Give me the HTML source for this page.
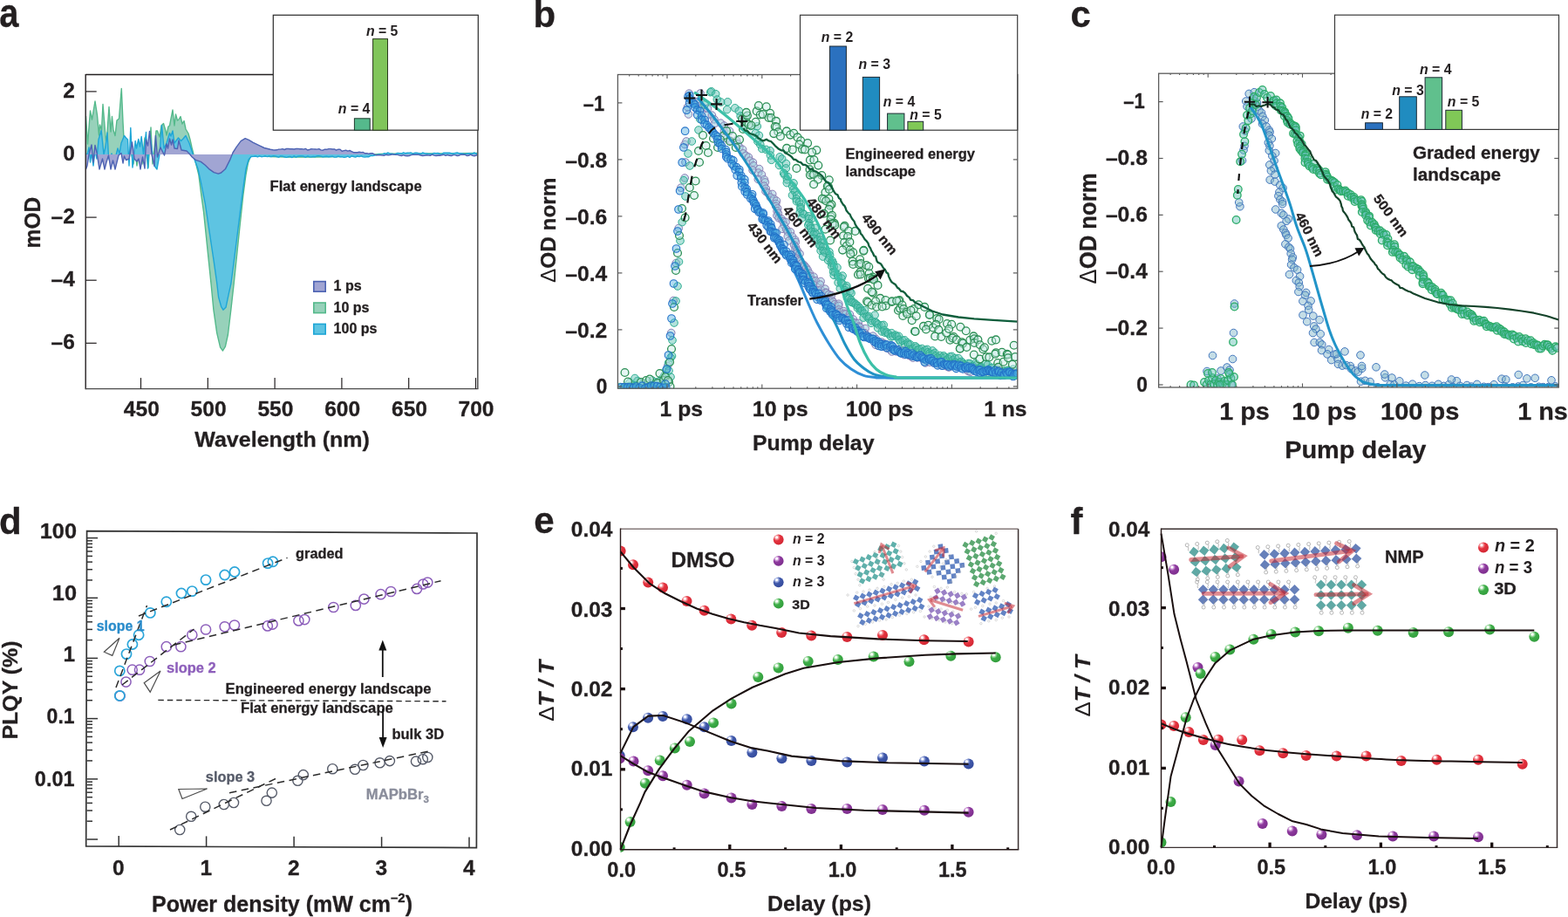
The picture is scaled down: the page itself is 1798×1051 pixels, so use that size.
<!DOCTYPE html>
<html lang="en"><head><meta charset="utf-8"><title>Figure</title>
<style>
html,body{margin:0;padding:0;background:#fff;}
body{width:1798px;height:1051px;overflow:hidden;}
svg{display:block;}
svg text{font-family:"Liberation Sans",sans-serif;font-weight:bold;stroke-width:0.3px;stroke-linejoin:round;}
</style></head><body>
<svg width="1798" height="1051" viewBox="0 0 1798 1051">
<defs><clipPath id="clipA"><rect x="98.2" y="85.5" width="449.6" height="360"/></clipPath><clipPath id="clipB"><rect x="708.4" y="85.5" width="458.4" height="359.7"/></clipPath><clipPath id="clipC"><rect x="1328.6" y="84.2" width="458.7" height="359.8"/></clipPath><radialGradient id="g_red" cx="0.34" cy="0.3" r="0.8" fx="0.32" fy="0.27"><stop offset="0" stop-color="#fff"/><stop offset="0.1" stop-color="#fff"/><stop offset="0.2" stop-color="#f6a3a8"/><stop offset="0.42" stop-color="#e5333f"/><stop offset="1" stop-color="#cf2632"/></radialGradient><radialGradient id="g_purple" cx="0.34" cy="0.3" r="0.8" fx="0.32" fy="0.27"><stop offset="0" stop-color="#fff"/><stop offset="0.1" stop-color="#fff"/><stop offset="0.2" stop-color="#d6a8de"/><stop offset="0.42" stop-color="#8e3a9e"/><stop offset="1" stop-color="#7a2c8a"/></radialGradient><radialGradient id="g_blue" cx="0.34" cy="0.3" r="0.8" fx="0.32" fy="0.27"><stop offset="0" stop-color="#fff"/><stop offset="0.1" stop-color="#fff"/><stop offset="0.2" stop-color="#aab8e6"/><stop offset="0.42" stop-color="#4059ab"/><stop offset="1" stop-color="#33499a"/></radialGradient><radialGradient id="g_green" cx="0.34" cy="0.3" r="0.8" fx="0.32" fy="0.27"><stop offset="0" stop-color="#fff"/><stop offset="0.1" stop-color="#fff"/><stop offset="0.2" stop-color="#b4e4b6"/><stop offset="0.42" stop-color="#3fae49"/><stop offset="1" stop-color="#2f9a3a"/></radialGradient><pattern id="ck_teal" width="8.6" height="8.6" patternUnits="userSpaceOnUse" patternTransform="rotate(-33)"><rect width="4.3" height="4.3" fill="#5fb0ab"/><rect x="4.3" y="4.3" width="4.3" height="4.3" fill="#5fb0ab"/></pattern><pattern id="ck_blueA" width="8.6" height="8.6" patternUnits="userSpaceOnUse" patternTransform="rotate(-38)"><rect width="4.3" height="4.3" fill="#6283c4"/><rect x="4.3" y="4.3" width="4.3" height="4.3" fill="#6283c4"/></pattern><pattern id="ck_green" width="8.6" height="8.6" patternUnits="userSpaceOnUse" patternTransform="rotate(33)"><rect width="4.3" height="4.3" fill="#5ca871"/><rect x="4.3" y="4.3" width="4.3" height="4.3" fill="#5ca871"/></pattern><pattern id="ck_blueB" width="8.6" height="8.6" patternUnits="userSpaceOnUse" patternTransform="rotate(-27)"><rect width="4.3" height="4.3" fill="#6283c4"/><rect x="4.3" y="4.3" width="4.3" height="4.3" fill="#6283c4"/></pattern><pattern id="ck_purp" width="8.6" height="8.6" patternUnits="userSpaceOnUse" patternTransform="rotate(30)"><rect width="4.3" height="4.3" fill="#9a80c6"/><rect x="4.3" y="4.3" width="4.3" height="4.3" fill="#9a80c6"/></pattern><pattern id="ck_blueC" width="8.6" height="8.6" patternUnits="userSpaceOnUse" patternTransform="rotate(-25)"><rect width="4.3" height="4.3" fill="#6283c4"/><rect x="4.3" y="4.3" width="4.3" height="4.3" fill="#6283c4"/></pattern><clipPath id="clipE"><rect x="711.5" y="600" width="460" height="378"/></clipPath><clipPath id="clipF"><rect x="1331.5" y="600" width="460" height="378"/></clipPath></defs>
<rect width="1798" height="1051" fill="#fff"/>
<g clip-path="url(#clipA)">
<path d="M98.5 177 L98.5 133 L100.5 165 L103.5 127 L105.5 137 L109 116 L111.5 132 L113.5 155 L114.5 143 L116.5 149 L118 119.5 L120.5 150 L122 165 L125 122.5 L127 151 L128.5 133.5 L130 149 L132 155.5 L134 138 L136.5 136 L139.3 101.5 L141 140 L142.5 168 L146 180 L150 172 L153 188 L155 175 L157 190 L160 170 L163 188 L166 158 L168 178 L170 192 L173 146 L175 188 L179 150 L180.5 150 L183 157 L185 144 L187.5 141.5 L190 150 L191 155 L193 145 L194.5 144 L198 126 L200 144 L201.5 131 L203.5 138 L205 137 L207 133.5 L209 142 L211 138.5 L213 148 L216 153 L218 160 L220 169 L222 177 L224.4 186.7 L227.8 200 L231 225 L233.6 243.4 L237 276.8 L240.3 308.5 L242.3 328 L244.8 354.3 L248.7 381.6 L252.6 398.1 L255.5 402 L258.4 397.2 L261.4 383.5 L264.9 354.3 L268.2 325 L272 288.5 L275.3 256.8 L278.7 225 L282 200 L284.5 186.7 L287 180 L289.5 177 L295 178.5 L310 179.5 L330 180 L360 180 L390 179.5 L415 178.5 L435 176.5 L470 176 L510 176 L547.5 175.5 L547.5 177 Z" fill="#97d1ba" stroke="none"/><path d="M98.5 133 L100.5 165 L103.5 127 L105.5 137 L109 116 L111.5 132 L113.5 155 L114.5 143 L116.5 149 L118 119.5 L120.5 150 L122 165 L125 122.5 L127 151 L128.5 133.5 L130 149 L132 155.5 L134 138 L136.5 136 L139.3 101.5 L141 140 L142.5 168 L146 180 L150 172 L153 188 L155 175 L157 190 L160 170 L163 188 L166 158 L168 178 L170 192 L173 146 L175 188 L179 150 L180.5 150 L183 157 L185 144 L187.5 141.5 L190 150 L191 155 L193 145 L194.5 144 L198 126 L200 144 L201.5 131 L203.5 138 L205 137 L207 133.5 L209 142 L211 138.5 L213 148 L216 153 L218 160 L220 169 L222 177 L224.4 186.7 L227.8 200 L231 225 L233.6 243.4 L237 276.8 L240.3 308.5 L242.3 328 L244.8 354.3 L248.7 381.6 L252.6 398.1 L255.5 402 L258.4 397.2 L261.4 383.5 L264.9 354.3 L268.2 325 L272 288.5 L275.3 256.8 L278.7 225 L282 200 L284.5 186.7 L287 180 L289.5 177 L295 178.5 L310 179.5 L330 180 L360 180 L390 179.5 L415 178.5 L435 176.5 L470 176 L510 176 L547.5 175.5" fill="none" stroke="#54b98b" stroke-width="1.4" stroke-linejoin="round"/>
<path d="M98.5 177 L98.5 177 L100 177 L102 169 L103.5 186 L105 175 L107 190 L109 172 L111 182 L113 160 L116.2 149.5 L119 177 L121 168 L123 152 L124.5 180 L126 185 L128 176 L131 188 L133 178 L135 170 L137 176 L139 164 L142.5 155.5 L144.5 158 L146.5 160 L148 190 L149.8 146.5 L152 192 L155.2 161.5 L156.5 170 L158.8 159.5 L160.5 168 L162.2 156.5 L164.5 177 L167.5 151.5 L169.5 193 L172 155 L175 177 L177 190 L180 194 L183 177 L185.5 143.5 L188 170 L191 164 L194.5 152.5 L196 156 L198 150 L200 164 L204.5 158 L207.5 161.5 L210 159 L213 155.5 L217 164 L221 176 L222 180 L227 193.4 L230.3 208.4 L235.3 233.4 L240.3 266.8 L245.3 300.2 L248.6 323.5 L250.6 340.6 L253.6 351.3 L255.9 355.2 L259 352.3 L262.3 336.7 L264.9 325 L268.6 296.8 L272 270 L275.3 243.4 L278.7 216.7 L282 193.4 L285 183 L288 179.5 L291 179.3 L293.2 179 L295.4 179.9 L297.6 178.8 L299.8 179.7 L302 179.4 L304.2 178.8 L306.4 179.6 L308.6 178.8 L310.8 179.5 L313 178.8 L315.2 178.9 L317.4 179.5 L319.6 180.2 L321.8 178.9 L324 179.1 L326.2 179.8 L328.4 180.4 L330.6 179.7 L332.8 179.4 L335 180.5 L337.2 178.8 L339.4 180.2 L341.6 179.2 L343.8 179 L346 178.9 L348.2 179.3 L350.4 180.2 L352.6 179 L354.8 179.7 L357 179.9 L359.2 179.4 L361.4 179.7 L363.6 178.8 L365.8 178.8 L368 179.1 L370.2 179.9 L372.4 179.5 L374.6 179.3 L376.8 179.8 L379 179.5 L381.2 179.2 L383.4 180.1 L385.6 180 L387.8 179.1 L390 179.7 L392.2 179.6 L394.4 180.3 L396.6 180 L398.8 179.2 L401 180.5 L403.2 178.9 L405.4 179.5 L407.6 180.1 L409.8 179 L412 179.6 L414.2 178.8 L416.4 179.9 L418.6 180.1 L420.8 179.6 L423 179.7 L425.2 178.3 L427.4 178.6 L429.6 178 L431.8 177.6 L434 177 L436.2 177.3 L438.4 177.1 L440.6 175.8 L442.8 176.1 L445 175 L447.2 176.2 L449.4 176.1 L451.6 176.7 L453.8 176.4 L456 175.4 L458.2 175.6 L460.4 176.1 L462.6 174.9 L464.8 175.7 L467 175.2 L469.2 175.1 L471.4 175 L473.6 176.3 L475.8 175.1 L478 175.3 L480.2 175.6 L482.4 176.5 L484.6 175 L486.8 175.7 L489 175.9 L491.2 176.5 L493.4 176.4 L495.6 176.5 L497.8 175.4 L500 175.6 L502.2 175.5 L504.4 176.5 L506.6 176.6 L508.8 175.2 L511 175.2 L513.2 175.3 L515.4 175.3 L517.6 175.8 L519.8 176 L522 175.4 L524.2 174.9 L526.4 175.7 L528.6 175.6 L530.8 175.9 L533 176.6 L535.2 176.1 L537.4 175.8 L539.6 176 L541.8 176.1 L544 175 L546.2 176.5 L547.5 175.5 L547.5 177 Z" fill="#5ec4e2" stroke="none"/><path d="M98.5 177 L100 177 L102 169 L103.5 186 L105 175 L107 190 L109 172 L111 182 L113 160 L116.2 149.5 L119 177 L121 168 L123 152 L124.5 180 L126 185 L128 176 L131 188 L133 178 L135 170 L137 176 L139 164 L142.5 155.5 L144.5 158 L146.5 160 L148 190 L149.8 146.5 L152 192 L155.2 161.5 L156.5 170 L158.8 159.5 L160.5 168 L162.2 156.5 L164.5 177 L167.5 151.5 L169.5 193 L172 155 L175 177 L177 190 L180 194 L183 177 L185.5 143.5 L188 170 L191 164 L194.5 152.5 L196 156 L198 150 L200 164 L204.5 158 L207.5 161.5 L210 159 L213 155.5 L217 164 L221 176 L222 180 L227 193.4 L230.3 208.4 L235.3 233.4 L240.3 266.8 L245.3 300.2 L248.6 323.5 L250.6 340.6 L253.6 351.3 L255.9 355.2 L259 352.3 L262.3 336.7 L264.9 325 L268.6 296.8 L272 270 L275.3 243.4 L278.7 216.7 L282 193.4 L285 183 L288 179.5 L291 179.3 L293.2 179 L295.4 179.9 L297.6 178.8 L299.8 179.7 L302 179.4 L304.2 178.8 L306.4 179.6 L308.6 178.8 L310.8 179.5 L313 178.8 L315.2 178.9 L317.4 179.5 L319.6 180.2 L321.8 178.9 L324 179.1 L326.2 179.8 L328.4 180.4 L330.6 179.7 L332.8 179.4 L335 180.5 L337.2 178.8 L339.4 180.2 L341.6 179.2 L343.8 179 L346 178.9 L348.2 179.3 L350.4 180.2 L352.6 179 L354.8 179.7 L357 179.9 L359.2 179.4 L361.4 179.7 L363.6 178.8 L365.8 178.8 L368 179.1 L370.2 179.9 L372.4 179.5 L374.6 179.3 L376.8 179.8 L379 179.5 L381.2 179.2 L383.4 180.1 L385.6 180 L387.8 179.1 L390 179.7 L392.2 179.6 L394.4 180.3 L396.6 180 L398.8 179.2 L401 180.5 L403.2 178.9 L405.4 179.5 L407.6 180.1 L409.8 179 L412 179.6 L414.2 178.8 L416.4 179.9 L418.6 180.1 L420.8 179.6 L423 179.7 L425.2 178.3 L427.4 178.6 L429.6 178 L431.8 177.6 L434 177 L436.2 177.3 L438.4 177.1 L440.6 175.8 L442.8 176.1 L445 175 L447.2 176.2 L449.4 176.1 L451.6 176.7 L453.8 176.4 L456 175.4 L458.2 175.6 L460.4 176.1 L462.6 174.9 L464.8 175.7 L467 175.2 L469.2 175.1 L471.4 175 L473.6 176.3 L475.8 175.1 L478 175.3 L480.2 175.6 L482.4 176.5 L484.6 175 L486.8 175.7 L489 175.9 L491.2 176.5 L493.4 176.4 L495.6 176.5 L497.8 175.4 L500 175.6 L502.2 175.5 L504.4 176.5 L506.6 176.6 L508.8 175.2 L511 175.2 L513.2 175.3 L515.4 175.3 L517.6 175.8 L519.8 176 L522 175.4 L524.2 174.9 L526.4 175.7 L528.6 175.6 L530.8 175.9 L533 176.6 L535.2 176.1 L537.4 175.8 L539.6 176 L541.8 176.1 L544 175 L546.2 176.5 L547.5 175.5" fill="none" stroke="#1ea6d6" stroke-width="1.4" stroke-linejoin="round"/>
<path d="M98.5 177 L98.5 194 L100 190 L102 177 L105 166 L107 186 L109 166.5 L111 175 L114 194 L117.5 182 L120 194 L122 186 L124.5 178 L127 194 L129.5 184 L132 194 L134 186 L136 178 L139 175.5 L141 187 L142.5 179 L144.5 183.5 L148 182 L151.5 163 L154 182 L157 185 L159 182 L161 194 L163.5 180 L166 193 L167.5 160 L169.5 167 L171.5 150.5 L174 177 L177 190 L178.5 155.5 L180.5 180 L184 169 L188.5 178 L191 165 L192.5 170 L194.5 159 L196.5 166 L198 160 L200 170 L203.5 170.5 L205 161 L208 172 L211 172.5 L214 173 L217 176 L220.3 180 L224.4 183.4 L230.3 185.4 L235.3 189.2 L240.3 194.2 L245.3 197.6 L250.3 199.2 L253.6 198 L258.6 193.4 L263.6 183.4 L267 175 L271.2 168.4 L276.2 161.7 L281.2 158.6 L285.3 160.3 L290.3 163.3 L297 166.6 L303 169.5 L310 171.3 L313 171.8 L315.2 172 L317.4 171.8 L319.6 171.1 L321.8 171.1 L324 170.6 L326.2 171.5 L328.4 170.5 L330.6 170.5 L332.8 170.8 L335 170.7 L337.2 171 L339.4 170.5 L341.6 170.4 L343.8 170.7 L346 170.6 L348.2 171.1 L350.4 170.4 L352.6 172 L354.8 171.5 L357 170.7 L359.2 170.9 L361.4 171 L363.6 171.1 L365.8 170.6 L368 171.9 L370.2 172.2 L372.4 171.2 L374.6 171.3 L376.8 170.6 L379 170.6 L381.2 171 L383.4 170.9 L385.6 172.2 L387.8 171.2 L390 171.2 L392.2 173.2 L394.4 172.6 L396.6 172.2 L398.8 173.2 L401 172.5 L403.2 173.6 L405.4 174.7 L407.6 174.7 L409.8 174.7 L412 174.2 L414.2 174.6 L416.4 174.5 L418.6 175.8 L420.8 175.6 L423 176.3 L425.2 175.8 L427.4 175.8 L429.6 177.1 L431.8 177.7 L434 177.7 L436.2 177.8 L438.4 178.1 L440.6 178.2 L442.8 177.3 L445 177.8 L447.2 177.5 L449.4 177 L451.6 177 L453.8 177.4 L456 177.4 L458.2 178.1 L460.4 178.6 L462.6 177.7 L464.8 178.6 L467 178.7 L469.2 178.6 L471.4 177.6 L473.6 177.3 L475.8 177.3 L478 177.3 L480.2 177.3 L482.4 178 L484.6 178.5 L486.8 178.4 L489 177.8 L491.2 178.1 L493.4 178.3 L495.6 177.1 L497.8 178.1 L500 178.5 L502.2 178.3 L504.4 178.3 L506.6 177.8 L508.8 177.2 L511 178.3 L513.2 177.5 L515.4 178.3 L517.6 178.6 L519.8 177.6 L522 177.6 L524.2 178.6 L526.4 178.2 L528.6 177.2 L530.8 177.1 L533 177.2 L535.2 178.5 L537.4 178.4 L539.6 177.2 L541.8 178.4 L544 178.7 L546.2 178.1 L547.5 177.2 L547.5 177 Z" fill="#a1a5d3" stroke="none"/><path d="M98.5 194 L100 190 L102 177 L105 166 L107 186 L109 166.5 L111 175 L114 194 L117.5 182 L120 194 L122 186 L124.5 178 L127 194 L129.5 184 L132 194 L134 186 L136 178 L139 175.5 L141 187 L142.5 179 L144.5 183.5 L148 182 L151.5 163 L154 182 L157 185 L159 182 L161 194 L163.5 180 L166 193 L167.5 160 L169.5 167 L171.5 150.5 L174 177 L177 190 L178.5 155.5 L180.5 180 L184 169 L188.5 178 L191 165 L192.5 170 L194.5 159 L196.5 166 L198 160 L200 170 L203.5 170.5 L205 161 L208 172 L211 172.5 L214 173 L217 176 L220.3 180 L224.4 183.4 L230.3 185.4 L235.3 189.2 L240.3 194.2 L245.3 197.6 L250.3 199.2 L253.6 198 L258.6 193.4 L263.6 183.4 L267 175 L271.2 168.4 L276.2 161.7 L281.2 158.6 L285.3 160.3 L290.3 163.3 L297 166.6 L303 169.5 L310 171.3 L313 171.8 L315.2 172 L317.4 171.8 L319.6 171.1 L321.8 171.1 L324 170.6 L326.2 171.5 L328.4 170.5 L330.6 170.5 L332.8 170.8 L335 170.7 L337.2 171 L339.4 170.5 L341.6 170.4 L343.8 170.7 L346 170.6 L348.2 171.1 L350.4 170.4 L352.6 172 L354.8 171.5 L357 170.7 L359.2 170.9 L361.4 171 L363.6 171.1 L365.8 170.6 L368 171.9 L370.2 172.2 L372.4 171.2 L374.6 171.3 L376.8 170.6 L379 170.6 L381.2 171 L383.4 170.9 L385.6 172.2 L387.8 171.2 L390 171.2 L392.2 173.2 L394.4 172.6 L396.6 172.2 L398.8 173.2 L401 172.5 L403.2 173.6 L405.4 174.7 L407.6 174.7 L409.8 174.7 L412 174.2 L414.2 174.6 L416.4 174.5 L418.6 175.8 L420.8 175.6 L423 176.3 L425.2 175.8 L427.4 175.8 L429.6 177.1 L431.8 177.7 L434 177.7 L436.2 177.8 L438.4 178.1 L440.6 178.2 L442.8 177.3 L445 177.8 L447.2 177.5 L449.4 177 L451.6 177 L453.8 177.4 L456 177.4 L458.2 178.1 L460.4 178.6 L462.6 177.7 L464.8 178.6 L467 178.7 L469.2 178.6 L471.4 177.6 L473.6 177.3 L475.8 177.3 L478 177.3 L480.2 177.3 L482.4 178 L484.6 178.5 L486.8 178.4 L489 177.8 L491.2 178.1 L493.4 178.3 L495.6 177.1 L497.8 178.1 L500 178.5 L502.2 178.3 L504.4 178.3 L506.6 177.8 L508.8 177.2 L511 178.3 L513.2 177.5 L515.4 178.3 L517.6 178.6 L519.8 177.6 L522 177.6 L524.2 178.6 L526.4 178.2 L528.6 177.2 L530.8 177.1 L533 177.2 L535.2 178.5 L537.4 178.4 L539.6 177.2 L541.8 178.4 L544 178.7 L546.2 178.1 L547.5 177.2" fill="none" stroke="#4d63b3" stroke-width="1.4" stroke-linejoin="round"/>
</g>
<line x1="98.2" y1="85.5" x2="313.3" y2="85.5" stroke="#231f20" stroke-width="1.3"/>
<line x1="98.2" y1="84.9" x2="98.2" y2="446.2" stroke="#231f20" stroke-width="1.4"/>
<line x1="98.2" y1="445.6" x2="548.5" y2="445.6" stroke="#4a4a4a" stroke-width="1.4"/>
<line x1="547.8" y1="149.2" x2="547.8" y2="445.6" stroke="#5a5a5a" stroke-width="1.6"/>
<line x1="98.2" y1="104.9" x2="110.7" y2="104.9" stroke="#231f20" stroke-width="1.2"/>
<text x="85.8" y="111.8" font-size="24.5" text-anchor="end" fill="#231f20" stroke="#231f20">2</text>
<text x="85.8" y="183.9" font-size="24.5" text-anchor="end" fill="#231f20" stroke="#231f20">0</text>
<line x1="98.2" y1="249.1" x2="110.7" y2="249.1" stroke="#231f20" stroke-width="1.2"/>
<text x="85.8" y="256" font-size="24.5" text-anchor="end" fill="#231f20" stroke="#231f20">–2</text>
<line x1="98.2" y1="321.2" x2="110.7" y2="321.2" stroke="#231f20" stroke-width="1.2"/>
<text x="85.8" y="328.1" font-size="24.5" text-anchor="end" fill="#231f20" stroke="#231f20">–4</text>
<line x1="98.2" y1="393.3" x2="110.7" y2="393.3" stroke="#231f20" stroke-width="1.2"/>
<text x="85.8" y="400.2" font-size="24.5" text-anchor="end" fill="#231f20" stroke="#231f20">–6</text>
<line x1="161.5" y1="433.1" x2="161.5" y2="445.6" stroke="#231f20" stroke-width="1.2"/>
<text x="162.3" y="477.3" font-size="24" text-anchor="middle" textLength="41" lengthAdjust="spacingAndGlyphs" fill="#231f20" stroke="#231f20">450</text>
<line x1="238.3" y1="433.1" x2="238.3" y2="445.6" stroke="#231f20" stroke-width="1.2"/>
<text x="239.1" y="477.3" font-size="24" text-anchor="middle" textLength="41" lengthAdjust="spacingAndGlyphs" fill="#231f20" stroke="#231f20">500</text>
<line x1="315.1" y1="433.1" x2="315.1" y2="445.6" stroke="#231f20" stroke-width="1.2"/>
<text x="315.9" y="477.3" font-size="24" text-anchor="middle" textLength="41" lengthAdjust="spacingAndGlyphs" fill="#231f20" stroke="#231f20">550</text>
<line x1="391.9" y1="433.1" x2="391.9" y2="445.6" stroke="#231f20" stroke-width="1.2"/>
<text x="392.7" y="477.3" font-size="24" text-anchor="middle" textLength="41" lengthAdjust="spacingAndGlyphs" fill="#231f20" stroke="#231f20">600</text>
<line x1="468.7" y1="433.1" x2="468.7" y2="445.6" stroke="#231f20" stroke-width="1.2"/>
<text x="469.5" y="477.3" font-size="24" text-anchor="middle" textLength="41" lengthAdjust="spacingAndGlyphs" fill="#231f20" stroke="#231f20">650</text>
<line x1="545.5" y1="433.1" x2="545.5" y2="445.6" stroke="#231f20" stroke-width="1.2"/>
<text x="546" y="477.3" font-size="24" text-anchor="middle" textLength="41" lengthAdjust="spacingAndGlyphs" fill="#231f20" stroke="#231f20">700</text>
<text x="223.3" y="512.4" font-size="24" textLength="200.5" lengthAdjust="spacingAndGlyphs" fill="#231f20" stroke="#231f20">Wavelength (nm)</text>
<text font-size="25.5" textLength="58.6" lengthAdjust="spacingAndGlyphs" transform="translate(46.3 284.4) rotate(-90)" fill="#231f20" stroke="#231f20">mOD</text>
<rect x="313.3" y="17.3" width="235" height="131.9" fill="#fff" stroke="#2a2a2a" stroke-width="1.2"/>
<rect x="406.4" y="135.8" width="17.8" height="13.4" fill="#55b98c" stroke="#1f3a2e" stroke-width="1"/>
<rect x="427.6" y="44.6" width="16.9" height="104.6" fill="#80c55a" stroke="#2a3a1e" stroke-width="1"/>
<text x="420" y="40.6" font-size="16.4" textLength="36.4" lengthAdjust="spacingAndGlyphs" fill="#231f20"><tspan font-style="italic">n</tspan> = 5</text>
<text x="387.8" y="129.6" font-size="16.4" textLength="36.6" lengthAdjust="spacingAndGlyphs" fill="#231f20"><tspan font-style="italic">n</tspan> = 4</text>
<text x="309.6" y="218.7" font-size="16" textLength="174" lengthAdjust="spacingAndGlyphs" fill="#231f20" stroke="#231f20">Flat energy landscape</text>
<rect x="359.8" y="322.6" width="13.4" height="11.6" fill="#a1a5d3" stroke="#4d63b3" stroke-width="1.6"/>
<text x="382.6" y="333.2" font-size="16" fill="#231f20" stroke="#231f20">1 ps</text>
<rect x="359.8" y="347" width="13.4" height="11.6" fill="#97d1ba" stroke="#54b98b" stroke-width="1.6"/>
<text x="382.6" y="357.6" font-size="16" fill="#231f20" stroke="#231f20">10 ps</text>
<rect x="359.8" y="371.4" width="13.4" height="11.6" fill="#5ec4e2" stroke="#1ea6d6" stroke-width="1.6"/>
<text x="382.6" y="382" font-size="16" fill="#231f20" stroke="#231f20">100 ps</text>
<text x="-0.8" y="31.3" font-size="46" textLength="22.2" lengthAdjust="spacingAndGlyphs" fill="#231f20" stroke="#231f20">a</text>
<g clip-path="url(#clipB)">
<g fill="rgba(150,200,220,0.5)" stroke="#8b7db5" stroke-width="1.0"><circle cx="765.7" cy="419.5" r="4.3"/><circle cx="769.7" cy="381.5" r="4.3"/><circle cx="772.2" cy="344.5" r="4.3"/><circle cx="775.2" cy="301.5" r="4.3"/><circle cx="778.2" cy="261.5" r="4.3"/><circle cx="780.8" cy="215.2" r="4.3"/><circle cx="785.1" cy="165.5" r="4.3"/><circle cx="788.5" cy="122.7" r="4.3"/><circle cx="785.2" cy="204" r="4.3"/><circle cx="786" cy="186" r="4.3"/><circle cx="787" cy="162" r="4.3"/><circle cx="789.5" cy="131" r="4.3"/><circle cx="803" cy="107" r="4.3"/><circle cx="790.2" cy="107.1" r="4.3"/><circle cx="791.2" cy="113.3" r="4.3"/><circle cx="795.2" cy="115.7" r="4.3"/><circle cx="800.6" cy="116.1" r="4.3"/><circle cx="801.1" cy="122" r="4.3"/><circle cx="805.3" cy="123.8" r="4.3"/><circle cx="811.4" cy="124.5" r="4.3"/><circle cx="810.8" cy="132" r="4.3"/><circle cx="816.4" cy="132.1" r="4.3"/><circle cx="819" cy="136.8" r="4.3"/><circle cx="820.1" cy="141.2" r="4.3"/><circle cx="826.5" cy="141.1" r="4.3"/><circle cx="830.4" cy="144" r="4.3"/><circle cx="830.4" cy="150.2" r="4.3"/><circle cx="836.6" cy="150.2" r="4.3"/><circle cx="833.6" cy="158.9" r="4.3"/><circle cx="837.5" cy="161.2" r="4.3"/><circle cx="844.5" cy="161.1" r="4.3"/><circle cx="846.1" cy="164.8" r="4.3"/><circle cx="847.9" cy="168.5" r="4.3"/><circle cx="851.6" cy="171.3" r="4.3"/><circle cx="852.3" cy="175.9" r="4.3"/><circle cx="855.3" cy="178.3" r="4.3"/><circle cx="858.4" cy="180.1" r="4.3"/><circle cx="859.8" cy="184.2" r="4.3"/><circle cx="863.4" cy="186.1" r="4.3"/><circle cx="863.9" cy="189.8" r="4.3"/><circle cx="863.1" cy="195.1" r="4.3"/><circle cx="870.6" cy="193.6" r="4.3"/><circle cx="869.7" cy="198" r="4.3"/><circle cx="873.4" cy="200" r="4.3"/><circle cx="869.3" cy="205.5" r="4.3"/><circle cx="876.4" cy="205.8" r="4.3"/><circle cx="877.4" cy="208.9" r="4.3"/><circle cx="876.2" cy="213.1" r="4.3"/><circle cx="878.3" cy="216.1" r="4.3"/><circle cx="878" cy="219.4" r="4.3"/><circle cx="880.4" cy="221.2" r="4.3"/><circle cx="885.7" cy="222.4" r="4.3"/><circle cx="883.4" cy="226.1" r="4.3"/><circle cx="887.4" cy="227.9" r="4.3"/><circle cx="890.5" cy="230.2" r="4.3"/><circle cx="889.7" cy="233.5" r="4.3"/><circle cx="889.7" cy="236.4" r="4.3"/><circle cx="891.7" cy="238.9" r="4.3"/><circle cx="891.1" cy="242" r="4.3"/><circle cx="892.4" cy="244.7" r="4.3"/><circle cx="890.9" cy="247.1" r="4.3"/><circle cx="893.1" cy="249.9" r="4.3"/><circle cx="896.2" cy="250.9" r="4.3"/><circle cx="897.9" cy="253.7" r="4.3"/><circle cx="901" cy="254.5" r="4.3"/><circle cx="899.2" cy="258.2" r="4.3"/><circle cx="897.1" cy="262.3" r="4.3"/><circle cx="901.7" cy="262.8" r="4.3"/><circle cx="903.1" cy="265.5" r="4.3"/><circle cx="906.4" cy="265.9" r="4.3"/><circle cx="903.3" cy="270.9" r="4.3"/><circle cx="908.4" cy="271" r="4.3"/><circle cx="904.9" cy="275.8" r="4.3"/><circle cx="911.6" cy="274.9" r="4.3"/><circle cx="912.3" cy="277.5" r="4.3"/><circle cx="910.5" cy="280.7" r="4.3"/><circle cx="912.3" cy="283" r="4.3"/><circle cx="912" cy="286.3" r="4.3"/><circle cx="914.1" cy="286.9" r="4.3"/><circle cx="913.8" cy="290.3" r="4.3"/><circle cx="917" cy="290.8" r="4.3"/><circle cx="913.2" cy="296.3" r="4.3"/><circle cx="916.6" cy="297.9" r="4.3"/><circle cx="917.8" cy="299.2" r="4.3"/><circle cx="919.2" cy="301.9" r="4.3"/><circle cx="921.8" cy="303.6" r="4.3"/><circle cx="922.6" cy="305.1" r="4.3"/><circle cx="924.6" cy="306.9" r="4.3"/><circle cx="926.1" cy="309.4" r="4.3"/><circle cx="924.6" cy="312.9" r="4.3"/><circle cx="928.3" cy="313.3" r="4.3"/><circle cx="929.3" cy="316.5" r="4.3"/><circle cx="933" cy="317.2" r="4.3"/><circle cx="931.1" cy="320.9" r="4.3"/><circle cx="935.2" cy="321.8" r="4.3"/><circle cx="932.5" cy="326.3" r="4.3"/><circle cx="941.1" cy="322.5" r="4.3"/><circle cx="940.4" cy="326.1" r="4.3"/><circle cx="937.9" cy="332.5" r="4.3"/><circle cx="941.3" cy="332.2" r="4.3"/><circle cx="946.1" cy="331.1" r="4.3"/><circle cx="946.7" cy="335.1" r="4.3"/><circle cx="947.9" cy="335.7" r="4.3"/><circle cx="950.4" cy="337.5" r="4.3"/><circle cx="953.3" cy="338.5" r="4.3"/><circle cx="951" cy="344.2" r="4.3"/><circle cx="954" cy="344.2" r="4.3"/><circle cx="955.5" cy="346.2" r="4.3"/><circle cx="957" cy="348.8" r="4.3"/><circle cx="961.8" cy="348.2" r="4.3"/><circle cx="961.7" cy="350.4" r="4.3"/><circle cx="961.8" cy="354.9" r="4.3"/><circle cx="962.6" cy="357.7" r="4.3"/><circle cx="967.3" cy="356.6" r="4.3"/><circle cx="967.9" cy="359.3" r="4.3"/><circle cx="969.6" cy="360.1" r="4.3"/><circle cx="974.4" cy="360.3" r="4.3"/><circle cx="973.8" cy="363.8" r="4.3"/><circle cx="975.1" cy="366.3" r="4.3"/><circle cx="978.4" cy="366" r="4.3"/><circle cx="978.8" cy="369.8" r="4.3"/><circle cx="981" cy="370.1" r="4.3"/><circle cx="984.2" cy="370.4" r="4.3"/><circle cx="985.1" cy="374.1" r="4.3"/><circle cx="986.3" cy="375.1" r="4.3"/><circle cx="986.7" cy="378.9" r="4.3"/><circle cx="992.1" cy="376.5" r="4.3"/><circle cx="991.5" cy="381.6" r="4.3"/><circle cx="992.5" cy="383.9" r="4.3"/><circle cx="995.1" cy="385.6" r="4.3"/><circle cx="996" cy="386.6" r="4.3"/><circle cx="1001" cy="385.1" r="4.3"/><circle cx="1001.8" cy="388.5" r="4.3"/><circle cx="1004.4" cy="388.5" r="4.3"/><circle cx="1004.1" cy="395.3" r="4.3"/><circle cx="1007.6" cy="392.5" r="4.3"/><circle cx="1010.9" cy="392.1" r="4.3"/><circle cx="1013.2" cy="393.5" r="4.3"/><circle cx="1014.9" cy="395.2" r="4.3"/><circle cx="1016.3" cy="398.8" r="4.3"/><circle cx="1019.5" cy="398.2" r="4.3"/><circle cx="1020.5" cy="400.5" r="4.3"/><circle cx="1022.6" cy="403" r="4.3"/><circle cx="1026" cy="400.6" r="4.3"/><circle cx="1027.6" cy="402.8" r="4.3"/><circle cx="1030.3" cy="402.2" r="4.3"/><circle cx="1033" cy="402.3" r="4.3"/><circle cx="1036.1" cy="401.5" r="4.3"/><circle cx="1036.9" cy="406.6" r="4.3"/><circle cx="1040.6" cy="403.4" r="4.3"/><circle cx="1042.3" cy="407.3" r="4.3"/><circle cx="1044.2" cy="408.2" r="4.3"/><circle cx="1046.8" cy="410.1" r="4.3"/><circle cx="1050.2" cy="407.7" r="4.3"/><circle cx="1051.9" cy="409.9" r="4.3"/><circle cx="1055.5" cy="406.2" r="4.3"/><circle cx="1056.9" cy="410.5" r="4.3"/><circle cx="1059.6" cy="411.7" r="4.3"/><circle cx="1061.1" cy="415.9" r="4.3"/><circle cx="1064.5" cy="412.2" r="4.3"/><circle cx="1066" cy="415.1" r="4.3"/><circle cx="1069.2" cy="414" r="4.3"/><circle cx="1071.2" cy="416" r="4.3"/><circle cx="1074" cy="416.3" r="4.3"/><circle cx="1075.7" cy="416.8" r="4.3"/><circle cx="1079.8" cy="413.4" r="4.3"/><circle cx="1080.6" cy="418.8" r="4.3"/><circle cx="1084.1" cy="415.6" r="4.3"/><circle cx="1086.2" cy="420.1" r="4.3"/><circle cx="1088" cy="421" r="4.3"/><circle cx="1090.9" cy="417.9" r="4.3"/><circle cx="1094.9" cy="415.5" r="4.3"/><circle cx="1095.6" cy="418.9" r="4.3"/><circle cx="1098.3" cy="419.5" r="4.3"/><circle cx="1101.1" cy="418" r="4.3"/><circle cx="1104" cy="419.9" r="4.3"/><circle cx="1105.5" cy="420" r="4.3"/><circle cx="1108.6" cy="424" r="4.3"/><circle cx="1110.4" cy="425.5" r="4.3"/><circle cx="1112.8" cy="426.2" r="4.3"/><circle cx="1116.4" cy="421.3" r="4.3"/><circle cx="1118.8" cy="422.6" r="4.3"/><circle cx="1120" cy="424.7" r="4.3"/><circle cx="1123.8" cy="421" r="4.3"/><circle cx="1125.4" cy="422.9" r="4.3"/><circle cx="1127.6" cy="428.8" r="4.3"/><circle cx="1130.5" cy="425.4" r="4.3"/><circle cx="1132.7" cy="423.6" r="4.3"/><circle cx="1135.9" cy="426.7" r="4.3"/><circle cx="1138.5" cy="425.9" r="4.3"/><circle cx="1140.8" cy="424.8" r="4.3"/><circle cx="1143.5" cy="424.6" r="4.3"/><circle cx="1146.1" cy="424.3" r="4.3"/><circle cx="1147.1" cy="428.7" r="4.3"/><circle cx="1149.9" cy="427.8" r="4.3"/><circle cx="1152.5" cy="429.7" r="4.3"/><circle cx="1155.6" cy="426.4" r="4.3"/><circle cx="1157.7" cy="427.3" r="4.3"/><circle cx="1160.7" cy="426.4" r="4.3"/><circle cx="1162.4" cy="427.6" r="4.3"/><circle cx="1165.9" cy="428.3" r="4.3"/></g>
<g fill="rgba(85,190,175,0.45)" stroke="#2eae92" stroke-width="1.0"><circle cx="711" cy="443.5" r="4.3"/><circle cx="714.4" cy="444.9" r="4.3"/><circle cx="717.8" cy="443.6" r="4.3"/><circle cx="721.2" cy="442.7" r="4.3"/><circle cx="724.6" cy="444" r="4.3"/><circle cx="728" cy="442.4" r="4.3"/><circle cx="731.4" cy="442.4" r="4.3"/><circle cx="734.8" cy="444.2" r="4.3"/><circle cx="738.2" cy="445" r="4.3"/><circle cx="741.6" cy="444.1" r="4.3"/><circle cx="745" cy="442.6" r="4.3"/><circle cx="748.4" cy="443.7" r="4.3"/><circle cx="751.8" cy="442.7" r="4.3"/><circle cx="755.2" cy="442.2" r="4.3"/><circle cx="758.6" cy="443.4" r="4.3"/><circle cx="762" cy="443.7" r="4.3"/><circle cx="731" cy="436.5" r="4.3"/><circle cx="728" cy="433.5" r="4.3"/><circle cx="722" cy="438.5" r="4.3"/><circle cx="743" cy="437" r="4.3"/><circle cx="748" cy="436" r="4.3"/><circle cx="737" cy="439.5" r="4.3"/><circle cx="752" cy="438" r="4.3"/><circle cx="757" cy="436" r="4.3"/><circle cx="760" cy="433" r="4.3"/><circle cx="762" cy="430" r="4.3"/><circle cx="764" cy="424" r="4.3"/><circle cx="766.5" cy="416" r="4.3"/><circle cx="769" cy="432" r="4.3"/><circle cx="770.5" cy="408" r="4.3"/><circle cx="767" cy="425" r="4.3"/><circle cx="769" cy="410" r="4.3"/><circle cx="771" cy="390" r="4.3"/><circle cx="773" cy="370" r="4.3"/><circle cx="775" cy="345" r="4.3"/><circle cx="777" cy="328" r="4.3"/><circle cx="778.5" cy="300" r="4.3"/><circle cx="780" cy="276" r="4.3"/><circle cx="782.2" cy="254.6" r="4.3"/><circle cx="784" cy="206.7" r="4.3"/><circle cx="789" cy="176" r="4.3"/><circle cx="793.3" cy="162" r="4.3"/><circle cx="801" cy="149" r="4.3"/><circle cx="802.7" cy="136.5" r="4.3"/><circle cx="808" cy="120" r="4.3"/><circle cx="814.7" cy="105.7" r="4.3"/><circle cx="786" cy="225" r="4.3"/><circle cx="791" cy="190" r="4.3"/><circle cx="815.7" cy="104.8" r="4.3"/><circle cx="820.7" cy="107.7" r="4.3"/><circle cx="822.3" cy="114" r="4.3"/><circle cx="826.7" cy="117" r="4.3"/><circle cx="834.4" cy="116.8" r="4.3"/><circle cx="833.7" cy="125.6" r="4.3"/><circle cx="842.8" cy="123.8" r="4.3"/><circle cx="847.3" cy="127.1" r="4.3"/><circle cx="849.2" cy="132.9" r="4.3"/><circle cx="855.2" cy="133.9" r="4.3"/><circle cx="854.1" cy="143.2" r="4.3"/><circle cx="860.9" cy="144.5" r="4.3"/><circle cx="868.3" cy="144.8" r="4.3"/><circle cx="866.4" cy="152.6" r="4.3"/><circle cx="870.4" cy="155.2" r="4.3"/><circle cx="868.8" cy="162.1" r="4.3"/><circle cx="871.8" cy="165.8" r="4.3"/><circle cx="873.8" cy="170.5" r="4.3"/><circle cx="878.5" cy="171.4" r="4.3"/><circle cx="883.1" cy="172.7" r="4.3"/><circle cx="883.4" cy="178" r="4.3"/><circle cx="884.6" cy="183.3" r="4.3"/><circle cx="894.2" cy="179.8" r="4.3"/><circle cx="896.7" cy="182.1" r="4.3"/><circle cx="893.5" cy="189.5" r="4.3"/><circle cx="901.5" cy="187.5" r="4.3"/><circle cx="901.3" cy="192.9" r="4.3"/><circle cx="898.6" cy="198.4" r="4.3"/><circle cx="899.6" cy="200.3" r="4.3"/><circle cx="903.3" cy="202.5" r="4.3"/><circle cx="902.5" cy="205.9" r="4.3"/><circle cx="902.3" cy="209.6" r="4.3"/><circle cx="910" cy="209.9" r="4.3"/><circle cx="908.6" cy="213.2" r="4.3"/><circle cx="909.7" cy="217.1" r="4.3"/><circle cx="911.4" cy="219.6" r="4.3"/><circle cx="908.5" cy="223.8" r="4.3"/><circle cx="913.7" cy="223.9" r="4.3"/><circle cx="913.2" cy="228" r="4.3"/><circle cx="913.4" cy="230.8" r="4.3"/><circle cx="916.6" cy="231.6" r="4.3"/><circle cx="918.5" cy="234.2" r="4.3"/><circle cx="918" cy="237.5" r="4.3"/><circle cx="918" cy="239.3" r="4.3"/><circle cx="917.2" cy="243.4" r="4.3"/><circle cx="920.4" cy="244.3" r="4.3"/><circle cx="922" cy="245.6" r="4.3"/><circle cx="919.6" cy="249.9" r="4.3"/><circle cx="927.2" cy="247.8" r="4.3"/><circle cx="927.5" cy="250.5" r="4.3"/><circle cx="931.3" cy="250.2" r="4.3"/><circle cx="927.7" cy="255.8" r="4.3"/><circle cx="926.8" cy="258" r="4.3"/><circle cx="929.4" cy="259.5" r="4.3"/><circle cx="929.7" cy="261.8" r="4.3"/><circle cx="934.7" cy="261.3" r="4.3"/><circle cx="930.7" cy="265.6" r="4.3"/><circle cx="934.1" cy="266.4" r="4.3"/><circle cx="933" cy="268.8" r="4.3"/><circle cx="936.2" cy="268.6" r="4.3"/><circle cx="933.6" cy="273.4" r="4.3"/><circle cx="940.5" cy="271.6" r="4.3"/><circle cx="937.2" cy="274.8" r="4.3"/><circle cx="941" cy="275.4" r="4.3"/><circle cx="941.7" cy="278" r="4.3"/><circle cx="939.7" cy="281.2" r="4.3"/><circle cx="941" cy="282.1" r="4.3"/><circle cx="943.4" cy="283.1" r="4.3"/><circle cx="941.1" cy="287.4" r="4.3"/><circle cx="944.2" cy="287.5" r="4.3"/><circle cx="945.9" cy="289.3" r="4.3"/><circle cx="950.9" cy="288.7" r="4.3"/><circle cx="943.6" cy="294.1" r="4.3"/><circle cx="951.6" cy="292.6" r="4.3"/><circle cx="950.6" cy="295.8" r="4.3"/><circle cx="949.6" cy="298.3" r="4.3"/><circle cx="954.2" cy="298.7" r="4.3"/><circle cx="953.4" cy="301.4" r="4.3"/><circle cx="955.4" cy="301.4" r="4.3"/><circle cx="953.8" cy="305.3" r="4.3"/><circle cx="956.2" cy="305.7" r="4.3"/><circle cx="960" cy="306.6" r="4.3"/><circle cx="955.6" cy="311.4" r="4.3"/><circle cx="957.5" cy="311.8" r="4.3"/><circle cx="956.2" cy="315.4" r="4.3"/><circle cx="960.6" cy="315.2" r="4.3"/><circle cx="961.1" cy="317.4" r="4.3"/><circle cx="966.1" cy="316.1" r="4.3"/><circle cx="964.9" cy="319.1" r="4.3"/><circle cx="961.1" cy="323.9" r="4.3"/><circle cx="964.6" cy="324.2" r="4.3"/><circle cx="966" cy="325.2" r="4.3"/><circle cx="963.3" cy="330.7" r="4.3"/><circle cx="970.9" cy="327.6" r="4.3"/><circle cx="970.4" cy="329.7" r="4.3"/><circle cx="969" cy="332.8" r="4.3"/><circle cx="970" cy="334.9" r="4.3"/><circle cx="974.7" cy="334" r="4.3"/><circle cx="976" cy="336" r="4.3"/><circle cx="971.4" cy="341.1" r="4.3"/><circle cx="974" cy="341.8" r="4.3"/><circle cx="975.9" cy="343.8" r="4.3"/><circle cx="975.9" cy="346.1" r="4.3"/><circle cx="977.6" cy="346.8" r="4.3"/><circle cx="979.9" cy="347.4" r="4.3"/><circle cx="981.5" cy="349.1" r="4.3"/><circle cx="983.6" cy="350.5" r="4.3"/><circle cx="983.3" cy="352.9" r="4.3"/><circle cx="986.3" cy="353.3" r="4.3"/><circle cx="986.5" cy="356.3" r="4.3"/><circle cx="988.3" cy="355.9" r="4.3"/><circle cx="991.6" cy="355.7" r="4.3"/><circle cx="990.7" cy="359.2" r="4.3"/><circle cx="990.2" cy="364.1" r="4.3"/><circle cx="994" cy="362.7" r="4.3"/><circle cx="996.4" cy="362.7" r="4.3"/><circle cx="996.2" cy="365.1" r="4.3"/><circle cx="1003.1" cy="361.2" r="4.3"/><circle cx="999.5" cy="367.6" r="4.3"/><circle cx="999.1" cy="370.3" r="4.3"/><circle cx="1003.8" cy="369.1" r="4.3"/><circle cx="1005.3" cy="370.4" r="4.3"/><circle cx="1007.1" cy="371.9" r="4.3"/><circle cx="1006.6" cy="375.9" r="4.3"/><circle cx="1010.9" cy="372.7" r="4.3"/><circle cx="1013.2" cy="372.4" r="4.3"/><circle cx="1011.3" cy="380" r="4.3"/><circle cx="1013.9" cy="378.4" r="4.3"/><circle cx="1014.9" cy="381.3" r="4.3"/><circle cx="1017.1" cy="380.9" r="4.3"/><circle cx="1018.7" cy="382.6" r="4.3"/><circle cx="1022.4" cy="381.7" r="4.3"/><circle cx="1021.7" cy="385.9" r="4.3"/><circle cx="1023.9" cy="385.4" r="4.3"/><circle cx="1026.7" cy="384" r="4.3"/><circle cx="1028.3" cy="385.6" r="4.3"/><circle cx="1030.6" cy="385.3" r="4.3"/><circle cx="1030.9" cy="389.4" r="4.3"/><circle cx="1032.6" cy="391.7" r="4.3"/><circle cx="1035" cy="390.3" r="4.3"/><circle cx="1037.3" cy="389.8" r="4.3"/><circle cx="1037.6" cy="395.1" r="4.3"/><circle cx="1040.8" cy="392.8" r="4.3"/><circle cx="1041.6" cy="394.8" r="4.3"/><circle cx="1043.8" cy="394.9" r="4.3"/><circle cx="1043.4" cy="400.5" r="4.3"/><circle cx="1046.6" cy="399.6" r="4.3"/><circle cx="1049.5" cy="396.8" r="4.3"/><circle cx="1050.9" cy="398.3" r="4.3"/><circle cx="1052.5" cy="400.8" r="4.3"/><circle cx="1054.1" cy="400.2" r="4.3"/><circle cx="1057.1" cy="399.5" r="4.3"/><circle cx="1057.5" cy="403.6" r="4.3"/><circle cx="1061" cy="401.2" r="4.3"/><circle cx="1063.2" cy="400.4" r="4.3"/><circle cx="1063.8" cy="403.8" r="4.3"/><circle cx="1066.1" cy="404.9" r="4.3"/><circle cx="1069.3" cy="401.9" r="4.3"/><circle cx="1069.4" cy="405.9" r="4.3"/><circle cx="1071.9" cy="404.4" r="4.3"/><circle cx="1072.8" cy="407.8" r="4.3"/><circle cx="1074.9" cy="409.9" r="4.3"/><circle cx="1078" cy="407.5" r="4.3"/><circle cx="1079.3" cy="409.7" r="4.3"/><circle cx="1082.2" cy="407.8" r="4.3"/><circle cx="1083.5" cy="409.5" r="4.3"/><circle cx="1084.8" cy="413.2" r="4.3"/><circle cx="1087.1" cy="411.1" r="4.3"/><circle cx="1089.3" cy="408.8" r="4.3"/><circle cx="1091.4" cy="408.4" r="4.3"/><circle cx="1092.6" cy="412.6" r="4.3"/><circle cx="1095.2" cy="410.5" r="4.3"/><circle cx="1095.7" cy="415.2" r="4.3"/><circle cx="1099.2" cy="410.7" r="4.3"/><circle cx="1100.4" cy="415.6" r="4.3"/><circle cx="1102.5" cy="414.4" r="4.3"/><circle cx="1104.2" cy="416.1" r="4.3"/><circle cx="1106.1" cy="417.7" r="4.3"/><circle cx="1107.6" cy="419" r="4.3"/><circle cx="1110.3" cy="416.5" r="4.3"/><circle cx="1112.3" cy="416.7" r="4.3"/><circle cx="1112.9" cy="420.2" r="4.3"/><circle cx="1115.8" cy="419.5" r="4.3"/><circle cx="1118.6" cy="416.4" r="4.3"/><circle cx="1120.1" cy="418" r="4.3"/><circle cx="1121.6" cy="422.7" r="4.3"/><circle cx="1123.7" cy="421.1" r="4.3"/><circle cx="1125.4" cy="420.9" r="4.3"/><circle cx="1126.8" cy="425.7" r="4.3"/><circle cx="1130.4" cy="417.1" r="4.3"/><circle cx="1132.5" cy="418.1" r="4.3"/><circle cx="1132.8" cy="427.3" r="4.3"/><circle cx="1135.9" cy="421.7" r="4.3"/><circle cx="1137.6" cy="421.3" r="4.3"/><circle cx="1139.5" cy="425.6" r="4.3"/><circle cx="1141.5" cy="426.5" r="4.3"/><circle cx="1143.1" cy="422.9" r="4.3"/><circle cx="1144.8" cy="427.2" r="4.3"/><circle cx="1146.9" cy="427.8" r="4.3"/><circle cx="1148.8" cy="427" r="4.3"/><circle cx="1151" cy="425.5" r="4.3"/><circle cx="1152.7" cy="425" r="4.3"/><circle cx="1155.5" cy="424.3" r="4.3"/><circle cx="1157.4" cy="424.7" r="4.3"/><circle cx="1159.3" cy="427.8" r="4.3"/><circle cx="1161.7" cy="423.1" r="4.3"/></g>
<g fill="rgba(200,235,230,0.45)" stroke="#2c8f55" stroke-width="1.3"><circle cx="716.5" cy="427" r="4.4"/><circle cx="720" cy="437.5" r="4.4"/><circle cx="735" cy="438" r="4.4"/><circle cx="741" cy="436" r="4.4"/><circle cx="745" cy="434.5" r="4.4"/><circle cx="754" cy="439" r="4.4"/><circle cx="756.5" cy="428" r="4.4"/><circle cx="761" cy="436" r="4.4"/><circle cx="763" cy="432" r="4.4"/><circle cx="767" cy="438" r="4.4"/><circle cx="768.5" cy="443" r="4.4"/><circle cx="766" cy="436" r="4.4"/><circle cx="768" cy="415" r="4.4"/><circle cx="770" cy="400" r="4.4"/><circle cx="773" cy="352" r="4.4"/><circle cx="775" cy="310" r="4.4"/><circle cx="777" cy="290" r="4.4"/><circle cx="779" cy="270" r="4.4"/><circle cx="785.6" cy="249.5" r="4.4"/><circle cx="782" cy="239" r="4.4"/><circle cx="796" cy="224" r="4.4"/><circle cx="790.8" cy="215" r="4.4"/><circle cx="797.6" cy="207.5" r="4.4"/><circle cx="802" cy="186" r="4.4"/><circle cx="801" cy="173" r="4.4"/><circle cx="809.6" cy="167" r="4.4"/><circle cx="806" cy="155" r="4.4"/><circle cx="818" cy="158.8" r="4.4"/><circle cx="823" cy="169" r="4.4"/><circle cx="830" cy="155.3" r="4.4"/><circle cx="837" cy="162" r="4.4"/><circle cx="843.8" cy="169" r="4.4"/><circle cx="812" cy="175" r="4.4"/><circle cx="826" cy="160" r="4.4"/><circle cx="833" cy="150" r="4.4"/><circle cx="840" cy="156" r="4.4"/><circle cx="848" cy="160" r="4.4"/><circle cx="852" cy="148" r="4.4"/><circle cx="856" cy="140" r="4.4"/><circle cx="851" cy="136.4" r="4.4"/><circle cx="858.5" cy="142.7" r="4.4"/><circle cx="856.9" cy="132.6" r="4.4"/><circle cx="855.8" cy="128.9" r="4.4"/><circle cx="866.6" cy="139.7" r="4.4"/><circle cx="861.5" cy="143.8" r="4.4"/><circle cx="867.7" cy="127.4" r="4.4"/><circle cx="869.9" cy="121.1" r="4.4"/><circle cx="871.8" cy="131.5" r="4.4"/><circle cx="874.7" cy="131.1" r="4.4"/><circle cx="878.8" cy="122.2" r="4.4"/><circle cx="883.1" cy="129.7" r="4.4"/><circle cx="881.5" cy="135" r="4.4"/><circle cx="884.2" cy="135" r="4.4"/><circle cx="890" cy="138.9" r="4.4"/><circle cx="888.7" cy="145.1" r="4.4"/><circle cx="890.4" cy="145.5" r="4.4"/><circle cx="892.3" cy="151.3" r="4.4"/><circle cx="887.3" cy="153.1" r="4.4"/><circle cx="902" cy="150.4" r="4.4"/><circle cx="894.9" cy="156.3" r="4.4"/><circle cx="906.2" cy="154.6" r="4.4"/><circle cx="910.2" cy="152.8" r="4.4"/><circle cx="914.5" cy="157.4" r="4.4"/><circle cx="902.1" cy="169.9" r="4.4"/><circle cx="918.2" cy="161.3" r="4.4"/><circle cx="916.5" cy="165.6" r="4.4"/><circle cx="908.8" cy="171.6" r="4.4"/><circle cx="926.1" cy="164.1" r="4.4"/><circle cx="920" cy="171.1" r="4.4"/><circle cx="922.9" cy="171.4" r="4.4"/><circle cx="936.3" cy="172.1" r="4.4"/><circle cx="931.1" cy="174.6" r="4.4"/><circle cx="928.9" cy="183.4" r="4.4"/><circle cx="933.4" cy="183.2" r="4.4"/><circle cx="913.4" cy="192.9" r="4.4"/><circle cx="938.3" cy="189.6" r="4.4"/><circle cx="928.5" cy="194.2" r="4.4"/><circle cx="930.9" cy="199.2" r="4.4"/><circle cx="928.9" cy="200.6" r="4.4"/><circle cx="933" cy="200" r="4.4"/><circle cx="942.3" cy="201" r="4.4"/><circle cx="937.9" cy="205.8" r="4.4"/><circle cx="933.1" cy="211.2" r="4.4"/><circle cx="950.8" cy="206.2" r="4.4"/><circle cx="949.9" cy="213.7" r="4.4"/><circle cx="948.8" cy="213.4" r="4.4"/><circle cx="946.4" cy="220.5" r="4.4"/><circle cx="950.9" cy="217" r="4.4"/><circle cx="944.8" cy="228.4" r="4.4"/><circle cx="942.8" cy="227.8" r="4.4"/><circle cx="950.4" cy="227.8" r="4.4"/><circle cx="947.1" cy="230.3" r="4.4"/><circle cx="953.5" cy="234.4" r="4.4"/><circle cx="951.8" cy="235.8" r="4.4"/><circle cx="950.5" cy="239.9" r="4.4"/><circle cx="944.7" cy="244.8" r="4.4"/><circle cx="952.7" cy="248.3" r="4.4"/><circle cx="954" cy="246.8" r="4.4"/><circle cx="952.5" cy="251.6" r="4.4"/><circle cx="956.7" cy="255.9" r="4.4"/><circle cx="954.6" cy="256.4" r="4.4"/><circle cx="946.5" cy="262.7" r="4.4"/><circle cx="957.3" cy="258.1" r="4.4"/><circle cx="968.5" cy="258.9" r="4.4"/><circle cx="967.7" cy="260.3" r="4.4"/><circle cx="973.2" cy="264.8" r="4.4"/><circle cx="952" cy="275.5" r="4.4"/><circle cx="980.6" cy="264.9" r="4.4"/><circle cx="967.1" cy="270.2" r="4.4"/><circle cx="972.2" cy="271.1" r="4.4"/><circle cx="968.2" cy="277.7" r="4.4"/><circle cx="970.8" cy="281.8" r="4.4"/><circle cx="974.4" cy="277.4" r="4.4"/><circle cx="966.2" cy="286.6" r="4.4"/><circle cx="974.7" cy="286.5" r="4.4"/><circle cx="978.2" cy="289.2" r="4.4"/><circle cx="975.2" cy="291.1" r="4.4"/><circle cx="990.4" cy="286.8" r="4.4"/><circle cx="977.5" cy="299.6" r="4.4"/><circle cx="990.3" cy="287.6" r="4.4"/><circle cx="978.2" cy="302.9" r="4.4"/><circle cx="986.1" cy="297.3" r="4.4"/><circle cx="985.1" cy="302.9" r="4.4"/><circle cx="987.1" cy="302" r="4.4"/><circle cx="993.6" cy="304.1" r="4.4"/><circle cx="986.3" cy="311.9" r="4.4"/><circle cx="996.3" cy="305.8" r="4.4"/><circle cx="984" cy="314.7" r="4.4"/><circle cx="986.8" cy="314.5" r="4.4"/><circle cx="996.6" cy="313.3" r="4.4"/><circle cx="995.9" cy="319.1" r="4.4"/><circle cx="1000.7" cy="317.5" r="4.4"/><circle cx="997.8" cy="318.8" r="4.4"/><circle cx="1000.9" cy="319.7" r="4.4"/><circle cx="1002.1" cy="320.7" r="4.4"/><circle cx="995.1" cy="330.8" r="4.4"/><circle cx="1006.5" cy="326.9" r="4.4"/><circle cx="1001" cy="335.6" r="4.4"/><circle cx="999.7" cy="334.5" r="4.4"/><circle cx="994.1" cy="345.2" r="4.4"/><circle cx="995.2" cy="346.5" r="4.4"/><circle cx="999.6" cy="349.8" r="4.4"/><circle cx="1009.3" cy="341.9" r="4.4"/><circle cx="1004.1" cy="345.3" r="4.4"/><circle cx="1015.5" cy="344.1" r="4.4"/><circle cx="1005.2" cy="351.8" r="4.4"/><circle cx="1015.8" cy="350.5" r="4.4"/><circle cx="1011.6" cy="351.5" r="4.4"/><circle cx="1022.7" cy="345.9" r="4.4"/><circle cx="1022.8" cy="345.2" r="4.4"/><circle cx="1031.4" cy="344.1" r="4.4"/><circle cx="1030.7" cy="345.1" r="4.4"/><circle cx="1028.2" cy="344.7" r="4.4"/><circle cx="1030" cy="355.7" r="4.4"/><circle cx="1032.1" cy="353.6" r="4.4"/><circle cx="1034.5" cy="349.6" r="4.4"/><circle cx="1036.2" cy="354.1" r="4.4"/><circle cx="1035.3" cy="362" r="4.4"/><circle cx="1039.7" cy="357.8" r="4.4"/><circle cx="1040.1" cy="359.8" r="4.4"/><circle cx="1047.9" cy="354.1" r="4.4"/><circle cx="1044.5" cy="355.8" r="4.4"/><circle cx="1053.3" cy="349.2" r="4.4"/><circle cx="1045.7" cy="367.3" r="4.4"/><circle cx="1050.7" cy="362.2" r="4.4"/><circle cx="1060.2" cy="351.9" r="4.4"/><circle cx="1049" cy="379.7" r="4.4"/><circle cx="1049.6" cy="380" r="4.4"/><circle cx="1059" cy="373.9" r="4.4"/><circle cx="1066" cy="360.5" r="4.4"/><circle cx="1064.5" cy="372.7" r="4.4"/><circle cx="1065.9" cy="361" r="4.4"/><circle cx="1061.9" cy="377.5" r="4.4"/><circle cx="1074.3" cy="365" r="4.4"/><circle cx="1076.7" cy="365.9" r="4.4"/><circle cx="1069.9" cy="375.4" r="4.4"/><circle cx="1073.3" cy="371.9" r="4.4"/><circle cx="1072.2" cy="385.4" r="4.4"/><circle cx="1076.3" cy="377.9" r="4.4"/><circle cx="1086" cy="371" r="4.4"/><circle cx="1079.3" cy="386" r="4.4"/><circle cx="1091.2" cy="371.7" r="4.4"/><circle cx="1085.2" cy="381.5" r="4.4"/><circle cx="1088.1" cy="377" r="4.4"/><circle cx="1089.4" cy="389.7" r="4.4"/><circle cx="1093.5" cy="386" r="4.4"/><circle cx="1092.2" cy="387.5" r="4.4"/><circle cx="1096.8" cy="389.4" r="4.4"/><circle cx="1101.3" cy="374.8" r="4.4"/><circle cx="1107.7" cy="379.2" r="4.4"/><circle cx="1103" cy="392.2" r="4.4"/><circle cx="1100.8" cy="399.3" r="4.4"/><circle cx="1104.1" cy="393.6" r="4.4"/><circle cx="1100.8" cy="399.7" r="4.4"/><circle cx="1112.3" cy="389.8" r="4.4"/><circle cx="1108.4" cy="397.9" r="4.4"/><circle cx="1116.4" cy="385.4" r="4.4"/><circle cx="1117.1" cy="388.3" r="4.4"/><circle cx="1117.3" cy="392.9" r="4.4"/><circle cx="1121.4" cy="389.4" r="4.4"/><circle cx="1116.8" cy="406.6" r="4.4"/><circle cx="1123.7" cy="395.3" r="4.4"/><circle cx="1123.4" cy="411.6" r="4.4"/><circle cx="1127.3" cy="400.3" r="4.4"/><circle cx="1128.9" cy="398.2" r="4.4"/><circle cx="1130.9" cy="409.2" r="4.4"/><circle cx="1137.3" cy="390.8" r="4.4"/><circle cx="1134.3" cy="409.4" r="4.4"/><circle cx="1142" cy="389.4" r="4.4"/><circle cx="1142" cy="404.3" r="4.4"/><circle cx="1141.2" cy="405.8" r="4.4"/><circle cx="1144.2" cy="416" r="4.4"/><circle cx="1148.9" cy="403.7" r="4.4"/><circle cx="1144.7" cy="420.9" r="4.4"/><circle cx="1150.6" cy="414.8" r="4.4"/><circle cx="1154.7" cy="405.8" r="4.4"/><circle cx="1155.7" cy="406.5" r="4.4"/><circle cx="1156" cy="410.2" r="4.4"/><circle cx="1162.7" cy="395.7" r="4.4"/><circle cx="1160.9" cy="417.8" r="4.4"/><circle cx="1164.1" cy="409" r="4.4"/></g>
<path d="M800 112 C802.5 115 810 123.7 815 130 C820 136.3 825.3 143.7 830 150 C834.7 156.3 838.3 160.8 843.3 168 C848.3 175.2 854.7 184.8 860 193 C865.3 201.2 870 208.8 875 217 C880 225.2 885 233.5 890 242 C895 250.5 900 258.8 905 268 C910 277.2 915 286.7 920 297 C925 307.3 930.8 320.8 935 330 C939.2 339.2 941.5 345.8 945 352 C948.5 358.2 952 360 956 367 C960 374 964.8 386.5 968.7 394 C972.6 401.5 976 407.3 979.6 412 C983.2 416.7 986.8 419.2 990.4 422 C994 424.8 997.1 426.9 1001.3 428.6 C1005.5 430.3 1010.9 431.3 1015.7 432 C1020.5 432.7 1004.8 432.8 1030 433 C1055.2 433.2 1144.2 433 1167 433" fill="none" stroke="#2093c4" stroke-width="3.0"/>
<path d="M789 111 C790.8 113.5 795.7 119.8 800 126 C804.3 132.2 810 140.5 815 148 C820 155.5 825 163.2 830 171 C835 178.8 840 186.8 845 195 C850 203.2 855 211.5 860 220 C865 228.5 870 237.3 875 246 C880 254.7 885 263 890 272 C895 281 900.8 292 905 300 C909.2 308 911.9 313.3 915 320 C918.1 326.7 921 334.2 923.5 340 C926 345.8 927.8 350 930 355 C932.2 360 933.6 363.5 937 370 C940.4 376.5 946.2 387 950.6 394 C955 401 959.1 407.2 963.3 412 C967.5 416.8 971.5 419.9 976 423 C980.5 426.1 985.6 428.8 990.4 430.4 C995.2 432 1000 432.2 1004.9 432.6 C1009.8 433 993 432.9 1020 433 C1047 433.1 1142.5 433 1167 433" fill="none" stroke="#2e8fd6" stroke-width="3.0"/>
<g fill="rgba(70,170,225,0.42)" stroke="#2372c8" stroke-width="1.1"><circle cx="712.7" cy="443.8" r="4.3"/><circle cx="716.1" cy="443.5" r="4.3"/><circle cx="719.5" cy="443.9" r="4.3"/><circle cx="722.9" cy="443.6" r="4.3"/><circle cx="726.3" cy="444.5" r="4.3"/><circle cx="729.7" cy="443" r="4.3"/><circle cx="733.1" cy="444.5" r="4.3"/><circle cx="736.5" cy="442.2" r="4.3"/><circle cx="739.9" cy="445" r="4.3"/><circle cx="743.3" cy="443.9" r="4.3"/><circle cx="746.7" cy="442.1" r="4.3"/><circle cx="750.1" cy="442.3" r="4.3"/><circle cx="753.5" cy="442.8" r="4.3"/><circle cx="756.9" cy="443.5" r="4.3"/><circle cx="760.3" cy="444.6" r="4.3"/><circle cx="763.7" cy="444" r="4.3"/><circle cx="763" cy="440" r="4.3"/><circle cx="764.5" cy="423" r="4.3"/><circle cx="766.5" cy="407" r="4.3"/><circle cx="768.5" cy="385" r="4.3"/><circle cx="770" cy="365" r="4.3"/><circle cx="771" cy="348" r="4.3"/><circle cx="772.5" cy="325" r="4.3"/><circle cx="774" cy="305" r="4.3"/><circle cx="775.5" cy="285" r="4.3"/><circle cx="777" cy="265" r="4.3"/><circle cx="778" cy="240" r="4.3"/><circle cx="779.6" cy="218.7" r="4.3"/><circle cx="782.2" cy="186.2" r="4.3"/><circle cx="783.9" cy="169" r="4.3"/><circle cx="785.6" cy="150.2" r="4.3"/><circle cx="787.3" cy="126.2" r="4.3"/><circle cx="789" cy="110.8" r="4.3"/><circle cx="790.8" cy="109.5" r="4.3"/><circle cx="790.7" cy="113.1" r="4.3"/><circle cx="790.6" cy="118" r="4.3"/><circle cx="795" cy="118.1" r="4.3"/><circle cx="796.8" cy="119.9" r="4.3"/><circle cx="796.9" cy="123" r="4.3"/><circle cx="799.6" cy="125.9" r="4.3"/><circle cx="802.4" cy="127.2" r="4.3"/><circle cx="799.7" cy="131.7" r="4.3"/><circle cx="804.6" cy="132.6" r="4.3"/><circle cx="804.7" cy="137.2" r="4.3"/><circle cx="808.1" cy="137.5" r="4.3"/><circle cx="808.1" cy="142" r="4.3"/><circle cx="810.5" cy="143.2" r="4.3"/><circle cx="812.8" cy="146.2" r="4.3"/><circle cx="815" cy="148" r="4.3"/><circle cx="816.2" cy="149.8" r="4.3"/><circle cx="817.9" cy="152.2" r="4.3"/><circle cx="820.3" cy="154.9" r="4.3"/><circle cx="822.9" cy="156.6" r="4.3"/><circle cx="822.7" cy="159.7" r="4.3"/><circle cx="823.5" cy="163.5" r="4.3"/><circle cx="825.7" cy="164.8" r="4.3"/><circle cx="827.4" cy="167.2" r="4.3"/><circle cx="827.6" cy="170.4" r="4.3"/><circle cx="832.2" cy="171.6" r="4.3"/><circle cx="832.8" cy="174.4" r="4.3"/><circle cx="833.1" cy="177.1" r="4.3"/><circle cx="832.8" cy="179.8" r="4.3"/><circle cx="834.5" cy="181.9" r="4.3"/><circle cx="838.2" cy="182.7" r="4.3"/><circle cx="840.8" cy="183.9" r="4.3"/><circle cx="839.3" cy="187.8" r="4.3"/><circle cx="841.2" cy="190.1" r="4.3"/><circle cx="844.6" cy="191.7" r="4.3"/><circle cx="843.2" cy="194.5" r="4.3"/><circle cx="847.8" cy="194.5" r="4.3"/><circle cx="847.6" cy="197.2" r="4.3"/><circle cx="845.2" cy="201.2" r="4.3"/><circle cx="849.9" cy="201.5" r="4.3"/><circle cx="849.7" cy="204.2" r="4.3"/><circle cx="853.8" cy="205.7" r="4.3"/><circle cx="850.3" cy="209.4" r="4.3"/><circle cx="853.9" cy="209.6" r="4.3"/><circle cx="850.9" cy="213.9" r="4.3"/><circle cx="854.2" cy="215.3" r="4.3"/><circle cx="856.1" cy="216.6" r="4.3"/><circle cx="854.2" cy="219.6" r="4.3"/><circle cx="856.7" cy="220.4" r="4.3"/><circle cx="856.8" cy="223" r="4.3"/><circle cx="862.6" cy="222.8" r="4.3"/><circle cx="861.8" cy="225.1" r="4.3"/><circle cx="860.8" cy="227.6" r="4.3"/><circle cx="863.2" cy="228.9" r="4.3"/><circle cx="864.1" cy="230.6" r="4.3"/><circle cx="864.6" cy="232.8" r="4.3"/><circle cx="866.4" cy="234.1" r="4.3"/><circle cx="867.3" cy="236.5" r="4.3"/><circle cx="865.7" cy="239.3" r="4.3"/><circle cx="868.8" cy="239.6" r="4.3"/><circle cx="868.9" cy="240.9" r="4.3"/><circle cx="870.3" cy="243.4" r="4.3"/><circle cx="872" cy="243.3" r="4.3"/><circle cx="875" cy="244.1" r="4.3"/><circle cx="875.3" cy="245.6" r="4.3"/><circle cx="874.6" cy="249.4" r="4.3"/><circle cx="874.2" cy="251.4" r="4.3"/><circle cx="876.1" cy="252.4" r="4.3"/><circle cx="877.9" cy="253" r="4.3"/><circle cx="880.8" cy="253" r="4.3"/><circle cx="881" cy="254.9" r="4.3"/><circle cx="879.2" cy="258.2" r="4.3"/><circle cx="883.7" cy="257" r="4.3"/><circle cx="881.1" cy="260.2" r="4.3"/><circle cx="884.1" cy="260.3" r="4.3"/><circle cx="884.9" cy="261.7" r="4.3"/><circle cx="883.3" cy="265" r="4.3"/><circle cx="884.8" cy="265.8" r="4.3"/><circle cx="886.7" cy="266.4" r="4.3"/><circle cx="888.5" cy="266.9" r="4.3"/><circle cx="890.1" cy="267.1" r="4.3"/><circle cx="888" cy="271.2" r="4.3"/><circle cx="887.8" cy="272.8" r="4.3"/><circle cx="889.9" cy="273.1" r="4.3"/><circle cx="891.8" cy="274.3" r="4.3"/><circle cx="893.8" cy="275.3" r="4.3"/><circle cx="892.8" cy="277" r="4.3"/><circle cx="893.8" cy="278.8" r="4.3"/><circle cx="894.8" cy="280.4" r="4.3"/><circle cx="895" cy="281.9" r="4.3"/><circle cx="899" cy="280.6" r="4.3"/><circle cx="896.6" cy="284.7" r="4.3"/><circle cx="898.1" cy="285.8" r="4.3"/><circle cx="898.2" cy="287.8" r="4.3"/><circle cx="899.2" cy="288.5" r="4.3"/><circle cx="901.8" cy="288.3" r="4.3"/><circle cx="901.1" cy="291.5" r="4.3"/><circle cx="901.9" cy="292.9" r="4.3"/><circle cx="904.4" cy="292.3" r="4.3"/><circle cx="907.1" cy="292.1" r="4.3"/><circle cx="906.5" cy="294.6" r="4.3"/><circle cx="906.3" cy="297.1" r="4.3"/><circle cx="908.5" cy="297.2" r="4.3"/><circle cx="909.8" cy="299" r="4.3"/><circle cx="907.8" cy="301.4" r="4.3"/><circle cx="910.3" cy="301.5" r="4.3"/><circle cx="911.3" cy="303.7" r="4.3"/><circle cx="912.7" cy="304.5" r="4.3"/><circle cx="913.8" cy="304.9" r="4.3"/><circle cx="911.7" cy="308.3" r="4.3"/><circle cx="915.5" cy="308.8" r="4.3"/><circle cx="915.6" cy="309.8" r="4.3"/><circle cx="916.5" cy="311.7" r="4.3"/><circle cx="917.1" cy="312.9" r="4.3"/><circle cx="919.9" cy="313.6" r="4.3"/><circle cx="920.9" cy="315.1" r="4.3"/><circle cx="920.3" cy="316.6" r="4.3"/><circle cx="921.4" cy="317.4" r="4.3"/><circle cx="920.2" cy="320.7" r="4.3"/><circle cx="922.1" cy="320.7" r="4.3"/><circle cx="923.6" cy="322.4" r="4.3"/><circle cx="922.9" cy="324.5" r="4.3"/><circle cx="926.5" cy="323.7" r="4.3"/><circle cx="927.6" cy="325.3" r="4.3"/><circle cx="927" cy="328.2" r="4.3"/><circle cx="928.6" cy="328.6" r="4.3"/><circle cx="928.3" cy="330.8" r="4.3"/><circle cx="929.5" cy="332.3" r="4.3"/><circle cx="932.6" cy="331.7" r="4.3"/><circle cx="931.4" cy="334.7" r="4.3"/><circle cx="932.1" cy="336" r="4.3"/><circle cx="934.6" cy="335.3" r="4.3"/><circle cx="935.9" cy="336.9" r="4.3"/><circle cx="938.8" cy="336.4" r="4.3"/><circle cx="937.5" cy="340.4" r="4.3"/><circle cx="937" cy="343.2" r="4.3"/><circle cx="941.7" cy="339.5" r="4.3"/><circle cx="941.9" cy="342.7" r="4.3"/><circle cx="941.2" cy="344.2" r="4.3"/><circle cx="944.1" cy="344.1" r="4.3"/><circle cx="946.3" cy="344.3" r="4.3"/><circle cx="945.9" cy="346.3" r="4.3"/><circle cx="946.8" cy="348.8" r="4.3"/><circle cx="947.9" cy="349" r="4.3"/><circle cx="949.6" cy="349.6" r="4.3"/><circle cx="947.7" cy="353.3" r="4.3"/><circle cx="953.1" cy="352" r="4.3"/><circle cx="952.3" cy="354.5" r="4.3"/><circle cx="952" cy="357.3" r="4.3"/><circle cx="954.1" cy="356.2" r="4.3"/><circle cx="954.6" cy="358.2" r="4.3"/><circle cx="954.7" cy="360.9" r="4.3"/><circle cx="958.2" cy="360" r="4.3"/><circle cx="959.2" cy="360.2" r="4.3"/><circle cx="960.5" cy="361.9" r="4.3"/><circle cx="961" cy="364.5" r="4.3"/><circle cx="962.8" cy="364.7" r="4.3"/><circle cx="962.7" cy="367.2" r="4.3"/><circle cx="966" cy="364.4" r="4.3"/><circle cx="967.1" cy="365.6" r="4.3"/><circle cx="968.9" cy="366.8" r="4.3"/><circle cx="969.7" cy="367.6" r="4.3"/><circle cx="972.4" cy="367.1" r="4.3"/><circle cx="970.9" cy="371.1" r="4.3"/><circle cx="973.4" cy="370.8" r="4.3"/><circle cx="974.7" cy="371.5" r="4.3"/><circle cx="973.3" cy="375.2" r="4.3"/><circle cx="977.4" cy="373.3" r="4.3"/><circle cx="977.5" cy="376.2" r="4.3"/><circle cx="978.8" cy="377.4" r="4.3"/><circle cx="981.1" cy="375.9" r="4.3"/><circle cx="981.7" cy="378.4" r="4.3"/><circle cx="982.8" cy="379.9" r="4.3"/><circle cx="984" cy="379.4" r="4.3"/><circle cx="985.5" cy="381.4" r="4.3"/><circle cx="986.1" cy="382.7" r="4.3"/><circle cx="988.6" cy="381.5" r="4.3"/><circle cx="988.7" cy="385.4" r="4.3"/><circle cx="989.7" cy="385.6" r="4.3"/><circle cx="991" cy="386.5" r="4.3"/><circle cx="994.2" cy="385.1" r="4.3"/><circle cx="994.8" cy="387" r="4.3"/><circle cx="996.3" cy="387" r="4.3"/><circle cx="997.9" cy="388.5" r="4.3"/><circle cx="1000.1" cy="388.3" r="4.3"/><circle cx="1001.4" cy="388.6" r="4.3"/><circle cx="1002.1" cy="391.3" r="4.3"/><circle cx="1004.3" cy="390.5" r="4.3"/><circle cx="1004.4" cy="392.8" r="4.3"/><circle cx="1007.3" cy="391.9" r="4.3"/><circle cx="1008" cy="394.3" r="4.3"/><circle cx="1007.7" cy="396.5" r="4.3"/><circle cx="1010.6" cy="394.4" r="4.3"/><circle cx="1010.9" cy="397.2" r="4.3"/><circle cx="1013.8" cy="396.6" r="4.3"/><circle cx="1015.5" cy="394.9" r="4.3"/><circle cx="1017" cy="395" r="4.3"/><circle cx="1017.3" cy="398.8" r="4.3"/><circle cx="1020.8" cy="397.3" r="4.3"/><circle cx="1022" cy="395.9" r="4.3"/><circle cx="1023.7" cy="397.2" r="4.3"/><circle cx="1024.3" cy="400.3" r="4.3"/><circle cx="1025" cy="401" r="4.3"/><circle cx="1026.2" cy="402" r="4.3"/><circle cx="1029.1" cy="400.5" r="4.3"/><circle cx="1029.8" cy="402" r="4.3"/><circle cx="1031.7" cy="403.7" r="4.3"/><circle cx="1033.2" cy="404.9" r="4.3"/><circle cx="1033.8" cy="404.7" r="4.3"/><circle cx="1036.6" cy="404.7" r="4.3"/><circle cx="1038.2" cy="402.7" r="4.3"/><circle cx="1038.8" cy="406.4" r="4.3"/><circle cx="1041.2" cy="404.8" r="4.3"/><circle cx="1041.6" cy="406.5" r="4.3"/><circle cx="1043.5" cy="406.4" r="4.3"/><circle cx="1045.9" cy="405.1" r="4.3"/><circle cx="1046.3" cy="408.1" r="4.3"/><circle cx="1048.2" cy="407" r="4.3"/><circle cx="1050.3" cy="408.9" r="4.3"/><circle cx="1051.7" cy="409.5" r="4.3"/><circle cx="1053.2" cy="409" r="4.3"/><circle cx="1055" cy="407.2" r="4.3"/><circle cx="1056.9" cy="409.3" r="4.3"/><circle cx="1058.1" cy="410" r="4.3"/><circle cx="1059.4" cy="411.3" r="4.3"/><circle cx="1060.2" cy="415" r="4.3"/><circle cx="1062.5" cy="412.9" r="4.3"/><circle cx="1064.5" cy="411.2" r="4.3"/><circle cx="1065.8" cy="412.1" r="4.3"/><circle cx="1067.3" cy="410.8" r="4.3"/><circle cx="1068.2" cy="413.6" r="4.3"/><circle cx="1070" cy="413.5" r="4.3"/><circle cx="1071.3" cy="416" r="4.3"/><circle cx="1073.1" cy="415.1" r="4.3"/><circle cx="1074.7" cy="415.8" r="4.3"/><circle cx="1075.2" cy="418.8" r="4.3"/><circle cx="1078" cy="415" r="4.3"/><circle cx="1079.5" cy="414.8" r="4.3"/><circle cx="1080.5" cy="419.2" r="4.3"/><circle cx="1082.7" cy="417.3" r="4.3"/><circle cx="1084" cy="417.9" r="4.3"/><circle cx="1085.8" cy="417.8" r="4.3"/><circle cx="1086.5" cy="418" r="4.3"/><circle cx="1088" cy="420" r="4.3"/><circle cx="1090" cy="418.2" r="4.3"/><circle cx="1092.1" cy="419.7" r="4.3"/><circle cx="1094.2" cy="417.7" r="4.3"/><circle cx="1095.1" cy="419.1" r="4.3"/><circle cx="1096.4" cy="422.3" r="4.3"/><circle cx="1097.6" cy="420.2" r="4.3"/><circle cx="1099.5" cy="418.3" r="4.3"/><circle cx="1102" cy="419.4" r="4.3"/><circle cx="1102.2" cy="422" r="4.3"/><circle cx="1104.1" cy="422.9" r="4.3"/><circle cx="1106.5" cy="421.3" r="4.3"/><circle cx="1107.5" cy="421.6" r="4.3"/><circle cx="1109.3" cy="420.1" r="4.3"/><circle cx="1110.5" cy="422.1" r="4.3"/><circle cx="1112.2" cy="421.5" r="4.3"/><circle cx="1114.4" cy="421.3" r="4.3"/><circle cx="1115.1" cy="423.1" r="4.3"/><circle cx="1116.4" cy="423.7" r="4.3"/><circle cx="1118.2" cy="425.2" r="4.3"/><circle cx="1120.3" cy="426.2" r="4.3"/><circle cx="1122.3" cy="424.2" r="4.3"/><circle cx="1123.9" cy="423.9" r="4.3"/><circle cx="1124.4" cy="427.6" r="4.3"/><circle cx="1126.3" cy="426.3" r="4.3"/><circle cx="1128" cy="426.1" r="4.3"/><circle cx="1130.2" cy="425.1" r="4.3"/><circle cx="1131.9" cy="425.2" r="4.3"/><circle cx="1133.4" cy="423.9" r="4.3"/><circle cx="1134.6" cy="425.2" r="4.3"/><circle cx="1136" cy="425.5" r="4.3"/><circle cx="1137.6" cy="426.3" r="4.3"/><circle cx="1138.7" cy="426.8" r="4.3"/><circle cx="1141" cy="424.3" r="4.3"/><circle cx="1142" cy="427.4" r="4.3"/><circle cx="1144.5" cy="425.4" r="4.3"/><circle cx="1145.7" cy="426.1" r="4.3"/><circle cx="1147.1" cy="430.3" r="4.3"/><circle cx="1148.4" cy="427.2" r="4.3"/><circle cx="1150.4" cy="430" r="4.3"/><circle cx="1151.9" cy="429.8" r="4.3"/><circle cx="1153.8" cy="426.9" r="4.3"/><circle cx="1155.1" cy="428.8" r="4.3"/><circle cx="1157.2" cy="426.1" r="4.3"/><circle cx="1158" cy="426.8" r="4.3"/><circle cx="1160.4" cy="428.2" r="4.3"/><circle cx="1161.8" cy="431.5" r="4.3"/><circle cx="1162.8" cy="428.9" r="4.3"/><circle cx="1164.6" cy="428.6" r="4.3"/><circle cx="1166.4" cy="428" r="4.3"/></g>
<path d="M796 105.7 C800 108.5 811.8 116.5 820 122.8 C828.2 129.1 837 136.3 845.5 143.4 C854 150.5 863.9 159.1 871 165.6 C878.1 172.1 882.5 175.8 888.4 182.7 C894.3 189.6 900.5 198.8 906.6 207 C912.7 215.2 918.7 222 924.7 232 C930.7 242 937.9 256.2 942.7 266.8 C947.5 277.4 950 285.4 953.6 295.7 C957.2 305.9 961.4 318.9 964.4 328.3 C967.4 337.7 969.5 345.4 971.7 351.8 C973.9 358.2 975.3 359.9 977.8 367 C980.3 374.1 983.8 386.6 986.8 394.2 C989.8 401.8 992.8 407.5 995.8 412.3 C998.8 417.1 1001.6 420.3 1004.9 423.2 C1008.2 426.1 1012.1 428.1 1015.7 429.5 C1019.3 430.9 1022.5 431.3 1026.6 431.9 C1030.6 432.5 1016.6 432.8 1040 433 C1063.4 433.2 1145.8 433 1167 433" fill="none" stroke="#3cc0a8" stroke-width="3.2"/>
<path d="M852.4 146.8 L854.4 149.6 L857 150.1 L859.5 152.8 L862.6 154 L864.7 154.4 L867.7 156 L869.5 158.3 L872.7 160.3 L875.2 161.4 L878.9 159.7 L881.4 161.4 L884 162 L886.3 164.3 L888.8 167.1 L891.4 169.3 L893 170.8 L895.7 172.3 L898.5 172.5 L900.2 175.1 L902.9 176.4 L905.7 178.2 L907.5 179.6 L910.1 182.8 L912.2 182.8 L915.5 185.5 L918.2 186.1 L920.9 188.9 L923.4 188.9 L925.6 190.2 L928.6 194.1 L931.3 193.3 L933.1 196.2 L935.9 196.6 L938.8 198.6 L940.8 200 L943.1 202.1 L944.7 205.1 L947.1 207.9 L949.2 209 L950.9 210.7 L953.3 214 L955.1 217.2 L956.4 219.6 L958.3 222.3 L960.4 223.3 L962 227.1 L964 228.5 L964.3 230.4 L966.8 234.5 L968.2 235.6 L969.4 237.9 L970.5 241.2 L973.2 244.6 L974.6 245.6 L975.7 248.2 L977.1 250.8 L979.6 253.9 L980.7 257.2 L982.8 260.5 L984 261.9 L986 264.2 L986.8 267.6 L988.4 269.2 L990.2 272 L991.7 274.4 L993.4 276 L995.4 278.6 L996.6 282.4 L998 284.2 L999.1 287.1 L1000.9 290 L1002.3 293.3 L1004.1 294 L1005.5 299.1 L1006.5 300.6 L1009.8 302.2 L1011.4 304.5 L1013 307.3 L1015 309.1 L1016.4 312.2 L1018.3 313.5 L1019 316.6 L1020.8 320.6 L1022.5 323.3 L1024.1 324.4 L1026.6 325.9 L1029.2 329.9 L1030.6 330.6 L1033.4 333.9 L1035.3 334 L1037.8 335.9 L1040 339 L1042.8 341.1 L1044 343.6 L1047.4 344.4 L1049 346.5 L1052 348 L1056 350 L1069 356.5 L1081 360.5 L1099 363.5 L1117 365.3 L1135 366.6 L1167 368.6" fill="none" stroke="#0f5e3c" stroke-width="2.3" stroke-linejoin="round"/>
<path d="M784 253 C784.4 251.4 785.5 248.7 786.5 243.5 C787.5 238.3 788.7 229.4 790 222 C791.3 214.6 792.9 204.8 794.2 199 C795.5 193.2 796.5 190.6 797.6 187 C798.7 183.4 799.9 181.2 801 177.6 C802.1 174 803.1 168.9 804.5 165.6 C805.9 162.3 807.5 160.9 809.6 158 C811.7 155.1 814.4 150.3 817.3 148 C820.1 145.7 823.1 145.2 826.7 144.2 C830.3 143.2 835.2 142.6 838.7 142 C842.2 141.4 846.5 140.8 848 140.5" fill="none" stroke="#111" stroke-width="2.2" stroke-dasharray="10 11"/>
<path d="M784.3 112.5 h13 M790.8 106 v13" stroke="#111" stroke-width="2.1" fill="none"/>
<path d="M798 109 h13 M804.5 102.5 v13" stroke="#111" stroke-width="2.1" fill="none"/>
<path d="M815.1 119.4 h13 M821.6 112.9 v13" stroke="#111" stroke-width="2.1" fill="none"/>
<path d="M844.2 139 h13 M850.7 132.5 v13" stroke="#111" stroke-width="2.1" fill="none"/>
</g>
<text font-size="15.3" textLength="55" lengthAdjust="spacingAndGlyphs" transform="translate(856 259.5) rotate(52)" fill="#231f20" stroke="#231f20">430 nm</text>
<text font-size="15.3" textLength="55" lengthAdjust="spacingAndGlyphs" transform="translate(897 241) rotate(52.5)" fill="#231f20" stroke="#231f20">460 nm</text>
<text font-size="15.3" textLength="55" lengthAdjust="spacingAndGlyphs" transform="translate(924 231.3) rotate(52.5)" fill="#231f20" stroke="#231f20">480 nm</text>
<text font-size="15.3" textLength="55.5" lengthAdjust="spacingAndGlyphs" transform="translate(987.3 249.8) rotate(51.5)" fill="#231f20" stroke="#231f20">490 nm</text>
<text x="856.9" y="350.3" font-size="16" textLength="64" lengthAdjust="spacingAndGlyphs" fill="#231f20" stroke="#231f20">Transfer</text>
<path d="M928.3 342.7 Q978 336 1008 314" fill="none" stroke="#111" stroke-width="2.2"/>
<path d="M1015.2 308.6 L1003.2 311.2 L1009.6 320.4 Z" fill="#111"/>
<text x="969.5" y="182.4" font-size="16" textLength="148.5" lengthAdjust="spacingAndGlyphs" fill="#231f20" stroke="#231f20">Engineered energy</text>
<text x="969.5" y="202" font-size="16" textLength="80.5" lengthAdjust="spacingAndGlyphs" fill="#231f20" stroke="#231f20">landscape</text>
<rect x="708.4" y="85.5" width="458.4" height="359.7" fill="none" stroke="#5a5a5a" stroke-width="1.3"/>
<line x1="721.7" y1="85.5" x2="721.7" y2="87.4" stroke="#5a5a5a" stroke-width="1.1"/>
<line x1="721.7" y1="445.2" x2="721.7" y2="443.3" stroke="#5a5a5a" stroke-width="1.1"/>
<line x1="732.2" y1="85.5" x2="732.2" y2="87.4" stroke="#5a5a5a" stroke-width="1.1"/>
<line x1="732.2" y1="445.2" x2="732.2" y2="443.3" stroke="#5a5a5a" stroke-width="1.1"/>
<line x1="740.9" y1="85.5" x2="740.9" y2="87.4" stroke="#5a5a5a" stroke-width="1.1"/>
<line x1="740.9" y1="445.2" x2="740.9" y2="443.3" stroke="#5a5a5a" stroke-width="1.1"/>
<line x1="748.1" y1="85.5" x2="748.1" y2="87.4" stroke="#5a5a5a" stroke-width="1.1"/>
<line x1="748.1" y1="445.2" x2="748.1" y2="443.3" stroke="#5a5a5a" stroke-width="1.1"/>
<line x1="754.5" y1="85.5" x2="754.5" y2="87.4" stroke="#5a5a5a" stroke-width="1.1"/>
<line x1="754.5" y1="445.2" x2="754.5" y2="443.3" stroke="#5a5a5a" stroke-width="1.1"/>
<line x1="760" y1="85.5" x2="760" y2="87.4" stroke="#5a5a5a" stroke-width="1.1"/>
<line x1="760" y1="445.2" x2="760" y2="443.3" stroke="#5a5a5a" stroke-width="1.1"/>
<line x1="765" y1="85.5" x2="765" y2="90.1" stroke="#5a5a5a" stroke-width="1.1"/>
<line x1="765" y1="445.2" x2="765" y2="440.6" stroke="#5a5a5a" stroke-width="1.1"/>
<line x1="797.8" y1="85.5" x2="797.8" y2="87.4" stroke="#5a5a5a" stroke-width="1.1"/>
<line x1="797.8" y1="445.2" x2="797.8" y2="443.3" stroke="#5a5a5a" stroke-width="1.1"/>
<line x1="816.9" y1="85.5" x2="816.9" y2="87.4" stroke="#5a5a5a" stroke-width="1.1"/>
<line x1="816.9" y1="445.2" x2="816.9" y2="443.3" stroke="#5a5a5a" stroke-width="1.1"/>
<line x1="830.5" y1="85.5" x2="830.5" y2="87.4" stroke="#5a5a5a" stroke-width="1.1"/>
<line x1="830.5" y1="445.2" x2="830.5" y2="443.3" stroke="#5a5a5a" stroke-width="1.1"/>
<line x1="841" y1="85.5" x2="841" y2="87.4" stroke="#5a5a5a" stroke-width="1.1"/>
<line x1="841" y1="445.2" x2="841" y2="443.3" stroke="#5a5a5a" stroke-width="1.1"/>
<line x1="849.7" y1="85.5" x2="849.7" y2="87.4" stroke="#5a5a5a" stroke-width="1.1"/>
<line x1="849.7" y1="445.2" x2="849.7" y2="443.3" stroke="#5a5a5a" stroke-width="1.1"/>
<line x1="856.9" y1="85.5" x2="856.9" y2="87.4" stroke="#5a5a5a" stroke-width="1.1"/>
<line x1="856.9" y1="445.2" x2="856.9" y2="443.3" stroke="#5a5a5a" stroke-width="1.1"/>
<line x1="863.3" y1="85.5" x2="863.3" y2="87.4" stroke="#5a5a5a" stroke-width="1.1"/>
<line x1="863.3" y1="445.2" x2="863.3" y2="443.3" stroke="#5a5a5a" stroke-width="1.1"/>
<line x1="868.8" y1="85.5" x2="868.8" y2="87.4" stroke="#5a5a5a" stroke-width="1.1"/>
<line x1="868.8" y1="445.2" x2="868.8" y2="443.3" stroke="#5a5a5a" stroke-width="1.1"/>
<line x1="873.8" y1="85.5" x2="873.8" y2="90.1" stroke="#5a5a5a" stroke-width="1.1"/>
<line x1="873.8" y1="445.2" x2="873.8" y2="440.6" stroke="#5a5a5a" stroke-width="1.1"/>
<line x1="906.6" y1="85.5" x2="906.6" y2="87.4" stroke="#5a5a5a" stroke-width="1.1"/>
<line x1="906.6" y1="445.2" x2="906.6" y2="443.3" stroke="#5a5a5a" stroke-width="1.1"/>
<line x1="925.7" y1="85.5" x2="925.7" y2="87.4" stroke="#5a5a5a" stroke-width="1.1"/>
<line x1="925.7" y1="445.2" x2="925.7" y2="443.3" stroke="#5a5a5a" stroke-width="1.1"/>
<line x1="939.3" y1="85.5" x2="939.3" y2="87.4" stroke="#5a5a5a" stroke-width="1.1"/>
<line x1="939.3" y1="445.2" x2="939.3" y2="443.3" stroke="#5a5a5a" stroke-width="1.1"/>
<line x1="949.8" y1="85.5" x2="949.8" y2="87.4" stroke="#5a5a5a" stroke-width="1.1"/>
<line x1="949.8" y1="445.2" x2="949.8" y2="443.3" stroke="#5a5a5a" stroke-width="1.1"/>
<line x1="958.5" y1="85.5" x2="958.5" y2="87.4" stroke="#5a5a5a" stroke-width="1.1"/>
<line x1="958.5" y1="445.2" x2="958.5" y2="443.3" stroke="#5a5a5a" stroke-width="1.1"/>
<line x1="965.7" y1="85.5" x2="965.7" y2="87.4" stroke="#5a5a5a" stroke-width="1.1"/>
<line x1="965.7" y1="445.2" x2="965.7" y2="443.3" stroke="#5a5a5a" stroke-width="1.1"/>
<line x1="972.1" y1="85.5" x2="972.1" y2="87.4" stroke="#5a5a5a" stroke-width="1.1"/>
<line x1="972.1" y1="445.2" x2="972.1" y2="443.3" stroke="#5a5a5a" stroke-width="1.1"/>
<line x1="977.6" y1="85.5" x2="977.6" y2="87.4" stroke="#5a5a5a" stroke-width="1.1"/>
<line x1="977.6" y1="445.2" x2="977.6" y2="443.3" stroke="#5a5a5a" stroke-width="1.1"/>
<line x1="982.6" y1="85.5" x2="982.6" y2="90.1" stroke="#5a5a5a" stroke-width="1.1"/>
<line x1="982.6" y1="445.2" x2="982.6" y2="440.6" stroke="#5a5a5a" stroke-width="1.1"/>
<line x1="1015.4" y1="85.5" x2="1015.4" y2="87.4" stroke="#5a5a5a" stroke-width="1.1"/>
<line x1="1015.4" y1="445.2" x2="1015.4" y2="443.3" stroke="#5a5a5a" stroke-width="1.1"/>
<line x1="1034.5" y1="85.5" x2="1034.5" y2="87.4" stroke="#5a5a5a" stroke-width="1.1"/>
<line x1="1034.5" y1="445.2" x2="1034.5" y2="443.3" stroke="#5a5a5a" stroke-width="1.1"/>
<line x1="1048.1" y1="85.5" x2="1048.1" y2="87.4" stroke="#5a5a5a" stroke-width="1.1"/>
<line x1="1048.1" y1="445.2" x2="1048.1" y2="443.3" stroke="#5a5a5a" stroke-width="1.1"/>
<line x1="1058.6" y1="85.5" x2="1058.6" y2="87.4" stroke="#5a5a5a" stroke-width="1.1"/>
<line x1="1058.6" y1="445.2" x2="1058.6" y2="443.3" stroke="#5a5a5a" stroke-width="1.1"/>
<line x1="1067.3" y1="85.5" x2="1067.3" y2="87.4" stroke="#5a5a5a" stroke-width="1.1"/>
<line x1="1067.3" y1="445.2" x2="1067.3" y2="443.3" stroke="#5a5a5a" stroke-width="1.1"/>
<line x1="1074.5" y1="85.5" x2="1074.5" y2="87.4" stroke="#5a5a5a" stroke-width="1.1"/>
<line x1="1074.5" y1="445.2" x2="1074.5" y2="443.3" stroke="#5a5a5a" stroke-width="1.1"/>
<line x1="1080.9" y1="85.5" x2="1080.9" y2="87.4" stroke="#5a5a5a" stroke-width="1.1"/>
<line x1="1080.9" y1="445.2" x2="1080.9" y2="443.3" stroke="#5a5a5a" stroke-width="1.1"/>
<line x1="1086.4" y1="85.5" x2="1086.4" y2="87.4" stroke="#5a5a5a" stroke-width="1.1"/>
<line x1="1086.4" y1="445.2" x2="1086.4" y2="443.3" stroke="#5a5a5a" stroke-width="1.1"/>
<line x1="1091.4" y1="85.5" x2="1091.4" y2="90.1" stroke="#5a5a5a" stroke-width="1.1"/>
<line x1="1091.4" y1="445.2" x2="1091.4" y2="440.6" stroke="#5a5a5a" stroke-width="1.1"/>
<line x1="1124.2" y1="85.5" x2="1124.2" y2="87.4" stroke="#5a5a5a" stroke-width="1.1"/>
<line x1="1124.2" y1="445.2" x2="1124.2" y2="443.3" stroke="#5a5a5a" stroke-width="1.1"/>
<line x1="1143.3" y1="85.5" x2="1143.3" y2="87.4" stroke="#5a5a5a" stroke-width="1.1"/>
<line x1="1143.3" y1="445.2" x2="1143.3" y2="443.3" stroke="#5a5a5a" stroke-width="1.1"/>
<line x1="1156.9" y1="85.5" x2="1156.9" y2="87.4" stroke="#5a5a5a" stroke-width="1.1"/>
<line x1="1156.9" y1="445.2" x2="1156.9" y2="443.3" stroke="#5a5a5a" stroke-width="1.1"/>
<line x1="708.4" y1="117.9" x2="713.4" y2="117.9" stroke="#5a5a5a" stroke-width="1.2"/>
<line x1="1166.8" y1="117.9" x2="1161.8" y2="117.9" stroke="#5a5a5a" stroke-width="1.2"/>
<text x="668.8" y="126.6" font-size="24.5" textLength="24.3" lengthAdjust="spacingAndGlyphs" fill="#231f20" stroke="#231f20">–1</text>
<line x1="708.4" y1="182.9" x2="713.4" y2="182.9" stroke="#5a5a5a" stroke-width="1.2"/>
<line x1="1166.8" y1="182.9" x2="1161.8" y2="182.9" stroke="#5a5a5a" stroke-width="1.2"/>
<text x="648.3" y="191.6" font-size="24.5" textLength="48" lengthAdjust="spacingAndGlyphs" fill="#231f20" stroke="#231f20">–0.8</text>
<line x1="708.4" y1="247.9" x2="713.4" y2="247.9" stroke="#5a5a5a" stroke-width="1.2"/>
<line x1="1166.8" y1="247.9" x2="1161.8" y2="247.9" stroke="#5a5a5a" stroke-width="1.2"/>
<text x="648.3" y="256.6" font-size="24.5" textLength="48" lengthAdjust="spacingAndGlyphs" fill="#231f20" stroke="#231f20">–0.6</text>
<line x1="708.4" y1="312.9" x2="713.4" y2="312.9" stroke="#5a5a5a" stroke-width="1.2"/>
<line x1="1166.8" y1="312.9" x2="1161.8" y2="312.9" stroke="#5a5a5a" stroke-width="1.2"/>
<text x="648.3" y="321.6" font-size="24.5" textLength="48" lengthAdjust="spacingAndGlyphs" fill="#231f20" stroke="#231f20">–0.4</text>
<line x1="708.4" y1="377.9" x2="713.4" y2="377.9" stroke="#5a5a5a" stroke-width="1.2"/>
<line x1="1166.8" y1="377.9" x2="1161.8" y2="377.9" stroke="#5a5a5a" stroke-width="1.2"/>
<text x="648.3" y="386.6" font-size="24.5" textLength="48" lengthAdjust="spacingAndGlyphs" fill="#231f20" stroke="#231f20">–0.2</text>
<line x1="708.4" y1="442.9" x2="713.4" y2="442.9" stroke="#5a5a5a" stroke-width="1.2"/>
<line x1="1166.8" y1="442.9" x2="1161.8" y2="442.9" stroke="#5a5a5a" stroke-width="1.2"/>
<text x="683.7" y="450.7" font-size="24.5" textLength="12.6" lengthAdjust="spacingAndGlyphs" fill="#231f20" stroke="#231f20">0</text>
<text x="756.6" y="476.6" font-size="24" textLength="49.3" lengthAdjust="spacingAndGlyphs" fill="#231f20" stroke="#231f20">1 ps</text>
<text x="862.8" y="476.6" font-size="24" textLength="63.8" lengthAdjust="spacingAndGlyphs" fill="#231f20" stroke="#231f20">10 ps</text>
<text x="969.8" y="476.6" font-size="24" textLength="77.6" lengthAdjust="spacingAndGlyphs" fill="#231f20" stroke="#231f20">100 ps</text>
<text x="1128.2" y="476.6" font-size="24" textLength="49.3" lengthAdjust="spacingAndGlyphs" fill="#231f20" stroke="#231f20">1 ns</text>
<text x="863" y="515.5" font-size="24" textLength="139.5" lengthAdjust="spacingAndGlyphs" fill="#231f20" stroke="#231f20">Pump delay</text>
<text font-size="24.5" textLength="120.5" lengthAdjust="spacingAndGlyphs" transform="translate(636.9 324) rotate(-90)" fill="#231f20" stroke="#231f20"><tspan font-weight="normal" stroke="none">Δ</tspan>OD norm</text>
<rect x="917.5" y="17.3" width="249.2" height="131.9" fill="#fff" stroke="#3a3a3a" stroke-width="1.2"/>
<rect x="951.4" y="53" width="19" height="96.2" fill="#2b71bf" stroke="#1d2a33" stroke-width="1"/>
<rect x="989.3" y="88.4" width="19.3" height="60.8" fill="#208cc0" stroke="#1d2a33" stroke-width="1"/>
<rect x="1017.6" y="130.1" width="19.3" height="19.1" fill="#60c08d" stroke="#1d2a33" stroke-width="1"/>
<rect x="1040.9" y="139.3" width="17.8" height="9.9" fill="#80c857" stroke="#1d2a33" stroke-width="1"/>
<text x="941.7" y="48" font-size="16.4" textLength="36.5" lengthAdjust="spacingAndGlyphs" fill="#231f20"><tspan font-style="italic">n</tspan> = 2</text>
<text x="984.5" y="79.3" font-size="16.4" textLength="36.6" lengthAdjust="spacingAndGlyphs" fill="#231f20"><tspan font-style="italic">n</tspan> = 3</text>
<text x="1012.8" y="121.8" font-size="16.4" textLength="36.4" lengthAdjust="spacingAndGlyphs" fill="#231f20"><tspan font-style="italic">n</tspan> = 4</text>
<text x="1043.3" y="136.8" font-size="16.4" textLength="36.4" lengthAdjust="spacingAndGlyphs" fill="#231f20"><tspan font-style="italic">n</tspan> = 5</text>
<text x="611.5" y="31.2" font-size="42" fill="#231f20" stroke="#231f20">b</text>
<g clip-path="url(#clipC)">
<g fill="rgba(125,180,200,0.45)" stroke="#4377bd" stroke-width="1.0"><circle cx="1384" cy="425.5" r="4.3"/><circle cx="1390.5" cy="407.5" r="4.3"/><circle cx="1400" cy="425" r="4.3"/><circle cx="1407" cy="421" r="4.3"/><circle cx="1410" cy="424" r="4.3"/><circle cx="1396" cy="434" r="4.3"/><circle cx="1412" cy="441" r="4.3"/><circle cx="1413.5" cy="411.5" r="4.3"/><circle cx="1414.5" cy="381.5" r="4.3"/><circle cx="1415.5" cy="348" r="4.3"/><circle cx="1421.9" cy="236.7" r="4.3"/><circle cx="1420.7" cy="232" r="4.3"/><circle cx="1427" cy="167.3" r="4.3"/><circle cx="1426" cy="172" r="4.3"/><circle cx="1425.3" cy="145" r="4.3"/><circle cx="1427.5" cy="150" r="4.3"/><circle cx="1428.7" cy="116" r="4.3"/><circle cx="1432.2" cy="107.4" r="4.3"/><circle cx="1438.2" cy="105.7" r="4.3"/><circle cx="1430" cy="122" r="4.3"/><circle cx="1435" cy="136" r="4.3"/><circle cx="1424.5" cy="184" r="4.3"/><circle cx="1438" cy="115.4" r="4.3"/><circle cx="1441.5" cy="118" r="4.3"/><circle cx="1441.8" cy="122.2" r="4.3"/><circle cx="1444" cy="126.8" r="4.3"/><circle cx="1446.5" cy="129.1" r="4.3"/><circle cx="1447.8" cy="133.4" r="4.3"/><circle cx="1450.3" cy="137.8" r="4.3"/><circle cx="1447.5" cy="142" r="4.3"/><circle cx="1452.1" cy="144.9" r="4.3"/><circle cx="1455.3" cy="149.2" r="4.3"/><circle cx="1456.1" cy="151.4" r="4.3"/><circle cx="1455.2" cy="155.1" r="4.3"/><circle cx="1458.3" cy="159" r="4.3"/><circle cx="1454.3" cy="163.5" r="4.3"/><circle cx="1455.9" cy="167.1" r="4.3"/><circle cx="1455.3" cy="172.5" r="4.3"/><circle cx="1462.7" cy="175.5" r="4.3"/><circle cx="1458.8" cy="178.7" r="4.3"/><circle cx="1461.1" cy="184.3" r="4.3"/><circle cx="1455.8" cy="188.9" r="4.3"/><circle cx="1460.9" cy="193" r="4.3"/><circle cx="1457.4" cy="195.8" r="4.3"/><circle cx="1462" cy="200.1" r="4.3"/><circle cx="1456.2" cy="206.1" r="4.3"/><circle cx="1461.8" cy="208.1" r="4.3"/><circle cx="1467.7" cy="212.1" r="4.3"/><circle cx="1471.1" cy="215.5" r="4.3"/><circle cx="1466.9" cy="220.2" r="4.3"/><circle cx="1465.9" cy="224.6" r="4.3"/><circle cx="1467.9" cy="228.7" r="4.3"/><circle cx="1470.6" cy="231.1" r="4.3"/><circle cx="1470.6" cy="233.8" r="4.3"/><circle cx="1462.7" cy="240" r="4.3"/><circle cx="1469.4" cy="244.4" r="4.3"/><circle cx="1471.8" cy="246.4" r="4.3"/><circle cx="1477.5" cy="251" r="4.3"/><circle cx="1475.1" cy="253.4" r="4.3"/><circle cx="1469.3" cy="258.8" r="4.3"/><circle cx="1471.8" cy="263" r="4.3"/><circle cx="1474.1" cy="267" r="4.3"/><circle cx="1474.9" cy="269.3" r="4.3"/><circle cx="1477.1" cy="273" r="4.3"/><circle cx="1473.9" cy="279.8" r="4.3"/><circle cx="1477.7" cy="283.2" r="4.3"/><circle cx="1479.5" cy="285" r="4.3"/><circle cx="1480.2" cy="290.7" r="4.3"/><circle cx="1482.4" cy="294.9" r="4.3"/><circle cx="1481.6" cy="297.3" r="4.3"/><circle cx="1480.6" cy="303.4" r="4.3"/><circle cx="1483.9" cy="306.8" r="4.3"/><circle cx="1487.6" cy="309.2" r="4.3"/><circle cx="1478.5" cy="314.6" r="4.3"/><circle cx="1490.6" cy="316.7" r="4.3"/><circle cx="1486.3" cy="321.5" r="4.3"/><circle cx="1489.3" cy="323.9" r="4.3"/><circle cx="1490.2" cy="328.5" r="4.3"/><circle cx="1488.9" cy="334.5" r="4.3"/><circle cx="1497.7" cy="335.4" r="4.3"/><circle cx="1496.5" cy="338.3" r="4.3"/><circle cx="1493.9" cy="345.3" r="4.3"/><circle cx="1503.1" cy="344.9" r="4.3"/><circle cx="1500" cy="350.4" r="4.3"/><circle cx="1500.7" cy="355.1" r="4.3"/><circle cx="1494" cy="361.1" r="4.3"/><circle cx="1505.8" cy="362.1" r="4.3"/><circle cx="1498.7" cy="368.7" r="4.3"/><circle cx="1513.1" cy="366.6" r="4.3"/><circle cx="1506.7" cy="373.9" r="4.3"/><circle cx="1508.9" cy="377.1" r="4.3"/><circle cx="1505.5" cy="381.6" r="4.3"/><circle cx="1514.2" cy="382.7" r="4.3"/><circle cx="1507.1" cy="392.5" r="4.3"/><circle cx="1513.3" cy="392.5" r="4.3"/><circle cx="1515.8" cy="394.9" r="4.3"/><circle cx="1515.5" cy="401.6" r="4.3"/><circle cx="1523.8" cy="400.6" r="4.3"/><circle cx="1522" cy="405.9" r="4.3"/><circle cx="1530.1" cy="406.3" r="4.3"/><circle cx="1526.7" cy="412.6" r="4.3"/><circle cx="1533.8" cy="411.3" r="4.3"/><circle cx="1534.5" cy="417.4" r="4.3"/><circle cx="1539.2" cy="419.1" r="4.3"/><circle cx="1543.7" cy="418.6" r="4.3"/><circle cx="1548.4" cy="419.5" r="4.3"/><circle cx="1549.4" cy="422.8" r="4.3"/><circle cx="1554.5" cy="424.9" r="4.3"/><circle cx="1557.4" cy="426.2" r="4.3"/><circle cx="1561.7" cy="422.3" r="4.3"/><circle cx="1560.5" cy="437.2" r="4.3"/><circle cx="1565.3" cy="436.3" r="4.3"/><circle cx="1571.1" cy="437.5" r="4.3"/><circle cx="1580" cy="443.8" r="4.3"/><circle cx="1588.4" cy="432.8" r="4.3"/><circle cx="1594.2" cy="440.5" r="4.3"/><circle cx="1598.8" cy="440.9" r="4.3"/><circle cx="1604.8" cy="436.8" r="4.3"/><circle cx="1612.2" cy="442.1" r="4.3"/><circle cx="1619.7" cy="440.2" r="4.3"/><circle cx="1627.5" cy="442.6" r="4.3"/><circle cx="1634.5" cy="441.5" r="4.3"/><circle cx="1642.1" cy="442.3" r="4.3"/><circle cx="1649.3" cy="440.3" r="4.3"/><circle cx="1655.4" cy="442.4" r="4.3"/><circle cx="1661.3" cy="440.7" r="4.3"/><circle cx="1665.8" cy="443.3" r="4.3"/><circle cx="1670.4" cy="436.7" r="4.3"/><circle cx="1674.1" cy="442.3" r="4.3"/><circle cx="1682.1" cy="441.5" r="4.3"/><circle cx="1687.2" cy="443.1" r="4.3"/><circle cx="1693.7" cy="440.4" r="4.3"/><circle cx="1701.5" cy="443.3" r="4.3"/><circle cx="1706.4" cy="443.7" r="4.3"/><circle cx="1713.1" cy="440.7" r="4.3"/><circle cx="1722" cy="434.2" r="4.3"/><circle cx="1725.6" cy="442.7" r="4.3"/><circle cx="1734.5" cy="443.8" r="4.3"/><circle cx="1740.9" cy="443" r="4.3"/><circle cx="1746.3" cy="441.5" r="4.3"/><circle cx="1750.9" cy="433.8" r="4.3"/><circle cx="1755.5" cy="443.8" r="4.3"/><circle cx="1760.2" cy="433.3" r="4.3"/><circle cx="1764.6" cy="443.3" r="4.3"/><circle cx="1769.5" cy="443.6" r="4.3"/><circle cx="1775.4" cy="443.6" r="4.3"/><circle cx="1783.4" cy="442.8" r="4.3"/><circle cx="1542" cy="402.9" r="4.3"/><circle cx="1560" cy="407" r="4.3"/><circle cx="1561.5" cy="419.5" r="4.3"/><circle cx="1578" cy="420.8" r="4.3"/><circle cx="1587.7" cy="429" r="4.3"/><circle cx="1596" cy="433" r="4.3"/><circle cx="1633.8" cy="430" r="4.3"/><circle cx="1664.4" cy="435" r="4.3"/><circle cx="1726.8" cy="435" r="4.3"/><circle cx="1741.2" cy="429.5" r="4.3"/><circle cx="1779" cy="435.8" r="4.3"/><circle cx="1532.5" cy="405.6" r="4.3"/></g>
<g fill="rgba(95,190,180,0.45)" stroke="#2bab68" stroke-width="1.3"><circle cx="1365.5" cy="441" r="4.3"/><circle cx="1369" cy="441.5" r="4.3"/><circle cx="1381" cy="438" r="4.3"/><circle cx="1383.5" cy="441" r="4.3"/><circle cx="1386" cy="436" r="4.3"/><circle cx="1388" cy="441" r="4.3"/><circle cx="1390" cy="433" r="4.3"/><circle cx="1392" cy="440" r="4.3"/><circle cx="1394" cy="436" r="4.3"/><circle cx="1396" cy="441" r="4.3"/><circle cx="1398" cy="438" r="4.3"/><circle cx="1400" cy="434" r="4.3"/><circle cx="1402" cy="440" r="4.3"/><circle cx="1404" cy="437" r="4.3"/><circle cx="1406" cy="441" r="4.3"/><circle cx="1408" cy="436" r="4.3"/><circle cx="1410" cy="429" r="4.3"/><circle cx="1411.5" cy="433.5" r="4.3"/><circle cx="1413" cy="441" r="4.3"/><circle cx="1415" cy="432" r="4.3"/><circle cx="1385" cy="428" r="4.3"/><circle cx="1390" cy="427" r="4.3"/><circle cx="1409" cy="427" r="4.3"/><circle cx="1399" cy="441" r="4.3"/><circle cx="1414" cy="392" r="4.3"/><circle cx="1415.5" cy="351.5" r="4.3"/><circle cx="1417.6" cy="252" r="4.3"/><circle cx="1418.8" cy="223.8" r="4.3"/><circle cx="1419.8" cy="217" r="4.3"/><circle cx="1422.2" cy="185.3" r="4.3"/><circle cx="1424" cy="176.7" r="4.3"/><circle cx="1427.4" cy="162.2" r="4.3"/><circle cx="1426" cy="154" r="4.3"/><circle cx="1428.7" cy="146.8" r="4.3"/><circle cx="1431.3" cy="138.2" r="4.3"/><circle cx="1430" cy="132" r="4.3"/><circle cx="1434" cy="130.5" r="4.3"/><circle cx="1433" cy="124" r="4.3"/><circle cx="1436" cy="118" r="4.3"/><circle cx="1438" cy="110.8" r="4.3"/><circle cx="1441" cy="112" r="4.3"/><circle cx="1444" cy="106" r="4.3"/><circle cx="1447.6" cy="103" r="4.3"/><circle cx="1450" cy="108" r="4.3"/><circle cx="1453" cy="112" r="4.3"/><circle cx="1457" cy="110" r="4.3"/><circle cx="1460" cy="116" r="4.3"/><circle cx="1436" cy="127" r="4.3"/><circle cx="1440" cy="120" r="4.3"/><circle cx="1461" cy="115.1" r="4.3"/><circle cx="1463.6" cy="114.4" r="4.3"/><circle cx="1463.6" cy="118.4" r="4.3"/><circle cx="1463.3" cy="121.5" r="4.3"/><circle cx="1468" cy="118.3" r="4.3"/><circle cx="1468.4" cy="121.8" r="4.3"/><circle cx="1470.2" cy="123.2" r="4.3"/><circle cx="1468.8" cy="126.6" r="4.3"/><circle cx="1471.3" cy="127.2" r="4.3"/><circle cx="1473.2" cy="128.3" r="4.3"/><circle cx="1473.7" cy="130.2" r="4.3"/><circle cx="1472.8" cy="133.1" r="4.3"/><circle cx="1476" cy="133.3" r="4.3"/><circle cx="1477.4" cy="135.4" r="4.3"/><circle cx="1475.8" cy="137.9" r="4.3"/><circle cx="1476.6" cy="140.4" r="4.3"/><circle cx="1479.3" cy="140.8" r="4.3"/><circle cx="1479.2" cy="142.6" r="4.3"/><circle cx="1482.8" cy="143.7" r="4.3"/><circle cx="1485" cy="144.6" r="4.3"/><circle cx="1485.9" cy="146.1" r="4.3"/><circle cx="1485.9" cy="149.2" r="4.3"/><circle cx="1483" cy="152.9" r="4.3"/><circle cx="1484.9" cy="153.5" r="4.3"/><circle cx="1486.9" cy="154.8" r="4.3"/><circle cx="1490.7" cy="155.6" r="4.3"/><circle cx="1489.1" cy="158" r="4.3"/><circle cx="1487.4" cy="161.3" r="4.3"/><circle cx="1490.4" cy="162" r="4.3"/><circle cx="1488.3" cy="165" r="4.3"/><circle cx="1492.7" cy="165.3" r="4.3"/><circle cx="1490.4" cy="168" r="4.3"/><circle cx="1490.3" cy="170.2" r="4.3"/><circle cx="1492" cy="172.5" r="4.3"/><circle cx="1494.2" cy="173.1" r="4.3"/><circle cx="1494" cy="174.9" r="4.3"/><circle cx="1497.1" cy="176.6" r="4.3"/><circle cx="1496.7" cy="178.3" r="4.3"/><circle cx="1496.4" cy="181.6" r="4.3"/><circle cx="1499" cy="181.9" r="4.3"/><circle cx="1496.5" cy="186.2" r="4.3"/><circle cx="1499.9" cy="185.9" r="4.3"/><circle cx="1500.1" cy="188" r="4.3"/><circle cx="1501.6" cy="190.5" r="4.3"/><circle cx="1506.4" cy="187.7" r="4.3"/><circle cx="1504.7" cy="191.9" r="4.3"/><circle cx="1505.8" cy="194" r="4.3"/><circle cx="1510.7" cy="192.8" r="4.3"/><circle cx="1509.9" cy="195.3" r="4.3"/><circle cx="1513.1" cy="195.4" r="4.3"/><circle cx="1513" cy="198.7" r="4.3"/><circle cx="1514.7" cy="200.3" r="4.3"/><circle cx="1519.8" cy="197.1" r="4.3"/><circle cx="1520.2" cy="199.6" r="4.3"/><circle cx="1521.2" cy="200.9" r="4.3"/><circle cx="1522" cy="202.7" r="4.3"/><circle cx="1522.1" cy="205.7" r="4.3"/><circle cx="1524.6" cy="205.9" r="4.3"/><circle cx="1527.1" cy="206.9" r="4.3"/><circle cx="1528.2" cy="207.8" r="4.3"/><circle cx="1530.2" cy="209.1" r="4.3"/><circle cx="1529.5" cy="213.7" r="4.3"/><circle cx="1533.5" cy="211.9" r="4.3"/><circle cx="1531.8" cy="217.5" r="4.3"/><circle cx="1534.8" cy="216.5" r="4.3"/><circle cx="1536.5" cy="217.7" r="4.3"/><circle cx="1537.7" cy="219.2" r="4.3"/><circle cx="1540.2" cy="219.1" r="4.3"/><circle cx="1542.6" cy="218.5" r="4.3"/><circle cx="1543.3" cy="220.2" r="4.3"/><circle cx="1546" cy="221.5" r="4.3"/><circle cx="1545.7" cy="224.8" r="4.3"/><circle cx="1549" cy="223.2" r="4.3"/><circle cx="1549.7" cy="226.3" r="4.3"/><circle cx="1552.6" cy="226" r="4.3"/><circle cx="1553" cy="228.3" r="4.3"/><circle cx="1553.5" cy="231.1" r="4.3"/><circle cx="1556.6" cy="229.9" r="4.3"/><circle cx="1560.6" cy="229.1" r="4.3"/><circle cx="1561.8" cy="230.9" r="4.3"/><circle cx="1561.5" cy="234.3" r="4.3"/><circle cx="1561.4" cy="236.1" r="4.3"/><circle cx="1562.8" cy="237.1" r="4.3"/><circle cx="1563.1" cy="239.7" r="4.3"/><circle cx="1561.8" cy="243.1" r="4.3"/><circle cx="1566.1" cy="243" r="4.3"/><circle cx="1566.7" cy="244.9" r="4.3"/><circle cx="1566" cy="246.7" r="4.3"/><circle cx="1570.1" cy="247.6" r="4.3"/><circle cx="1570.1" cy="249.2" r="4.3"/><circle cx="1568.1" cy="252.6" r="4.3"/><circle cx="1570.3" cy="254.4" r="4.3"/><circle cx="1573.3" cy="254.8" r="4.3"/><circle cx="1571.8" cy="258.6" r="4.3"/><circle cx="1575.8" cy="257.3" r="4.3"/><circle cx="1576.9" cy="260" r="4.3"/><circle cx="1577.7" cy="261.2" r="4.3"/><circle cx="1577.7" cy="263.9" r="4.3"/><circle cx="1580.3" cy="265" r="4.3"/><circle cx="1582.4" cy="264.3" r="4.3"/><circle cx="1582.7" cy="268.1" r="4.3"/><circle cx="1585.8" cy="266.9" r="4.3"/><circle cx="1587" cy="269.3" r="4.3"/><circle cx="1589.5" cy="268.9" r="4.3"/><circle cx="1584.7" cy="275.6" r="4.3"/><circle cx="1591.5" cy="273.7" r="4.3"/><circle cx="1590.3" cy="277.2" r="4.3"/><circle cx="1591.7" cy="278.5" r="4.3"/><circle cx="1591" cy="281.3" r="4.3"/><circle cx="1594.8" cy="280.4" r="4.3"/><circle cx="1598.9" cy="280.2" r="4.3"/><circle cx="1599.4" cy="282.8" r="4.3"/><circle cx="1597.6" cy="286.6" r="4.3"/><circle cx="1596.8" cy="288.9" r="4.3"/><circle cx="1600.2" cy="288.9" r="4.3"/><circle cx="1602.6" cy="289.2" r="4.3"/><circle cx="1604.3" cy="291.7" r="4.3"/><circle cx="1605.2" cy="292.1" r="4.3"/><circle cx="1605.5" cy="295.5" r="4.3"/><circle cx="1610.1" cy="293.8" r="4.3"/><circle cx="1608.3" cy="297.7" r="4.3"/><circle cx="1612.8" cy="297.1" r="4.3"/><circle cx="1613.2" cy="299.1" r="4.3"/><circle cx="1612.3" cy="303.5" r="4.3"/><circle cx="1616.9" cy="300.3" r="4.3"/><circle cx="1614.7" cy="305.7" r="4.3"/><circle cx="1618.9" cy="305.2" r="4.3"/><circle cx="1620.6" cy="305.3" r="4.3"/><circle cx="1619.4" cy="309.2" r="4.3"/><circle cx="1624" cy="307.4" r="4.3"/><circle cx="1626.3" cy="308.8" r="4.3"/><circle cx="1626.6" cy="310.9" r="4.3"/><circle cx="1628.8" cy="311.8" r="4.3"/><circle cx="1627.7" cy="315.7" r="4.3"/><circle cx="1632" cy="314.7" r="4.3"/><circle cx="1632.5" cy="317" r="4.3"/><circle cx="1632.3" cy="320" r="4.3"/><circle cx="1631.5" cy="323.5" r="4.3"/><circle cx="1631.5" cy="325.3" r="4.3"/><circle cx="1637" cy="323.3" r="4.3"/><circle cx="1638.1" cy="325" r="4.3"/><circle cx="1638.6" cy="328.2" r="4.3"/><circle cx="1640" cy="328.3" r="4.3"/><circle cx="1642.3" cy="329.1" r="4.3"/><circle cx="1641.7" cy="332.2" r="4.3"/><circle cx="1645.6" cy="331.7" r="4.3"/><circle cx="1646" cy="334.2" r="4.3"/><circle cx="1647.4" cy="336.4" r="4.3"/><circle cx="1648.2" cy="337.1" r="4.3"/><circle cx="1652.5" cy="335.7" r="4.3"/><circle cx="1653.3" cy="337.7" r="4.3"/><circle cx="1654.7" cy="338.4" r="4.3"/><circle cx="1654.4" cy="343.2" r="4.3"/><circle cx="1657" cy="342.6" r="4.3"/><circle cx="1657.6" cy="344.4" r="4.3"/><circle cx="1660.8" cy="344.3" r="4.3"/><circle cx="1663.4" cy="344.2" r="4.3"/><circle cx="1662.7" cy="348.7" r="4.3"/><circle cx="1665.6" cy="347.4" r="4.3"/><circle cx="1664.9" cy="352.8" r="4.3"/><circle cx="1667.6" cy="352.5" r="4.3"/><circle cx="1669.5" cy="353.3" r="4.3"/><circle cx="1671.1" cy="354.4" r="4.3"/><circle cx="1673" cy="355.2" r="4.3"/><circle cx="1676.5" cy="354.5" r="4.3"/><circle cx="1677.6" cy="355.3" r="4.3"/><circle cx="1676.4" cy="360" r="4.3"/><circle cx="1679.1" cy="359.7" r="4.3"/><circle cx="1682.6" cy="357.5" r="4.3"/><circle cx="1682.9" cy="361.4" r="4.3"/><circle cx="1685.7" cy="359.6" r="4.3"/><circle cx="1687.8" cy="360.9" r="4.3"/><circle cx="1688.4" cy="363" r="4.3"/><circle cx="1689.7" cy="364.2" r="4.3"/><circle cx="1690.3" cy="367.9" r="4.3"/><circle cx="1692.7" cy="367.2" r="4.3"/><circle cx="1696.2" cy="366.7" r="4.3"/><circle cx="1697" cy="369.4" r="4.3"/><circle cx="1699.2" cy="368.1" r="4.3"/><circle cx="1701.4" cy="367.7" r="4.3"/><circle cx="1703.1" cy="371" r="4.3"/><circle cx="1704.2" cy="371.8" r="4.3"/><circle cx="1704.7" cy="374.3" r="4.3"/><circle cx="1708" cy="373.6" r="4.3"/><circle cx="1710" cy="375.1" r="4.3"/><circle cx="1712.2" cy="375.2" r="4.3"/><circle cx="1714.3" cy="375.4" r="4.3"/><circle cx="1716" cy="374.2" r="4.3"/><circle cx="1716.8" cy="378.7" r="4.3"/><circle cx="1719.2" cy="376.5" r="4.3"/><circle cx="1721.3" cy="377.9" r="4.3"/><circle cx="1721.8" cy="380" r="4.3"/><circle cx="1724.7" cy="380.3" r="4.3"/><circle cx="1725.1" cy="383" r="4.3"/><circle cx="1727.1" cy="383.3" r="4.3"/><circle cx="1729.5" cy="383.5" r="4.3"/><circle cx="1730.7" cy="384.8" r="4.3"/><circle cx="1734.2" cy="383.5" r="4.3"/><circle cx="1736" cy="384.6" r="4.3"/><circle cx="1735.9" cy="388.5" r="4.3"/><circle cx="1739.3" cy="387.3" r="4.3"/><circle cx="1742.1" cy="386" r="4.3"/><circle cx="1740.9" cy="391.5" r="4.3"/><circle cx="1744.9" cy="388.3" r="4.3"/><circle cx="1746.1" cy="391.3" r="4.3"/><circle cx="1749.3" cy="388.2" r="4.3"/><circle cx="1749.7" cy="393.1" r="4.3"/><circle cx="1751.9" cy="390.2" r="4.3"/><circle cx="1755.1" cy="390.2" r="4.3"/><circle cx="1755.9" cy="394.2" r="4.3"/><circle cx="1758.3" cy="393" r="4.3"/><circle cx="1759.5" cy="395.3" r="4.3"/><circle cx="1761.8" cy="395.2" r="4.3"/><circle cx="1763.4" cy="395.8" r="4.3"/><circle cx="1764.9" cy="399.5" r="4.3"/><circle cx="1767.1" cy="399.6" r="4.3"/><circle cx="1769.3" cy="396.6" r="4.3"/><circle cx="1771.1" cy="394.8" r="4.3"/><circle cx="1773.9" cy="395.1" r="4.3"/><circle cx="1775" cy="395.5" r="4.3"/><circle cx="1776.6" cy="397.7" r="4.3"/><circle cx="1778.8" cy="399.4" r="4.3"/><circle cx="1780.2" cy="401.7" r="4.3"/><circle cx="1783.7" cy="397.3" r="4.3"/><circle cx="1785.3" cy="398.8" r="4.3"/></g>
<path d="M1433.9 122.8 C1434.9 124.2 1437.8 128 1439.9 131.4 C1442 134.8 1444.4 138.3 1446.7 143.4 C1449 148.5 1451 155.1 1453.6 162.2 C1456.1 169.3 1459.2 178.2 1462 186.2 C1464.8 194.2 1467.8 202 1470.7 210 C1473.6 218 1476.5 225.7 1479.2 234 C1481.9 242.3 1484.1 251.4 1487 259.8 C1489.9 268.2 1493.9 276.7 1496.6 284.2 C1499.3 291.7 1500.7 297.2 1503 305 C1505.3 312.8 1508.1 322.8 1510.4 331 C1512.7 339.2 1514.7 346.2 1517 354 C1519.3 361.8 1521.9 371.2 1524.2 378 C1526.5 384.8 1528.7 389.9 1531 395 C1533.3 400.1 1535.7 404.2 1538 408.4 C1540.3 412.6 1542.7 416.6 1545 420 C1547.3 423.4 1549.6 426.6 1551.8 429 C1554 431.4 1555.7 432.9 1558 434.5 C1560.3 436.1 1562 437.7 1565.6 438.8 C1569.2 439.9 1573.7 440.9 1579.4 441.3 C1585.1 441.8 1565.3 441.5 1600 441.5 C1634.7 441.5 1756.1 441.5 1787.3 441.5" fill="none" stroke="#2294c8" stroke-width="3.0"/>
<path d="M1433 119.4 L1435.1 119.6 L1438.2 119.6 L1440.5 122.1 L1443.4 121.3 L1446.2 122 L1448.5 120.9 L1450.4 120.5 L1453.1 119.3 L1454.7 119.2 L1457.1 120.2 L1459.1 122.6 L1461.3 123.2 L1463.2 125.6 L1465.7 126.1 L1468 129.6 L1469.7 131 L1471.5 131.3 L1473 133.5 L1474.2 136.4 L1475.9 138.2 L1477.2 140.3 L1477.9 142.3 L1479.5 145.8 L1481.5 147.5 L1483.5 149.4 L1484.7 152 L1486 152.9 L1488.5 155.5 L1489.7 157.7 L1491.8 159.4 L1493 161.3 L1494.6 163.9 L1495.7 166.4 L1497.1 167.2 L1498.6 169.2 L1500.4 171.5 L1502.3 173.5 L1503.4 176.8 L1504.3 178.6 L1505.4 180.4 L1506.9 183.3 L1508.9 184 L1510.8 186.5 L1512 188.6 L1513.7 191.3 L1514.6 193.3 L1515.5 195.5 L1516.8 197.9 L1517.3 199.8 L1518.4 201.8 L1520.4 204.5 L1522.2 206.1 L1523.6 208.6 L1524.7 210.6 L1525.8 214 L1526.2 215 L1527.6 219.1 L1529 220.3 L1530.6 223.3 L1532 225.7 L1532.9 226.3 L1535.4 228.6 L1536.7 230.3 L1537.8 233.8 L1538.3 236.6 L1539.3 238.3 L1539.9 241.4 L1540.8 242.8 L1542.2 244.4 L1543.8 246.6 L1545.4 249.4 L1546.3 251.8 L1547.9 253.7 L1549.4 256.1 L1550.2 259.6 L1552.2 260.5 L1553 263.6 L1553.7 265.9 L1554.8 267.7 L1556 269.6 L1556.9 273.9 L1558.8 274.8 L1560.4 277 L1561.6 279.2 L1563 281.6 L1564.4 283.2 L1565.3 285.8 L1567 289.1 L1567.7 290.4 L1569.1 291.9 L1570.4 294.2 L1572 297.1 L1574.2 299.6 L1575.7 301 L1576.9 303.2 L1578.4 304.4 L1580.1 308.2 L1581.6 309.3 L1583.4 311.8 L1584.9 313.3 L1587.5 315 L1588.9 317.5 L1590.8 319.2 L1593.6 320.8 L1595.7 321.4 L1597.4 323.3 L1599.4 324.7 L1601.8 326 L1603.8 326.9 L1605.5 329.9 L1608 330.1 L1611 332 L1612.5 332.8 L1615.2 334 L1617.3 334.5 L1620.8 336.6 L1634 342 L1648.4 346.3 L1662 349 L1676 350.4 L1690 351 L1703.6 351.8 L1717 353 L1731.2 354.6 L1745 356.5 L1758.8 358.7 L1773 362 L1787.3 366.5" fill="none" stroke="#14432a" stroke-width="2.2" stroke-linejoin="round"/>
<path d="M1419.3 222 C1419.5 219.2 1420 211.2 1420.5 205 C1421 198.8 1421.8 191.3 1422.5 185 C1423.2 178.7 1423.8 172.8 1424.5 167 C1425.2 161.2 1426.1 155.3 1427 150 C1427.9 144.7 1429 139.5 1430 135 C1431 130.5 1432.5 124.8 1433 122.8" fill="none" stroke="#111" stroke-width="2.2" stroke-dasharray="8 10" stroke-dashoffset="3"/>
<path d="M1426.8 116.8 h12.4 M1433 110.6 v12.4" stroke="#111" stroke-width="2.0" fill="none"/>
<path d="M1447.4 117.3 h12.4 M1453.6 111.1 v12.4" stroke="#111" stroke-width="2.0" fill="none"/>
</g>
<text font-size="15.3" textLength="54.5" lengthAdjust="spacingAndGlyphs" transform="translate(1484.8 246.5) rotate(63.5)" fill="#231f20" stroke="#231f20">460 nm</text>
<text font-size="15.3" textLength="56" lengthAdjust="spacingAndGlyphs" transform="translate(1574.3 227.5) rotate(54)" fill="#231f20" stroke="#231f20">500 nm</text>
<path d="M1502 305 Q1535 303 1558 288" fill="none" stroke="#111" stroke-width="1.8"/>
<path d="M1564.5 284 L1553.5 284.2 L1558.2 293.6 Z" fill="#111"/>
<text x="1620" y="182.2" font-size="19.5" textLength="145.8" lengthAdjust="spacingAndGlyphs" fill="#231f20" stroke="#231f20">Graded energy</text>
<text x="1620" y="207.2" font-size="19.5" textLength="101" lengthAdjust="spacingAndGlyphs" fill="#231f20" stroke="#231f20">landscape</text>
<rect x="1328.6" y="84.2" width="458.7" height="359.8" fill="none" stroke="#5a5a5a" stroke-width="1.3"/>
<line x1="1342.1" y1="84.2" x2="1342.1" y2="86.1" stroke="#5a5a5a" stroke-width="1.1"/>
<line x1="1342.1" y1="444" x2="1342.1" y2="442.1" stroke="#5a5a5a" stroke-width="1.1"/>
<line x1="1352.6" y1="84.2" x2="1352.6" y2="86.1" stroke="#5a5a5a" stroke-width="1.1"/>
<line x1="1352.6" y1="444" x2="1352.6" y2="442.1" stroke="#5a5a5a" stroke-width="1.1"/>
<line x1="1361.2" y1="84.2" x2="1361.2" y2="86.1" stroke="#5a5a5a" stroke-width="1.1"/>
<line x1="1361.2" y1="444" x2="1361.2" y2="442.1" stroke="#5a5a5a" stroke-width="1.1"/>
<line x1="1368.4" y1="84.2" x2="1368.4" y2="86.1" stroke="#5a5a5a" stroke-width="1.1"/>
<line x1="1368.4" y1="444" x2="1368.4" y2="442.1" stroke="#5a5a5a" stroke-width="1.1"/>
<line x1="1374.7" y1="84.2" x2="1374.7" y2="86.1" stroke="#5a5a5a" stroke-width="1.1"/>
<line x1="1374.7" y1="444" x2="1374.7" y2="442.1" stroke="#5a5a5a" stroke-width="1.1"/>
<line x1="1380.2" y1="84.2" x2="1380.2" y2="86.1" stroke="#5a5a5a" stroke-width="1.1"/>
<line x1="1380.2" y1="444" x2="1380.2" y2="442.1" stroke="#5a5a5a" stroke-width="1.1"/>
<line x1="1385.2" y1="84.2" x2="1385.2" y2="88.8" stroke="#5a5a5a" stroke-width="1.1"/>
<line x1="1385.2" y1="444" x2="1385.2" y2="439.4" stroke="#5a5a5a" stroke-width="1.1"/>
<line x1="1417.8" y1="84.2" x2="1417.8" y2="86.1" stroke="#5a5a5a" stroke-width="1.1"/>
<line x1="1417.8" y1="444" x2="1417.8" y2="442.1" stroke="#5a5a5a" stroke-width="1.1"/>
<line x1="1436.9" y1="84.2" x2="1436.9" y2="86.1" stroke="#5a5a5a" stroke-width="1.1"/>
<line x1="1436.9" y1="444" x2="1436.9" y2="442.1" stroke="#5a5a5a" stroke-width="1.1"/>
<line x1="1450.4" y1="84.2" x2="1450.4" y2="86.1" stroke="#5a5a5a" stroke-width="1.1"/>
<line x1="1450.4" y1="444" x2="1450.4" y2="442.1" stroke="#5a5a5a" stroke-width="1.1"/>
<line x1="1460.9" y1="84.2" x2="1460.9" y2="86.1" stroke="#5a5a5a" stroke-width="1.1"/>
<line x1="1460.9" y1="444" x2="1460.9" y2="442.1" stroke="#5a5a5a" stroke-width="1.1"/>
<line x1="1469.5" y1="84.2" x2="1469.5" y2="86.1" stroke="#5a5a5a" stroke-width="1.1"/>
<line x1="1469.5" y1="444" x2="1469.5" y2="442.1" stroke="#5a5a5a" stroke-width="1.1"/>
<line x1="1476.7" y1="84.2" x2="1476.7" y2="86.1" stroke="#5a5a5a" stroke-width="1.1"/>
<line x1="1476.7" y1="444" x2="1476.7" y2="442.1" stroke="#5a5a5a" stroke-width="1.1"/>
<line x1="1483" y1="84.2" x2="1483" y2="86.1" stroke="#5a5a5a" stroke-width="1.1"/>
<line x1="1483" y1="444" x2="1483" y2="442.1" stroke="#5a5a5a" stroke-width="1.1"/>
<line x1="1488.5" y1="84.2" x2="1488.5" y2="86.1" stroke="#5a5a5a" stroke-width="1.1"/>
<line x1="1488.5" y1="444" x2="1488.5" y2="442.1" stroke="#5a5a5a" stroke-width="1.1"/>
<line x1="1493.5" y1="84.2" x2="1493.5" y2="88.8" stroke="#5a5a5a" stroke-width="1.1"/>
<line x1="1493.5" y1="444" x2="1493.5" y2="439.4" stroke="#5a5a5a" stroke-width="1.1"/>
<line x1="1526.1" y1="84.2" x2="1526.1" y2="86.1" stroke="#5a5a5a" stroke-width="1.1"/>
<line x1="1526.1" y1="444" x2="1526.1" y2="442.1" stroke="#5a5a5a" stroke-width="1.1"/>
<line x1="1545.2" y1="84.2" x2="1545.2" y2="86.1" stroke="#5a5a5a" stroke-width="1.1"/>
<line x1="1545.2" y1="444" x2="1545.2" y2="442.1" stroke="#5a5a5a" stroke-width="1.1"/>
<line x1="1558.7" y1="84.2" x2="1558.7" y2="86.1" stroke="#5a5a5a" stroke-width="1.1"/>
<line x1="1558.7" y1="444" x2="1558.7" y2="442.1" stroke="#5a5a5a" stroke-width="1.1"/>
<line x1="1569.2" y1="84.2" x2="1569.2" y2="86.1" stroke="#5a5a5a" stroke-width="1.1"/>
<line x1="1569.2" y1="444" x2="1569.2" y2="442.1" stroke="#5a5a5a" stroke-width="1.1"/>
<line x1="1577.8" y1="84.2" x2="1577.8" y2="86.1" stroke="#5a5a5a" stroke-width="1.1"/>
<line x1="1577.8" y1="444" x2="1577.8" y2="442.1" stroke="#5a5a5a" stroke-width="1.1"/>
<line x1="1585" y1="84.2" x2="1585" y2="86.1" stroke="#5a5a5a" stroke-width="1.1"/>
<line x1="1585" y1="444" x2="1585" y2="442.1" stroke="#5a5a5a" stroke-width="1.1"/>
<line x1="1591.3" y1="84.2" x2="1591.3" y2="86.1" stroke="#5a5a5a" stroke-width="1.1"/>
<line x1="1591.3" y1="444" x2="1591.3" y2="442.1" stroke="#5a5a5a" stroke-width="1.1"/>
<line x1="1596.8" y1="84.2" x2="1596.8" y2="86.1" stroke="#5a5a5a" stroke-width="1.1"/>
<line x1="1596.8" y1="444" x2="1596.8" y2="442.1" stroke="#5a5a5a" stroke-width="1.1"/>
<line x1="1601.8" y1="84.2" x2="1601.8" y2="88.8" stroke="#5a5a5a" stroke-width="1.1"/>
<line x1="1601.8" y1="444" x2="1601.8" y2="439.4" stroke="#5a5a5a" stroke-width="1.1"/>
<line x1="1634.4" y1="84.2" x2="1634.4" y2="86.1" stroke="#5a5a5a" stroke-width="1.1"/>
<line x1="1634.4" y1="444" x2="1634.4" y2="442.1" stroke="#5a5a5a" stroke-width="1.1"/>
<line x1="1653.5" y1="84.2" x2="1653.5" y2="86.1" stroke="#5a5a5a" stroke-width="1.1"/>
<line x1="1653.5" y1="444" x2="1653.5" y2="442.1" stroke="#5a5a5a" stroke-width="1.1"/>
<line x1="1667" y1="84.2" x2="1667" y2="86.1" stroke="#5a5a5a" stroke-width="1.1"/>
<line x1="1667" y1="444" x2="1667" y2="442.1" stroke="#5a5a5a" stroke-width="1.1"/>
<line x1="1677.5" y1="84.2" x2="1677.5" y2="86.1" stroke="#5a5a5a" stroke-width="1.1"/>
<line x1="1677.5" y1="444" x2="1677.5" y2="442.1" stroke="#5a5a5a" stroke-width="1.1"/>
<line x1="1686.1" y1="84.2" x2="1686.1" y2="86.1" stroke="#5a5a5a" stroke-width="1.1"/>
<line x1="1686.1" y1="444" x2="1686.1" y2="442.1" stroke="#5a5a5a" stroke-width="1.1"/>
<line x1="1693.3" y1="84.2" x2="1693.3" y2="86.1" stroke="#5a5a5a" stroke-width="1.1"/>
<line x1="1693.3" y1="444" x2="1693.3" y2="442.1" stroke="#5a5a5a" stroke-width="1.1"/>
<line x1="1699.6" y1="84.2" x2="1699.6" y2="86.1" stroke="#5a5a5a" stroke-width="1.1"/>
<line x1="1699.6" y1="444" x2="1699.6" y2="442.1" stroke="#5a5a5a" stroke-width="1.1"/>
<line x1="1705.1" y1="84.2" x2="1705.1" y2="86.1" stroke="#5a5a5a" stroke-width="1.1"/>
<line x1="1705.1" y1="444" x2="1705.1" y2="442.1" stroke="#5a5a5a" stroke-width="1.1"/>
<line x1="1710.1" y1="84.2" x2="1710.1" y2="88.8" stroke="#5a5a5a" stroke-width="1.1"/>
<line x1="1710.1" y1="444" x2="1710.1" y2="439.4" stroke="#5a5a5a" stroke-width="1.1"/>
<line x1="1742.7" y1="84.2" x2="1742.7" y2="86.1" stroke="#5a5a5a" stroke-width="1.1"/>
<line x1="1742.7" y1="444" x2="1742.7" y2="442.1" stroke="#5a5a5a" stroke-width="1.1"/>
<line x1="1761.8" y1="84.2" x2="1761.8" y2="86.1" stroke="#5a5a5a" stroke-width="1.1"/>
<line x1="1761.8" y1="444" x2="1761.8" y2="442.1" stroke="#5a5a5a" stroke-width="1.1"/>
<line x1="1775.3" y1="84.2" x2="1775.3" y2="86.1" stroke="#5a5a5a" stroke-width="1.1"/>
<line x1="1775.3" y1="444" x2="1775.3" y2="442.1" stroke="#5a5a5a" stroke-width="1.1"/>
<line x1="1785.8" y1="84.2" x2="1785.8" y2="86.1" stroke="#5a5a5a" stroke-width="1.1"/>
<line x1="1785.8" y1="444" x2="1785.8" y2="442.1" stroke="#5a5a5a" stroke-width="1.1"/>
<line x1="1328.6" y1="116.6" x2="1333.6" y2="116.6" stroke="#5a5a5a" stroke-width="1.2"/>
<line x1="1787.3" y1="116.6" x2="1782.3" y2="116.6" stroke="#5a5a5a" stroke-width="1.2"/>
<text x="1288.3" y="124.3" font-size="24.5" textLength="24.5" lengthAdjust="spacingAndGlyphs" fill="#231f20" stroke="#231f20">–1</text>
<line x1="1328.6" y1="181.5" x2="1333.6" y2="181.5" stroke="#5a5a5a" stroke-width="1.2"/>
<line x1="1787.3" y1="181.5" x2="1782.3" y2="181.5" stroke="#5a5a5a" stroke-width="1.2"/>
<text x="1267.9" y="189.2" font-size="24.5" textLength="48" lengthAdjust="spacingAndGlyphs" fill="#231f20" stroke="#231f20">–0.8</text>
<line x1="1328.6" y1="246.4" x2="1333.6" y2="246.4" stroke="#5a5a5a" stroke-width="1.2"/>
<line x1="1787.3" y1="246.4" x2="1782.3" y2="246.4" stroke="#5a5a5a" stroke-width="1.2"/>
<text x="1267.9" y="254.1" font-size="24.5" textLength="48" lengthAdjust="spacingAndGlyphs" fill="#231f20" stroke="#231f20">–0.6</text>
<line x1="1328.6" y1="311.2" x2="1333.6" y2="311.2" stroke="#5a5a5a" stroke-width="1.2"/>
<line x1="1787.3" y1="311.2" x2="1782.3" y2="311.2" stroke="#5a5a5a" stroke-width="1.2"/>
<text x="1267.9" y="318.9" font-size="24.5" textLength="48" lengthAdjust="spacingAndGlyphs" fill="#231f20" stroke="#231f20">–0.4</text>
<line x1="1328.6" y1="376.1" x2="1333.6" y2="376.1" stroke="#5a5a5a" stroke-width="1.2"/>
<line x1="1787.3" y1="376.1" x2="1782.3" y2="376.1" stroke="#5a5a5a" stroke-width="1.2"/>
<text x="1267.9" y="383.8" font-size="24.5" textLength="48" lengthAdjust="spacingAndGlyphs" fill="#231f20" stroke="#231f20">–0.2</text>
<line x1="1328.6" y1="441" x2="1333.6" y2="441" stroke="#5a5a5a" stroke-width="1.2"/>
<line x1="1787.3" y1="441" x2="1782.3" y2="441" stroke="#5a5a5a" stroke-width="1.2"/>
<text x="1303.2" y="448.7" font-size="24.5" textLength="12.7" lengthAdjust="spacingAndGlyphs" fill="#231f20" stroke="#231f20">0</text>
<text x="1398.2" y="480.8" font-size="27.5" textLength="57.6" lengthAdjust="spacingAndGlyphs" fill="#231f20" stroke="#231f20">1 ps</text>
<text x="1481.2" y="480.8" font-size="27.5" textLength="74.6" lengthAdjust="spacingAndGlyphs" fill="#231f20" stroke="#231f20">10 ps</text>
<text x="1583" y="480.8" font-size="27.5" textLength="90.3" lengthAdjust="spacingAndGlyphs" fill="#231f20" stroke="#231f20">100 ps</text>
<text x="1740.2" y="480.8" font-size="27.5" textLength="57.6" lengthAdjust="spacingAndGlyphs" fill="#231f20" stroke="#231f20">1 ns</text>
<text x="1473.2" y="524.5" font-size="27.5" textLength="162.2" lengthAdjust="spacingAndGlyphs" fill="#231f20" stroke="#231f20">Pump delay</text>
<text font-size="27.5" textLength="127" lengthAdjust="spacingAndGlyphs" transform="translate(1257 325.5) rotate(-90)" fill="#231f20" stroke="#231f20"><tspan font-weight="normal" stroke="none">Δ</tspan>OD norm</text>
<rect x="1530.5" y="17.2" width="257" height="131.2" fill="#fff" stroke="#3a3a3a" stroke-width="1.2"/>
<rect x="1565.6" y="140.8" width="19.8" height="7.6" fill="#2b71bf" stroke="#1d2a33" stroke-width="1"/>
<rect x="1604.7" y="110.8" width="19.6" height="37.6" fill="#208cc0" stroke="#1d2a33" stroke-width="1"/>
<rect x="1634.1" y="88.8" width="19.5" height="59.6" fill="#60c08d" stroke="#1d2a33" stroke-width="1"/>
<rect x="1657.8" y="126.3" width="18.6" height="22.1" fill="#80c857" stroke="#1d2a33" stroke-width="1"/>
<text x="1560.8" y="136.3" font-size="16.4" textLength="36.3" lengthAdjust="spacingAndGlyphs" fill="#231f20"><tspan font-style="italic">n</tspan> = 2</text>
<text x="1596.2" y="109.1" font-size="16.4" textLength="36.5" lengthAdjust="spacingAndGlyphs" fill="#231f20"><tspan font-style="italic">n</tspan> = 3</text>
<text x="1627.9" y="85.3" font-size="16.4" textLength="36.6" lengthAdjust="spacingAndGlyphs" fill="#231f20"><tspan font-style="italic">n</tspan> = 4</text>
<text x="1659.8" y="122.4" font-size="16.4" textLength="36.6" lengthAdjust="spacingAndGlyphs" fill="#231f20"><tspan font-style="italic">n</tspan> = 5</text>
<text x="1227.5" y="31.2" font-size="42" fill="#231f20" stroke="#231f20">c</text>
<path d="M99.6 608.6 L547 611 L546.4 971.6 L98.7 969.9 Z" fill="none" stroke="#333333" stroke-width="1.7" stroke-linejoin="miter"/>
<line x1="99.6" y1="616.6" x2="112.1" y2="616.6" stroke="#333333" stroke-width="1.5"/>
<line x1="99.6" y1="664.9" x2="106" y2="664.9" stroke="#333333" stroke-width="1.5"/>
<line x1="99.6" y1="652.7" x2="106" y2="652.7" stroke="#333333" stroke-width="1.5"/>
<line x1="99.6" y1="644.1" x2="106" y2="644.1" stroke="#333333" stroke-width="1.5"/>
<line x1="99.6" y1="637.4" x2="106" y2="637.4" stroke="#333333" stroke-width="1.5"/>
<line x1="99.6" y1="631.9" x2="106" y2="631.9" stroke="#333333" stroke-width="1.5"/>
<line x1="99.6" y1="627.3" x2="106" y2="627.3" stroke="#333333" stroke-width="1.5"/>
<line x1="99.6" y1="623.3" x2="106" y2="623.3" stroke="#333333" stroke-width="1.5"/>
<line x1="99.6" y1="619.8" x2="106" y2="619.8" stroke="#333333" stroke-width="1.5"/>
<line x1="99.6" y1="685.3" x2="112.1" y2="685.3" stroke="#333333" stroke-width="1.5"/>
<line x1="99.6" y1="733.6" x2="106" y2="733.6" stroke="#333333" stroke-width="1.5"/>
<line x1="99.6" y1="721.4" x2="106" y2="721.4" stroke="#333333" stroke-width="1.5"/>
<line x1="99.6" y1="712.8" x2="106" y2="712.8" stroke="#333333" stroke-width="1.5"/>
<line x1="99.6" y1="706.1" x2="106" y2="706.1" stroke="#333333" stroke-width="1.5"/>
<line x1="99.6" y1="700.6" x2="106" y2="700.6" stroke="#333333" stroke-width="1.5"/>
<line x1="99.6" y1="696" x2="106" y2="696" stroke="#333333" stroke-width="1.5"/>
<line x1="99.6" y1="692" x2="106" y2="692" stroke="#333333" stroke-width="1.5"/>
<line x1="99.6" y1="688.5" x2="106" y2="688.5" stroke="#333333" stroke-width="1.5"/>
<line x1="99.6" y1="754.4" x2="112.1" y2="754.4" stroke="#333333" stroke-width="1.5"/>
<line x1="99.6" y1="802.7" x2="106" y2="802.7" stroke="#333333" stroke-width="1.5"/>
<line x1="99.6" y1="790.5" x2="106" y2="790.5" stroke="#333333" stroke-width="1.5"/>
<line x1="99.6" y1="781.9" x2="106" y2="781.9" stroke="#333333" stroke-width="1.5"/>
<line x1="99.6" y1="775.2" x2="106" y2="775.2" stroke="#333333" stroke-width="1.5"/>
<line x1="99.6" y1="769.7" x2="106" y2="769.7" stroke="#333333" stroke-width="1.5"/>
<line x1="99.6" y1="765.1" x2="106" y2="765.1" stroke="#333333" stroke-width="1.5"/>
<line x1="99.6" y1="761.1" x2="106" y2="761.1" stroke="#333333" stroke-width="1.5"/>
<line x1="99.6" y1="757.6" x2="106" y2="757.6" stroke="#333333" stroke-width="1.5"/>
<line x1="99.6" y1="823.6" x2="112.1" y2="823.6" stroke="#333333" stroke-width="1.5"/>
<line x1="99.6" y1="871.9" x2="106" y2="871.9" stroke="#333333" stroke-width="1.5"/>
<line x1="99.6" y1="859.7" x2="106" y2="859.7" stroke="#333333" stroke-width="1.5"/>
<line x1="99.6" y1="851.1" x2="106" y2="851.1" stroke="#333333" stroke-width="1.5"/>
<line x1="99.6" y1="844.4" x2="106" y2="844.4" stroke="#333333" stroke-width="1.5"/>
<line x1="99.6" y1="838.9" x2="106" y2="838.9" stroke="#333333" stroke-width="1.5"/>
<line x1="99.6" y1="834.3" x2="106" y2="834.3" stroke="#333333" stroke-width="1.5"/>
<line x1="99.6" y1="830.3" x2="106" y2="830.3" stroke="#333333" stroke-width="1.5"/>
<line x1="99.6" y1="826.8" x2="106" y2="826.8" stroke="#333333" stroke-width="1.5"/>
<line x1="99.6" y1="892.9" x2="112.1" y2="892.9" stroke="#333333" stroke-width="1.5"/>
<line x1="99.6" y1="941.2" x2="106" y2="941.2" stroke="#333333" stroke-width="1.5"/>
<line x1="99.6" y1="929" x2="106" y2="929" stroke="#333333" stroke-width="1.5"/>
<line x1="99.6" y1="920.4" x2="106" y2="920.4" stroke="#333333" stroke-width="1.5"/>
<line x1="99.6" y1="913.7" x2="106" y2="913.7" stroke="#333333" stroke-width="1.5"/>
<line x1="99.6" y1="908.2" x2="106" y2="908.2" stroke="#333333" stroke-width="1.5"/>
<line x1="99.6" y1="903.6" x2="106" y2="903.6" stroke="#333333" stroke-width="1.5"/>
<line x1="99.6" y1="899.6" x2="106" y2="899.6" stroke="#333333" stroke-width="1.5"/>
<line x1="99.6" y1="896.1" x2="106" y2="896.1" stroke="#333333" stroke-width="1.5"/>
<line x1="99.6" y1="962" x2="112.1" y2="962" stroke="#333333" stroke-width="1.5"/>
<line x1="136.2" y1="958" x2="136.2" y2="970" stroke="#333333" stroke-width="1.5"/>
<text x="135.9" y="1002.6" font-size="24.5" text-anchor="middle" fill="#231f20" stroke="#231f20">0</text>
<line x1="236.6" y1="958.4" x2="236.6" y2="970.4" stroke="#333333" stroke-width="1.5"/>
<text x="236.3" y="1002.6" font-size="24.5" text-anchor="middle" fill="#231f20" stroke="#231f20">1</text>
<line x1="337.1" y1="958.8" x2="337.1" y2="970.8" stroke="#333333" stroke-width="1.5"/>
<text x="336.8" y="1002.6" font-size="24.5" text-anchor="middle" fill="#231f20" stroke="#231f20">2</text>
<line x1="437.6" y1="959.2" x2="437.6" y2="971.2" stroke="#333333" stroke-width="1.5"/>
<text x="437.2" y="1002.6" font-size="24.5" text-anchor="middle" fill="#231f20" stroke="#231f20">3</text>
<line x1="538" y1="959.6" x2="538" y2="971.6" stroke="#333333" stroke-width="1.5"/>
<text x="537.7" y="1002.6" font-size="24.5" text-anchor="middle" fill="#231f20" stroke="#231f20">4</text>
<text x="45.8" y="616.8" font-size="24.5" textLength="42.2" lengthAdjust="spacingAndGlyphs" fill="#231f20" stroke="#231f20">100</text>
<text x="59.8" y="687.5" font-size="24.5" textLength="28.2" lengthAdjust="spacingAndGlyphs" fill="#231f20" stroke="#231f20">10</text>
<text x="72.4" y="758" font-size="24.5" fill="#231f20" stroke="#231f20">1</text>
<text x="53.6" y="829.3" font-size="24.5" textLength="32" lengthAdjust="spacingAndGlyphs" fill="#231f20" stroke="#231f20">0.1</text>
<text x="39.8" y="900.7" font-size="24.5" textLength="45.8" lengthAdjust="spacingAndGlyphs" fill="#231f20" stroke="#231f20">0.01</text>
<text font-size="24.5" textLength="113" lengthAdjust="spacingAndGlyphs" transform="translate(20.3 847.5) rotate(-90)" fill="#231f20" stroke="#231f20">PLQY (%)</text>
<text x="174" y="1044.6" font-size="25" textLength="299" lengthAdjust="spacingAndGlyphs" fill="#231f20" stroke="#231f20">Power density (mW cm<tspan font-size="15" dy="-10.5">–2</tspan><tspan dy="10.5">)</tspan></text>
<g fill="none" stroke="#8d5fbb" stroke-width="1.5"><circle cx="137.6" cy="797.6" r="5.6"/><circle cx="144.5" cy="781.6" r="5.6"/><circle cx="151.7" cy="767.7" r="5.6"/><circle cx="160" cy="767.7" r="5.6"/><circle cx="171.8" cy="758" r="5.6"/><circle cx="190.8" cy="741.2" r="5.6"/><circle cx="207.4" cy="741.2" r="5.6"/><circle cx="220.3" cy="727.7" r="5.6"/><circle cx="236" cy="721.5" r="5.6"/><circle cx="257.7" cy="718.3" r="5.6"/><circle cx="268.9" cy="716.5" r="5.6"/><circle cx="306.8" cy="717.4" r="5.6"/><circle cx="312.5" cy="715.6" r="5.6"/><circle cx="342.4" cy="711.4" r="5.6"/><circle cx="349.3" cy="710.1" r="5.6"/><circle cx="382.4" cy="696" r="5.6"/><circle cx="407.8" cy="693.9" r="5.6"/><circle cx="417.4" cy="686.6" r="5.6"/><circle cx="436.6" cy="681.2" r="5.6"/><circle cx="448.2" cy="678" r="5.6"/><circle cx="478" cy="674.9" r="5.6"/><circle cx="485.2" cy="669.5" r="5.6"/><circle cx="490.3" cy="667.6" r="5.6"/></g>
<g fill="none" stroke="#2ba5d9" stroke-width="1.7"><circle cx="145" cy="749.6" r="5.6"/><circle cx="151.9" cy="738.5" r="5.6"/><circle cx="159.1" cy="727.7" r="5.6"/><circle cx="172.3" cy="702.4" r="5.6"/><circle cx="190.8" cy="689.7" r="5.6"/><circle cx="208" cy="680" r="5.6"/><circle cx="220.3" cy="677.6" r="5.6"/><circle cx="236" cy="664.6" r="5.6"/><circle cx="257.7" cy="659" r="5.6"/><circle cx="269" cy="655.5" r="5.6"/><circle cx="307.1" cy="645.6" r="5.6"/><circle cx="312.9" cy="643.8" r="5.6"/><circle cx="137.3" cy="768.9" r="5.6"/><circle cx="137.3" cy="797.4" r="5.6"/></g>
<g fill="none" stroke="#565b69" stroke-width="1.4"><circle cx="206.2" cy="951" r="5.6"/><circle cx="219.2" cy="935.8" r="5.6"/><circle cx="235.3" cy="924.7" r="5.6"/><circle cx="256.8" cy="922" r="5.6"/><circle cx="268" cy="920" r="5.6"/><circle cx="305.5" cy="917.8" r="5.6"/><circle cx="311.8" cy="908.6" r="5.6"/><circle cx="341.4" cy="894.8" r="5.6"/><circle cx="347.8" cy="888.1" r="5.6"/><circle cx="381.3" cy="881.2" r="5.6"/><circle cx="407" cy="881.8" r="5.6"/><circle cx="416.4" cy="877" r="5.6"/><circle cx="435.6" cy="874.3" r="5.6"/><circle cx="446.9" cy="872.1" r="5.6"/><circle cx="477" cy="872.6" r="5.6"/><circle cx="484.8" cy="870.2" r="5.6"/><circle cx="490.3" cy="868" r="5.6"/></g>
<line x1="133" y1="788" x2="168.5" y2="694" stroke="#2b2b2b" stroke-width="1.5" stroke-dasharray="8.5 5.5"/>
<line x1="159" y1="706" x2="329.5" y2="639.3" stroke="#2b2b2b" stroke-width="1.5" stroke-dasharray="8.5 5.5"/>
<line x1="140" y1="785" x2="222.5" y2="721" stroke="#2b2b2b" stroke-width="1.5" stroke-dasharray="8.5 5.5"/>
<line x1="199" y1="739.3" x2="505.5" y2="665.7" stroke="#2b2b2b" stroke-width="1.5" stroke-dasharray="8.5 5.5"/>
<line x1="195" y1="951" x2="316" y2="892.5" stroke="#2b2b2b" stroke-width="1.5" stroke-dasharray="8.5 5.5"/>
<line x1="263" y1="908.7" x2="494" y2="860.5" stroke="#2b2b2b" stroke-width="1.5" stroke-dasharray="8.5 5.5"/>
<line x1="181.3" y1="802.4" x2="511.5" y2="803.8" stroke="#2b2b2b" stroke-width="1.4" stroke-dasharray="6.5 4"/>
<path d="M119.3 747.2 L137 731.3 L128.8 751.4 Z" fill="none" stroke="#4d4d4d" stroke-width="1.2"/>
<path d="M165.2 782.7 L184 769 L172.2 793.2 Z" fill="none" stroke="#4d4d4d" stroke-width="1.2"/>
<path d="M204.8 904.5 L237.5 904 L209 915.5 Z" fill="none" stroke="#4d4d4d" stroke-width="1.2"/>
<text x="110.7" y="722.9" font-size="16" textLength="54.8" lengthAdjust="spacingAndGlyphs" fill="#2a8ccb" stroke="#2a8ccb">slope 1</text>
<text x="191" y="770.6" font-size="16" textLength="56.7" lengthAdjust="spacingAndGlyphs" fill="#8d5fbb" stroke="#8d5fbb">slope 2</text>
<text x="235.8" y="895.7" font-size="16" textLength="56.3" lengthAdjust="spacingAndGlyphs" fill="#565b69" stroke="#565b69">slope 3</text>
<text x="339.1" y="639.7" font-size="16" textLength="54.5" lengthAdjust="spacingAndGlyphs" fill="#231f20" stroke="#231f20">graded</text>
<text x="258.6" y="794.5" font-size="16" textLength="235.8" lengthAdjust="spacingAndGlyphs" fill="#231f20" stroke="#231f20">Engineered energy landscape</text>
<text x="276" y="817.2" font-size="16" textLength="174.8" lengthAdjust="spacingAndGlyphs" fill="#231f20" stroke="#231f20">Flat energy landscape</text>
<text x="449.4" y="846.7" font-size="16" textLength="59.8" lengthAdjust="spacingAndGlyphs" fill="#231f20" stroke="#231f20">bulk 3D</text>
<text x="419.8" y="915.6" font-size="16" textLength="72" lengthAdjust="spacingAndGlyphs" fill="#8a8d9b" stroke="#8a8d9b">MAPbBr<tspan font-size="11" dy="4">3</tspan></text>
<line x1="438.8" y1="776" x2="438.8" y2="742" stroke="#111" stroke-width="1.8"/>
<path d="M438.8 733.5 L434.3 745.5 L443.3 745.5 Z" fill="#111"/>
<line x1="439.1" y1="812.6" x2="439.1" y2="848" stroke="#111" stroke-width="1.8"/>
<path d="M439.1 857 L434.6 845 L443.6 845 Z" fill="#111"/>
<text x="-1" y="611.8" font-size="42" fill="#231f20" stroke="#231f20">d</text>
<path transform="translate(996.2 651.1) rotate(-18)" d="M-15.6 -11.7l3.9 -3.9l3.9 3.9l-3.9 3.9zM-7.8 -11.7l3.9 -3.9l3.9 3.9l-3.9 3.9zM0 -11.7l3.9 -3.9l3.9 3.9l-3.9 3.9zM7.8 -11.7l3.9 -3.9l3.9 3.9l-3.9 3.9zM-15.6 -3.9l3.9 -3.9l3.9 3.9l-3.9 3.9zM-7.8 -3.9l3.9 -3.9l3.9 3.9l-3.9 3.9zM0 -3.9l3.9 -3.9l3.9 3.9l-3.9 3.9zM7.8 -3.9l3.9 -3.9l3.9 3.9l-3.9 3.9zM-15.6 3.9l3.9 -3.9l3.9 3.9l-3.9 3.9zM-7.8 3.9l3.9 -3.9l3.9 3.9l-3.9 3.9zM0 3.9l3.9 -3.9l3.9 3.9l-3.9 3.9zM7.8 3.9l3.9 -3.9l3.9 3.9l-3.9 3.9zM-15.6 11.7l3.9 -3.9l3.9 3.9l-3.9 3.9zM-7.8 11.7l3.9 -3.9l3.9 3.9l-3.9 3.9zM0 11.7l3.9 -3.9l3.9 3.9l-3.9 3.9zM7.8 11.7l3.9 -3.9l3.9 3.9l-3.9 3.9z" fill="#5fb0ab"/>
<path transform="translate(1020.9 637.8) rotate(-18)" d="M-11.7 -11.7l3.9 -3.9l3.9 3.9l-3.9 3.9zM-3.9 -11.7l3.9 -3.9l3.9 3.9l-3.9 3.9zM3.9 -11.7l3.9 -3.9l3.9 3.9l-3.9 3.9zM-11.7 -3.9l3.9 -3.9l3.9 3.9l-3.9 3.9zM-3.9 -3.9l3.9 -3.9l3.9 3.9l-3.9 3.9zM3.9 -3.9l3.9 -3.9l3.9 3.9l-3.9 3.9zM-11.7 3.9l3.9 -3.9l3.9 3.9l-3.9 3.9zM-3.9 3.9l3.9 -3.9l3.9 3.9l-3.9 3.9zM3.9 3.9l3.9 -3.9l3.9 3.9l-3.9 3.9zM-11.7 11.7l3.9 -3.9l3.9 3.9l-3.9 3.9zM-3.9 11.7l3.9 -3.9l3.9 3.9l-3.9 3.9zM3.9 11.7l3.9 -3.9l3.9 3.9l-3.9 3.9z" fill="#5fb0ab"/>
<path transform="translate(1072 641) rotate(38)" d="M-7.8 -15.6l3.9 -3.9l3.9 3.9l-3.9 3.9zM0 -15.6l3.9 -3.9l3.9 3.9l-3.9 3.9zM-7.8 -7.8l3.9 -3.9l3.9 3.9l-3.9 3.9zM0 -7.8l3.9 -3.9l3.9 3.9l-3.9 3.9zM-7.8 0l3.9 -3.9l3.9 3.9l-3.9 3.9zM0 0l3.9 -3.9l3.9 3.9l-3.9 3.9zM-7.8 7.8l3.9 -3.9l3.9 3.9l-3.9 3.9zM0 7.8l3.9 -3.9l3.9 3.9l-3.9 3.9zM-7.8 15.6l3.9 -3.9l3.9 3.9l-3.9 3.9zM0 15.6l3.9 -3.9l3.9 3.9l-3.9 3.9z" fill="#6283c4"/>
<path transform="translate(1089.9 652.3) rotate(38)" d="M-11.7 -11.7l3.9 -3.9l3.9 3.9l-3.9 3.9zM-3.9 -11.7l3.9 -3.9l3.9 3.9l-3.9 3.9zM3.9 -11.7l3.9 -3.9l3.9 3.9l-3.9 3.9zM-11.7 -3.9l3.9 -3.9l3.9 3.9l-3.9 3.9zM-3.9 -3.9l3.9 -3.9l3.9 3.9l-3.9 3.9zM3.9 -3.9l3.9 -3.9l3.9 3.9l-3.9 3.9zM-11.7 3.9l3.9 -3.9l3.9 3.9l-3.9 3.9zM-3.9 3.9l3.9 -3.9l3.9 3.9l-3.9 3.9zM3.9 3.9l3.9 -3.9l3.9 3.9l-3.9 3.9zM-11.7 11.7l3.9 -3.9l3.9 3.9l-3.9 3.9zM-3.9 11.7l3.9 -3.9l3.9 3.9l-3.9 3.9zM3.9 11.7l3.9 -3.9l3.9 3.9l-3.9 3.9z" fill="#6283c4"/>
<path transform="translate(1128.5 642.8) rotate(-15.6)" d="M-19.5 -23.4l3.9 -3.9l3.9 3.9l-3.9 3.9zM-11.7 -23.4l3.9 -3.9l3.9 3.9l-3.9 3.9zM-3.9 -23.4l3.9 -3.9l3.9 3.9l-3.9 3.9zM3.9 -23.4l3.9 -3.9l3.9 3.9l-3.9 3.9zM11.7 -23.4l3.9 -3.9l3.9 3.9l-3.9 3.9zM-19.5 -15.6l3.9 -3.9l3.9 3.9l-3.9 3.9zM-11.7 -15.6l3.9 -3.9l3.9 3.9l-3.9 3.9zM-3.9 -15.6l3.9 -3.9l3.9 3.9l-3.9 3.9zM3.9 -15.6l3.9 -3.9l3.9 3.9l-3.9 3.9zM11.7 -15.6l3.9 -3.9l3.9 3.9l-3.9 3.9zM-19.5 -7.8l3.9 -3.9l3.9 3.9l-3.9 3.9zM-11.7 -7.8l3.9 -3.9l3.9 3.9l-3.9 3.9zM-3.9 -7.8l3.9 -3.9l3.9 3.9l-3.9 3.9zM3.9 -7.8l3.9 -3.9l3.9 3.9l-3.9 3.9zM11.7 -7.8l3.9 -3.9l3.9 3.9l-3.9 3.9zM-19.5 0l3.9 -3.9l3.9 3.9l-3.9 3.9zM-11.7 0l3.9 -3.9l3.9 3.9l-3.9 3.9zM-3.9 0l3.9 -3.9l3.9 3.9l-3.9 3.9zM3.9 0l3.9 -3.9l3.9 3.9l-3.9 3.9zM11.7 0l3.9 -3.9l3.9 3.9l-3.9 3.9zM-19.5 7.8l3.9 -3.9l3.9 3.9l-3.9 3.9zM-11.7 7.8l3.9 -3.9l3.9 3.9l-3.9 3.9zM-3.9 7.8l3.9 -3.9l3.9 3.9l-3.9 3.9zM3.9 7.8l3.9 -3.9l3.9 3.9l-3.9 3.9zM11.7 7.8l3.9 -3.9l3.9 3.9l-3.9 3.9zM-19.5 15.6l3.9 -3.9l3.9 3.9l-3.9 3.9zM-11.7 15.6l3.9 -3.9l3.9 3.9l-3.9 3.9zM-3.9 15.6l3.9 -3.9l3.9 3.9l-3.9 3.9zM3.9 15.6l3.9 -3.9l3.9 3.9l-3.9 3.9zM11.7 15.6l3.9 -3.9l3.9 3.9l-3.9 3.9zM-19.5 23.4l3.9 -3.9l3.9 3.9l-3.9 3.9zM-11.7 23.4l3.9 -3.9l3.9 3.9l-3.9 3.9zM-3.9 23.4l3.9 -3.9l3.9 3.9l-3.9 3.9zM3.9 23.4l3.9 -3.9l3.9 3.9l-3.9 3.9zM11.7 23.4l3.9 -3.9l3.9 3.9l-3.9 3.9z" fill="#5ca871"/>
<path transform="translate(1016.7 679.9) rotate(-15)" d="M-39 -3.9l3.9 -3.9l3.9 3.9l-3.9 3.9zM-31.2 -3.9l3.9 -3.9l3.9 3.9l-3.9 3.9zM-23.4 -3.9l3.9 -3.9l3.9 3.9l-3.9 3.9zM-15.6 -3.9l3.9 -3.9l3.9 3.9l-3.9 3.9zM-7.8 -3.9l3.9 -3.9l3.9 3.9l-3.9 3.9zM-0 -3.9l3.9 -3.9l3.9 3.9l-3.9 3.9zM7.8 -3.9l3.9 -3.9l3.9 3.9l-3.9 3.9zM15.6 -3.9l3.9 -3.9l3.9 3.9l-3.9 3.9zM23.4 -3.9l3.9 -3.9l3.9 3.9l-3.9 3.9zM31.2 -3.9l3.9 -3.9l3.9 3.9l-3.9 3.9zM-39 3.9l3.9 -3.9l3.9 3.9l-3.9 3.9zM-31.2 3.9l3.9 -3.9l3.9 3.9l-3.9 3.9zM-23.4 3.9l3.9 -3.9l3.9 3.9l-3.9 3.9zM-15.6 3.9l3.9 -3.9l3.9 3.9l-3.9 3.9zM-7.8 3.9l3.9 -3.9l3.9 3.9l-3.9 3.9zM-0 3.9l3.9 -3.9l3.9 3.9l-3.9 3.9zM7.8 3.9l3.9 -3.9l3.9 3.9l-3.9 3.9zM15.6 3.9l3.9 -3.9l3.9 3.9l-3.9 3.9zM23.4 3.9l3.9 -3.9l3.9 3.9l-3.9 3.9zM31.2 3.9l3.9 -3.9l3.9 3.9l-3.9 3.9z" fill="#6283c4"/>
<path transform="translate(1021.8 700.5) rotate(-15)" d="M-39 -3.9l3.9 -3.9l3.9 3.9l-3.9 3.9zM-31.2 -3.9l3.9 -3.9l3.9 3.9l-3.9 3.9zM-23.4 -3.9l3.9 -3.9l3.9 3.9l-3.9 3.9zM-15.6 -3.9l3.9 -3.9l3.9 3.9l-3.9 3.9zM-7.8 -3.9l3.9 -3.9l3.9 3.9l-3.9 3.9zM-0 -3.9l3.9 -3.9l3.9 3.9l-3.9 3.9zM7.8 -3.9l3.9 -3.9l3.9 3.9l-3.9 3.9zM15.6 -3.9l3.9 -3.9l3.9 3.9l-3.9 3.9zM23.4 -3.9l3.9 -3.9l3.9 3.9l-3.9 3.9zM31.2 -3.9l3.9 -3.9l3.9 3.9l-3.9 3.9zM-39 3.9l3.9 -3.9l3.9 3.9l-3.9 3.9zM-31.2 3.9l3.9 -3.9l3.9 3.9l-3.9 3.9zM-23.4 3.9l3.9 -3.9l3.9 3.9l-3.9 3.9zM-15.6 3.9l3.9 -3.9l3.9 3.9l-3.9 3.9zM-7.8 3.9l3.9 -3.9l3.9 3.9l-3.9 3.9zM-0 3.9l3.9 -3.9l3.9 3.9l-3.9 3.9zM7.8 3.9l3.9 -3.9l3.9 3.9l-3.9 3.9zM15.6 3.9l3.9 -3.9l3.9 3.9l-3.9 3.9zM23.4 3.9l3.9 -3.9l3.9 3.9l-3.9 3.9zM31.2 3.9l3.9 -3.9l3.9 3.9l-3.9 3.9z" fill="#6283c4"/>
<path transform="translate(1089.3 684.7) rotate(13)" d="M-19.5 -3.9l3.9 -3.9l3.9 3.9l-3.9 3.9zM-11.7 -3.9l3.9 -3.9l3.9 3.9l-3.9 3.9zM-3.9 -3.9l3.9 -3.9l3.9 3.9l-3.9 3.9zM3.9 -3.9l3.9 -3.9l3.9 3.9l-3.9 3.9zM11.7 -3.9l3.9 -3.9l3.9 3.9l-3.9 3.9zM-19.5 3.9l3.9 -3.9l3.9 3.9l-3.9 3.9zM-11.7 3.9l3.9 -3.9l3.9 3.9l-3.9 3.9zM-3.9 3.9l3.9 -3.9l3.9 3.9l-3.9 3.9zM3.9 3.9l3.9 -3.9l3.9 3.9l-3.9 3.9zM11.7 3.9l3.9 -3.9l3.9 3.9l-3.9 3.9z" fill="#9a80c6"/>
<path transform="translate(1082.5 706.4) rotate(13)" d="M-19.5 -3.9l3.9 -3.9l3.9 3.9l-3.9 3.9zM-11.7 -3.9l3.9 -3.9l3.9 3.9l-3.9 3.9zM-3.9 -3.9l3.9 -3.9l3.9 3.9l-3.9 3.9zM3.9 -3.9l3.9 -3.9l3.9 3.9l-3.9 3.9zM11.7 -3.9l3.9 -3.9l3.9 3.9l-3.9 3.9zM-19.5 3.9l3.9 -3.9l3.9 3.9l-3.9 3.9zM-11.7 3.9l3.9 -3.9l3.9 3.9l-3.9 3.9zM-3.9 3.9l3.9 -3.9l3.9 3.9l-3.9 3.9zM3.9 3.9l3.9 -3.9l3.9 3.9l-3.9 3.9zM11.7 3.9l3.9 -3.9l3.9 3.9l-3.9 3.9z" fill="#9a80c6"/>
<path transform="translate(1130.9 683.2) rotate(-16)" d="M-15.6 -3.9l3.9 -3.9l3.9 3.9l-3.9 3.9zM-7.8 -3.9l3.9 -3.9l3.9 3.9l-3.9 3.9zM0 -3.9l3.9 -3.9l3.9 3.9l-3.9 3.9zM7.8 -3.9l3.9 -3.9l3.9 3.9l-3.9 3.9zM-15.6 3.9l3.9 -3.9l3.9 3.9l-3.9 3.9zM-7.8 3.9l3.9 -3.9l3.9 3.9l-3.9 3.9zM0 3.9l3.9 -3.9l3.9 3.9l-3.9 3.9zM7.8 3.9l3.9 -3.9l3.9 3.9l-3.9 3.9z" fill="#6283c4"/>
<path transform="translate(1142.2 700.8) rotate(-16)" d="M-19.5 -3.9l3.9 -3.9l3.9 3.9l-3.9 3.9zM-11.7 -3.9l3.9 -3.9l3.9 3.9l-3.9 3.9zM-3.9 -3.9l3.9 -3.9l3.9 3.9l-3.9 3.9zM3.9 -3.9l3.9 -3.9l3.9 3.9l-3.9 3.9zM11.7 -3.9l3.9 -3.9l3.9 3.9l-3.9 3.9zM-19.5 3.9l3.9 -3.9l3.9 3.9l-3.9 3.9zM-11.7 3.9l3.9 -3.9l3.9 3.9l-3.9 3.9zM-3.9 3.9l3.9 -3.9l3.9 3.9l-3.9 3.9zM3.9 3.9l3.9 -3.9l3.9 3.9l-3.9 3.9zM11.7 3.9l3.9 -3.9l3.9 3.9l-3.9 3.9z" fill="#6283c4"/>
<g fill="none" stroke="#a6a6a6" stroke-width="0.5" opacity="0.8"><circle cx="972.1" cy="682" r="1.25"/><circle cx="982.8" cy="679.1" r="1.25"/><circle cx="990" cy="677.9" r="1.25"/><circle cx="997.1" cy="676.1" r="1.25"/><circle cx="1006" cy="674.3" r="1.25"/><circle cx="1013.8" cy="672.5" r="1.25"/><circle cx="1022.1" cy="669.6" r="1.25"/><circle cx="1029.2" cy="668.4" r="1.25"/><circle cx="1036.3" cy="666" r="1.25"/><circle cx="1045.3" cy="664.2" r="1.25"/><circle cx="976.9" cy="643.4" r="1.25"/><circle cx="979.3" cy="650.5" r="1.25"/><circle cx="981.1" cy="657.7" r="1.25"/><circle cx="984" cy="664.2" r="1.25"/><circle cx="985.8" cy="670.7" r="1.25"/><circle cx="1003" cy="632.7" r="1.25"/><circle cx="1005.4" cy="639.2" r="1.25"/><circle cx="1007.2" cy="645.8" r="1.25"/><circle cx="1009.6" cy="652.3" r="1.25"/><circle cx="1011.4" cy="658.9" r="1.25"/><circle cx="1013.2" cy="664.2" r="1.25"/><circle cx="1030.4" cy="625.6" r="1.25"/><circle cx="1032.8" cy="632.1" r="1.25"/><circle cx="1034.6" cy="638.6" r="1.25"/><circle cx="1036.9" cy="645.8" r="1.25"/><circle cx="1039.3" cy="652.9" r="1.25"/><circle cx="979.3" cy="699.9" r="1.25"/><circle cx="986.4" cy="697.5" r="1.25"/><circle cx="994.7" cy="695.1" r="1.25"/><circle cx="1003" cy="693.9" r="1.25"/><circle cx="1011.4" cy="692.2" r="1.25"/><circle cx="1018.5" cy="690.4" r="1.25"/><circle cx="1026.8" cy="687.4" r="1.25"/><circle cx="1034.6" cy="685" r="1.25"/><circle cx="1042.3" cy="683.8" r="1.25"/><circle cx="1050" cy="682" r="1.25"/><circle cx="984" cy="717.7" r="1.25"/><circle cx="992.3" cy="715.3" r="1.25"/><circle cx="1000.7" cy="713" r="1.25"/><circle cx="1008.4" cy="711.2" r="1.25"/><circle cx="1016.1" cy="710" r="1.25"/><circle cx="1023.3" cy="707.6" r="1.25"/><circle cx="1031.6" cy="705.2" r="1.25"/><circle cx="1039.9" cy="703.4" r="1.25"/><circle cx="1047.6" cy="701.7" r="1.25"/><circle cx="1055.4" cy="700.5" r="1.25"/><circle cx="1070.8" cy="626.2" r="1.25"/><circle cx="1066.1" cy="632.1" r="1.25"/><circle cx="1061.3" cy="638" r="1.25"/><circle cx="1056" cy="643.4" r="1.25"/><circle cx="1051.8" cy="649.3" r="1.25"/><circle cx="1074.4" cy="655.9" r="1.25"/><circle cx="1069" cy="661.2" r="1.25"/><circle cx="1088.7" cy="636.9" r="1.25"/><circle cx="1085.1" cy="641.6" r="1.25"/><circle cx="1081.5" cy="645.8" r="1.25"/><circle cx="1078" cy="649.9" r="1.25"/><circle cx="1091" cy="667.2" r="1.25"/><circle cx="1095.8" cy="660.6" r="1.25"/><circle cx="1100.6" cy="655.3" r="1.25"/><circle cx="1104.1" cy="648.8" r="1.25"/><circle cx="1071.4" cy="672.5" r="1.25"/><circle cx="1079.1" cy="674.3" r="1.25"/><circle cx="1086.3" cy="673.1" r="1.25"/><circle cx="1094.6" cy="678.5" r="1.25"/><circle cx="1102.9" cy="680.3" r="1.25"/><circle cx="1108.3" cy="680.9" r="1.25"/><circle cx="1067.3" cy="684.4" r="1.25"/><circle cx="1074.4" cy="687.4" r="1.25"/><circle cx="1082.7" cy="688.6" r="1.25"/><circle cx="1091" cy="690.4" r="1.25"/><circle cx="1098.2" cy="691.6" r="1.25"/><circle cx="1064.9" cy="695.1" r="1.25"/><circle cx="1072" cy="696.9" r="1.25"/><circle cx="1079.1" cy="698.1" r="1.25"/><circle cx="1086.3" cy="699.3" r="1.25"/><circle cx="1092.8" cy="701.1" r="1.25"/><circle cx="1099.4" cy="704.6" r="1.25"/><circle cx="1060.1" cy="707" r="1.25"/><circle cx="1068.4" cy="708.8" r="1.25"/><circle cx="1076.8" cy="710.6" r="1.25"/><circle cx="1083.9" cy="713" r="1.25"/><circle cx="1091.6" cy="714.7" r="1.25"/><circle cx="1116.6" cy="678.5" r="1.25"/><circle cx="1132.1" cy="674.3" r="1.25"/><circle cx="1140.4" cy="671.9" r="1.25"/><circle cx="1113.6" cy="698.1" r="1.25"/><circle cx="1118.4" cy="696.3" r="1.25"/><circle cx="1126.7" cy="694.5" r="1.25"/><circle cx="1135" cy="692.2" r="1.25"/><circle cx="1142.2" cy="691" r="1.25"/><circle cx="1150.5" cy="688.6" r="1.25"/><circle cx="1124.9" cy="714.7" r="1.25"/><circle cx="1133.8" cy="711.8" r="1.25"/><circle cx="1142.2" cy="710.6" r="1.25"/><circle cx="1149.3" cy="708.2" r="1.25"/><circle cx="1157" cy="707" r="1.25"/><circle cx="1119.6" cy="608.9" r="1.25"/><circle cx="1142.2" cy="611.3" r="1.25"/></g>
<g stroke="rgb(195,35,45)" stroke-width="3.0" fill="none" stroke-linecap="butt" stroke-linejoin="miter" stroke-opacity="0.52"><path d="M1023.9 657.1 L1011.3 625.2"/><path d="M1019.6 629.5 L1010.8 623.8 L1008.2 633.9"/></g>
<g stroke="rgb(195,35,45)" stroke-width="3.0" fill="none" stroke-linecap="butt" stroke-linejoin="miter" stroke-opacity="0.52"><path d="M1060.7 655.3 L1081.2 629.1"/><path d="M1081.7 638.4 L1082.1 627.9 L1072.1 630.9"/></g>
<g stroke="rgb(195,35,45)" stroke-width="3.0" fill="none" stroke-linecap="butt" stroke-linejoin="miter" stroke-opacity="0.52"><path d="M979.3 691.6 L1048 671.8"/><path d="M1043 679.6 L1049.4 671.3 L1039.6 667.8"/></g>
<g stroke="rgb(195,35,45)" stroke-width="3.0" fill="none" stroke-linecap="butt" stroke-linejoin="miter" stroke-opacity="0.52"><path d="M1104.1 699.3 L1066.9 687.8"/><path d="M1075.4 684 L1065.5 687.4 L1071.8 695.7"/></g>
<g stroke="rgb(195,35,45)" stroke-width="3.0" fill="none" stroke-linecap="butt" stroke-linejoin="miter" stroke-opacity="0.52"><path d="M1122 706.4 L1160.4 695"/><path d="M1155.4 702.8 L1161.8 694.5 L1151.9 691.1"/></g>
<g clip-path="url(#clipE)">
<circle cx="711.6" cy="631.5" r="6" fill="url(#g_red)"/><circle cx="726" cy="647.2" r="6" fill="url(#g_red)"/><circle cx="743.2" cy="667.6" r="6" fill="url(#g_red)"/><circle cx="760" cy="673.6" r="6" fill="url(#g_red)"/><circle cx="787.5" cy="689" r="6" fill="url(#g_red)"/><circle cx="807.6" cy="699.7" r="6" fill="url(#g_red)"/><circle cx="838.3" cy="709.6" r="6" fill="url(#g_red)"/><circle cx="862.2" cy="716.8" r="6" fill="url(#g_red)"/><circle cx="896.2" cy="725" r="6" fill="url(#g_red)"/><circle cx="930.3" cy="728.6" r="6" fill="url(#g_red)"/><circle cx="971.3" cy="730" r="6" fill="url(#g_red)"/><circle cx="1012" cy="727.9" r="6" fill="url(#g_red)"/><circle cx="1059.6" cy="733.3" r="6" fill="url(#g_red)"/><circle cx="1110.6" cy="735.5" r="6" fill="url(#g_red)"/>
<circle cx="710.7" cy="971" r="6" fill="url(#g_green)"/><circle cx="722.6" cy="942.1" r="6" fill="url(#g_green)"/><circle cx="739.8" cy="897.8" r="6" fill="url(#g_green)"/><circle cx="756.7" cy="871.5" r="6" fill="url(#g_green)"/><circle cx="773.8" cy="857.4" r="6" fill="url(#g_green)"/><circle cx="791" cy="850" r="6" fill="url(#g_green)"/><circle cx="818.1" cy="828.6" r="6" fill="url(#g_green)"/><circle cx="838.6" cy="806.5" r="6" fill="url(#g_green)"/><circle cx="869.3" cy="776" r="6" fill="url(#g_green)"/><circle cx="892.6" cy="765.5" r="6" fill="url(#g_green)"/><circle cx="926.7" cy="758" r="6" fill="url(#g_green)"/><circle cx="960.8" cy="756" r="6" fill="url(#g_green)"/><circle cx="1001.7" cy="752.6" r="6" fill="url(#g_green)"/><circle cx="1042.5" cy="758.3" r="6" fill="url(#g_green)"/><circle cx="1090.3" cy="751.7" r="6" fill="url(#g_green)"/><circle cx="1141.7" cy="753.2" r="6" fill="url(#g_green)"/>
<circle cx="710.7" cy="866" r="6" fill="url(#g_blue)"/><circle cx="725.9" cy="833.3" r="6" fill="url(#g_blue)"/><circle cx="743.1" cy="822.8" r="6" fill="url(#g_blue)"/><circle cx="760" cy="820.9" r="6" fill="url(#g_blue)"/><circle cx="787.7" cy="824.2" r="6" fill="url(#g_blue)"/><circle cx="807.6" cy="833.3" r="6" fill="url(#g_blue)"/><circle cx="838.6" cy="849.1" r="6" fill="url(#g_blue)"/><circle cx="862.4" cy="862.4" r="6" fill="url(#g_blue)"/><circle cx="896.4" cy="869.3" r="6" fill="url(#g_blue)"/><circle cx="930.4" cy="872.1" r="6" fill="url(#g_blue)"/><circle cx="971.3" cy="873.5" r="6" fill="url(#g_blue)"/><circle cx="1012" cy="868.5" r="6" fill="url(#g_blue)"/><circle cx="1059.9" cy="872.6" r="6" fill="url(#g_blue)"/><circle cx="1110.6" cy="875.4" r="6" fill="url(#g_blue)"/>
<circle cx="710.7" cy="869.3" r="6" fill="url(#g_purple)"/><circle cx="726.5" cy="872.6" r="6" fill="url(#g_purple)"/><circle cx="743.1" cy="883.2" r="6" fill="url(#g_purple)"/><circle cx="760" cy="889.3" r="6" fill="url(#g_purple)"/><circle cx="787.7" cy="899.8" r="6" fill="url(#g_purple)"/><circle cx="807.6" cy="909.5" r="6" fill="url(#g_purple)"/><circle cx="838.6" cy="914.4" r="6" fill="url(#g_purple)"/><circle cx="862.4" cy="921.9" r="6" fill="url(#g_purple)"/><circle cx="896.4" cy="924.1" r="6" fill="url(#g_purple)"/><circle cx="930.4" cy="926.9" r="6" fill="url(#g_purple)"/><circle cx="971.3" cy="926.9" r="6" fill="url(#g_purple)"/><circle cx="1012" cy="928" r="6" fill="url(#g_purple)"/><circle cx="1059.9" cy="928.8" r="6" fill="url(#g_purple)"/><circle cx="1110.6" cy="930.8" r="6" fill="url(#g_purple)"/>
</g>
<path d="M711.6 632.4 L726.6 650.5 L744.7 668.6 L762.7 680.3 L780.8 689.3 L798.9 697.5 L817 703.8 L835 708.9 L853.2 713.2 L871.2 716.8 L889.3 720 L916.2 725.5 L952.3 729.1 L1006.6 732.4 L1060.8 734.2 L1109.7 735" fill="none" stroke="#1a0f0f" stroke-width="2.1" stroke-linejoin="round"/>
<path d="M711.5 973.7 L722.6 945.5 L734.3 919.9 L739.4 907.9 L756 881.1 L773.1 858.2 L790.2 837.7 L817.6 814.3 L838.8 800.6 L862.9 787.7 L880 780.8 L900 772.5 L921.5 765.8 L961.4 759 L1006.6 754.4 L1060.8 750.8 L1097 749.4 L1141.7 748.5" fill="none" stroke="#1a0f0f" stroke-width="2.1" stroke-linejoin="round"/>
<path d="M711.4 863.4 L726.3 833.1 L743.4 820.6 L760.5 820 L787.9 829.1 L807.4 837.1 L838.2 849.7 L862.4 857.4 L880 860.5 L907.7 866.6 L963 872.1 L1018.4 874.3 L1110.6 875.7" fill="none" stroke="#1a0f0f" stroke-width="2.1" stroke-linejoin="round"/>
<path d="M711.4 866.2 L726.3 875.4 L743.4 885.1 L760.5 891.4 L787.9 901.1 L807.4 907.4 L838.2 914.2 L862.4 918.3 L880 920.3 L935.4 926 L990.7 928.8 L1110.6 931.6" fill="none" stroke="#1a0f0f" stroke-width="2.1" stroke-linejoin="round"/>
<line x1="711.5" y1="606.2" x2="1167.6" y2="606.2" stroke="#857a7a" stroke-width="1.6"/>
<line x1="711.5" y1="605.4" x2="711.5" y2="974.5" stroke="#2a1c1c" stroke-width="1.4"/>
<line x1="711.5" y1="973.7" x2="1168.3" y2="973.7" stroke="#2a1c1c" stroke-width="1.5"/>
<line x1="1167.6" y1="606.2" x2="1167.6" y2="973.7" stroke="#3a3030" stroke-width="1.5"/>
<line x1="711.5" y1="881.8" x2="716.9" y2="881.8" stroke="#1a0f0f" stroke-width="3.3"/>
<line x1="711.5" y1="789.6" x2="716.9" y2="789.6" stroke="#1a0f0f" stroke-width="3.3"/>
<line x1="711.5" y1="697.5" x2="716.9" y2="697.5" stroke="#1a0f0f" stroke-width="3.3"/>
<line x1="711.5" y1="927.8" x2="713.9" y2="927.8" stroke="#1a0f0f" stroke-width="3.0"/>
<line x1="711.5" y1="835.7" x2="713.9" y2="835.7" stroke="#1a0f0f" stroke-width="3.0"/>
<line x1="711.5" y1="743.5" x2="713.9" y2="743.5" stroke="#1a0f0f" stroke-width="3.0"/>
<line x1="711.5" y1="651.4" x2="713.9" y2="651.4" stroke="#1a0f0f" stroke-width="3.0"/>
<line x1="836.8" y1="973.7" x2="836.8" y2="967.9" stroke="#1a0f0f" stroke-width="3.3"/>
<line x1="964.4" y1="973.7" x2="964.4" y2="967.9" stroke="#1a0f0f" stroke-width="3.3"/>
<line x1="1091.9" y1="973.7" x2="1091.9" y2="967.9" stroke="#1a0f0f" stroke-width="3.3"/>
<line x1="773.1" y1="973.7" x2="773.1" y2="971.3" stroke="#1a0f0f" stroke-width="3.0"/>
<line x1="900.6" y1="973.7" x2="900.6" y2="971.3" stroke="#1a0f0f" stroke-width="3.0"/>
<line x1="1028.2" y1="973.7" x2="1028.2" y2="971.3" stroke="#1a0f0f" stroke-width="3.0"/>
<line x1="1155.7" y1="973.7" x2="1155.7" y2="971.3" stroke="#1a0f0f" stroke-width="3.0"/>
<text x="654.8" y="614.8" font-size="24.5" textLength="47.7" lengthAdjust="spacingAndGlyphs" fill="#231f20" stroke="#231f20">0.04</text>
<text x="654.8" y="706.5" font-size="24.5" textLength="47.7" lengthAdjust="spacingAndGlyphs" fill="#231f20" stroke="#231f20">0.03</text>
<text x="654.8" y="797.5" font-size="24.5" textLength="47.7" lengthAdjust="spacingAndGlyphs" fill="#231f20" stroke="#231f20">0.02</text>
<text x="654.8" y="889.3" font-size="24.5" textLength="47.7" lengthAdjust="spacingAndGlyphs" fill="#231f20" stroke="#231f20">0.01</text>
<text x="654.8" y="980.7" font-size="24.5" textLength="47.7" lengthAdjust="spacingAndGlyphs" fill="#231f20" stroke="#231f20">0.00</text>
<text x="696.3" y="1005.3" font-size="24.5" textLength="32.7" lengthAdjust="spacingAndGlyphs" fill="#231f20" stroke="#231f20">0.0</text>
<text x="822.6" y="1005.3" font-size="24.5" textLength="32.7" lengthAdjust="spacingAndGlyphs" fill="#231f20" stroke="#231f20">0.5</text>
<text x="949.7" y="1005.3" font-size="24.5" textLength="32.7" lengthAdjust="spacingAndGlyphs" fill="#231f20" stroke="#231f20">1.0</text>
<text x="1076" y="1005.3" font-size="24.5" textLength="32.7" lengthAdjust="spacingAndGlyphs" fill="#231f20" stroke="#231f20">1.5</text>
<text x="880" y="1043.6" font-size="24.5" textLength="119" lengthAdjust="spacingAndGlyphs" fill="#231f20" stroke="#231f20">Delay (ps)</text>
<text font-size="24.5" textLength="70" lengthAdjust="spacingAndGlyphs" transform="translate(634.8 826.7) rotate(-90)" fill="#231f20" stroke="#231f20" font-style="italic"><tspan font-weight="normal" font-style="normal" stroke="none">Δ</tspan>T / T</text>
<text x="769.4" y="650.1" font-size="24.5" textLength="72.9" lengthAdjust="spacingAndGlyphs" fill="#231f20" stroke="#231f20">DMSO</text>
<circle cx="892.7" cy="618.5" r="5.9" fill="url(#g_red)"/>
<text x="908.9" y="623.4" font-size="16.4" textLength="36.6" lengthAdjust="spacingAndGlyphs" fill="#231f20"><tspan font-style="italic">n</tspan> = 2</text>
<circle cx="892.7" cy="642.9" r="5.9" fill="url(#g_purple)"/>
<text x="908.9" y="647.8" font-size="16.4" textLength="36.6" lengthAdjust="spacingAndGlyphs" fill="#231f20"><tspan font-style="italic">n</tspan> = 3</text>
<circle cx="892.7" cy="667.3" r="5.9" fill="url(#g_blue)"/>
<text x="908.9" y="672.2" font-size="16.4" textLength="36.6" lengthAdjust="spacingAndGlyphs" fill="#231f20"><tspan font-style="italic">n</tspan> ≥ 3</text>
<circle cx="892.7" cy="691.7" r="5.9" fill="url(#g_green)"/>
<text x="908.3" y="697.5" font-size="15" textLength="20.4" lengthAdjust="spacingAndGlyphs" fill="#231f20" stroke="#231f20">3D</text>
<text x="612.3" y="611.4" font-size="42" fill="#231f20" stroke="#231f20">e</text>
<g transform="translate(1393.5 641.4) rotate(-6.5)"><path d="M-29 -11.6l5.8 -5.8l5.8 5.8l-5.8 5.8zM-17.4 -11.6l5.8 -5.8l5.8 5.8l-5.8 5.8zM-5.8 -11.6l5.8 -5.8l5.8 5.8l-5.8 5.8zM5.8 -11.6l5.8 -5.8l5.8 5.8l-5.8 5.8zM17.4 -11.6l5.8 -5.8l5.8 5.8l-5.8 5.8zM-29 0l5.8 -5.8l5.8 5.8l-5.8 5.8zM-17.4 0l5.8 -5.8l5.8 5.8l-5.8 5.8zM-5.8 0l5.8 -5.8l5.8 5.8l-5.8 5.8zM5.8 0l5.8 -5.8l5.8 5.8l-5.8 5.8zM17.4 0l5.8 -5.8l5.8 5.8l-5.8 5.8zM-29 11.6l5.8 -5.8l5.8 5.8l-5.8 5.8zM-17.4 11.6l5.8 -5.8l5.8 5.8l-5.8 5.8zM-5.8 11.6l5.8 -5.8l5.8 5.8l-5.8 5.8zM5.8 11.6l5.8 -5.8l5.8 5.8l-5.8 5.8zM17.4 11.6l5.8 -5.8l5.8 5.8l-5.8 5.8z" fill="#5fa9a5"/><g fill="none" stroke="#8c8c8c" stroke-width="0.6"><circle cx="-30.2" cy="-20.2" r="2"/><path d="M-29.9 -18.2q1.6 1.4 0.6 2.6q-1 1.2 0.4 2.4"/><circle cx="-22.7" cy="20.2" r="2"/><path d="M-22.4 18.2q1.6 -1.4 0.6 -2.6q-1 -1.2 0.4 -2.4"/><circle cx="-18.6" cy="-20.2" r="2"/><path d="M-18.3 -18.2q1.6 1.4 0.6 2.6q-1 1.2 0.4 2.4"/><circle cx="-11.1" cy="20.2" r="2"/><path d="M-10.8 18.2q1.6 -1.4 0.6 -2.6q-1 -1.2 0.4 -2.4"/><circle cx="-7" cy="-20.2" r="2"/><path d="M-6.7 -18.2q1.6 1.4 0.6 2.6q-1 1.2 0.4 2.4"/><circle cx="0.5" cy="20.2" r="2"/><path d="M0.8 18.2q1.6 -1.4 0.6 -2.6q-1 -1.2 0.4 -2.4"/><circle cx="4.6" cy="-20.2" r="2"/><path d="M4.9 -18.2q1.6 1.4 0.6 2.6q-1 1.2 0.4 2.4"/><circle cx="12.1" cy="20.2" r="2"/><path d="M12.4 18.2q1.6 -1.4 0.6 -2.6q-1 -1.2 0.4 -2.4"/><circle cx="16.2" cy="-20.2" r="2"/><path d="M16.5 -18.2q1.6 1.4 0.6 2.6q-1 1.2 0.4 2.4"/><circle cx="23.7" cy="20.2" r="2"/><path d="M24 18.2q1.6 -1.4 0.6 -2.6q-1 -1.2 0.4 -2.4"/></g></g>
<g transform="translate(1502.7 638) rotate(-3.8)"><path d="M-58.5 -5.8l5.8 -5.8l5.8 5.8l-5.8 5.8zM-46.8 -5.8l5.8 -5.8l5.8 5.8l-5.8 5.8zM-35.1 -5.8l5.8 -5.8l5.8 5.8l-5.8 5.8zM-23.4 -5.8l5.8 -5.8l5.8 5.8l-5.8 5.8zM-11.7 -5.8l5.8 -5.8l5.8 5.8l-5.8 5.8zM0 -5.8l5.8 -5.8l5.8 5.8l-5.8 5.8zM11.7 -5.8l5.8 -5.8l5.8 5.8l-5.8 5.8zM23.4 -5.8l5.8 -5.8l5.8 5.8l-5.8 5.8zM35.1 -5.8l5.8 -5.8l5.8 5.8l-5.8 5.8zM46.8 -5.8l5.8 -5.8l5.8 5.8l-5.8 5.8zM-58.5 5.8l5.8 -5.8l5.8 5.8l-5.8 5.8zM-46.8 5.8l5.8 -5.8l5.8 5.8l-5.8 5.8zM-35.1 5.8l5.8 -5.8l5.8 5.8l-5.8 5.8zM-23.4 5.8l5.8 -5.8l5.8 5.8l-5.8 5.8zM-11.7 5.8l5.8 -5.8l5.8 5.8l-5.8 5.8zM0 5.8l5.8 -5.8l5.8 5.8l-5.8 5.8zM11.7 5.8l5.8 -5.8l5.8 5.8l-5.8 5.8zM23.4 5.8l5.8 -5.8l5.8 5.8l-5.8 5.8zM35.1 5.8l5.8 -5.8l5.8 5.8l-5.8 5.8zM46.8 5.8l5.8 -5.8l5.8 5.8l-5.8 5.8z" fill="#6680ba"/><g fill="none" stroke="#8c8c8c" stroke-width="0.6"><circle cx="-59.6" cy="-14.5" r="2"/><path d="M-59.4 -12.5q1.6 1.4 0.6 2.6q-1 1.2 0.4 2.4"/><circle cx="-52.1" cy="14.5" r="2"/><path d="M-51.9 12.5q1.6 -1.4 0.6 -2.6q-1 -1.2 0.4 -2.4"/><circle cx="-48" cy="-14.5" r="2"/><path d="M-47.7 -12.5q1.6 1.4 0.6 2.6q-1 1.2 0.4 2.4"/><circle cx="-40.5" cy="14.5" r="2"/><path d="M-40.2 12.5q1.6 -1.4 0.6 -2.6q-1 -1.2 0.4 -2.4"/><circle cx="-36.2" cy="-14.5" r="2"/><path d="M-36 -12.5q1.6 1.4 0.6 2.6q-1 1.2 0.4 2.4"/><circle cx="-28.8" cy="14.5" r="2"/><path d="M-28.4 12.5q1.6 -1.4 0.6 -2.6q-1 -1.2 0.4 -2.4"/><circle cx="-24.6" cy="-14.5" r="2"/><path d="M-24.3 -12.5q1.6 1.4 0.6 2.6q-1 1.2 0.4 2.4"/><circle cx="-17.1" cy="14.5" r="2"/><path d="M-16.8 12.5q1.6 -1.4 0.6 -2.6q-1 -1.2 0.4 -2.4"/><circle cx="-12.9" cy="-14.5" r="2"/><path d="M-12.6 -12.5q1.6 1.4 0.6 2.6q-1 1.2 0.4 2.4"/><circle cx="-5.4" cy="14.5" r="2"/><path d="M-5.1 12.5q1.6 -1.4 0.6 -2.6q-1 -1.2 0.4 -2.4"/><circle cx="-1.1" cy="-14.5" r="2"/><path d="M-0.8 -12.5q1.6 1.4 0.6 2.6q-1 1.2 0.4 2.4"/><circle cx="6.4" cy="14.5" r="2"/><path d="M6.7 12.5q1.6 -1.4 0.6 -2.6q-1 -1.2 0.4 -2.4"/><circle cx="10.5" cy="-14.5" r="2"/><path d="M10.8 -12.5q1.6 1.4 0.6 2.6q-1 1.2 0.4 2.4"/><circle cx="18" cy="14.5" r="2"/><path d="M18.3 12.5q1.6 -1.4 0.6 -2.6q-1 -1.2 0.4 -2.4"/><circle cx="22.2" cy="-14.5" r="2"/><path d="M22.5 -12.5q1.6 1.4 0.6 2.6q-1 1.2 0.4 2.4"/><circle cx="29.7" cy="14.5" r="2"/><path d="M30 12.5q1.6 -1.4 0.6 -2.6q-1 -1.2 0.4 -2.4"/><circle cx="33.9" cy="-14.5" r="2"/><path d="M34.2 -12.5q1.6 1.4 0.6 2.6q-1 1.2 0.4 2.4"/><circle cx="41.4" cy="14.5" r="2"/><path d="M41.7 12.5q1.6 -1.4 0.6 -2.6q-1 -1.2 0.4 -2.4"/><circle cx="45.6" cy="-14.5" r="2"/><path d="M45.9 -12.5q1.6 1.4 0.6 2.6q-1 1.2 0.4 2.4"/><circle cx="53.1" cy="14.5" r="2"/><path d="M53.4 12.5q1.6 -1.4 0.6 -2.6q-1 -1.2 0.4 -2.4"/></g></g>
<g transform="translate(1432.1 681.5) rotate(0)"><path d="M-58.3 -5.8l5.8 -5.8l5.8 5.8l-5.8 5.8zM-46.6 -5.8l5.8 -5.8l5.8 5.8l-5.8 5.8zM-35 -5.8l5.8 -5.8l5.8 5.8l-5.8 5.8zM-23.3 -5.8l5.8 -5.8l5.8 5.8l-5.8 5.8zM-11.7 -5.8l5.8 -5.8l5.8 5.8l-5.8 5.8zM-0 -5.8l5.8 -5.8l5.8 5.8l-5.8 5.8zM11.7 -5.8l5.8 -5.8l5.8 5.8l-5.8 5.8zM23.3 -5.8l5.8 -5.8l5.8 5.8l-5.8 5.8zM35 -5.8l5.8 -5.8l5.8 5.8l-5.8 5.8zM46.6 -5.8l5.8 -5.8l5.8 5.8l-5.8 5.8zM-58.3 5.8l5.8 -5.8l5.8 5.8l-5.8 5.8zM-46.6 5.8l5.8 -5.8l5.8 5.8l-5.8 5.8zM-35 5.8l5.8 -5.8l5.8 5.8l-5.8 5.8zM-23.3 5.8l5.8 -5.8l5.8 5.8l-5.8 5.8zM-11.7 5.8l5.8 -5.8l5.8 5.8l-5.8 5.8zM-0 5.8l5.8 -5.8l5.8 5.8l-5.8 5.8zM11.7 5.8l5.8 -5.8l5.8 5.8l-5.8 5.8zM23.3 5.8l5.8 -5.8l5.8 5.8l-5.8 5.8zM35 5.8l5.8 -5.8l5.8 5.8l-5.8 5.8zM46.6 5.8l5.8 -5.8l5.8 5.8l-5.8 5.8z" fill="#6680ba"/><g fill="none" stroke="#8c8c8c" stroke-width="0.6"><circle cx="-59.5" cy="-14.5" r="2"/><path d="M-59.2 -12.5q1.6 1.4 0.6 2.6q-1 1.2 0.4 2.4"/><circle cx="-52" cy="14.5" r="2"/><path d="M-51.7 12.5q1.6 -1.4 0.6 -2.6q-1 -1.2 0.4 -2.4"/><circle cx="-47.8" cy="-14.5" r="2"/><path d="M-47.5 -12.5q1.6 1.4 0.6 2.6q-1 1.2 0.4 2.4"/><circle cx="-40.3" cy="14.5" r="2"/><path d="M-40 12.5q1.6 -1.4 0.6 -2.6q-1 -1.2 0.4 -2.4"/><circle cx="-36.1" cy="-14.5" r="2"/><path d="M-35.9 -12.5q1.6 1.4 0.6 2.6q-1 1.2 0.4 2.4"/><circle cx="-28.6" cy="14.5" r="2"/><path d="M-28.3 12.5q1.6 -1.4 0.6 -2.6q-1 -1.2 0.4 -2.4"/><circle cx="-24.5" cy="-14.5" r="2"/><path d="M-24.2 -12.5q1.6 1.4 0.6 2.6q-1 1.2 0.4 2.4"/><circle cx="-17" cy="14.5" r="2"/><path d="M-16.7 12.5q1.6 -1.4 0.6 -2.6q-1 -1.2 0.4 -2.4"/><circle cx="-12.8" cy="-14.5" r="2"/><path d="M-12.5 -12.5q1.6 1.4 0.6 2.6q-1 1.2 0.4 2.4"/><circle cx="-5.3" cy="14.5" r="2"/><path d="M-5 12.5q1.6 -1.4 0.6 -2.6q-1 -1.2 0.4 -2.4"/><circle cx="-1.2" cy="-14.5" r="2"/><path d="M-0.9 -12.5q1.6 1.4 0.6 2.6q-1 1.2 0.4 2.4"/><circle cx="6.3" cy="14.5" r="2"/><path d="M6.6 12.5q1.6 -1.4 0.6 -2.6q-1 -1.2 0.4 -2.4"/><circle cx="10.5" cy="-14.5" r="2"/><path d="M10.8 -12.5q1.6 1.4 0.6 2.6q-1 1.2 0.4 2.4"/><circle cx="18" cy="14.5" r="2"/><path d="M18.3 12.5q1.6 -1.4 0.6 -2.6q-1 -1.2 0.4 -2.4"/><circle cx="22.2" cy="-14.5" r="2"/><path d="M22.5 -12.5q1.6 1.4 0.6 2.6q-1 1.2 0.4 2.4"/><circle cx="29.7" cy="14.5" r="2"/><path d="M30 12.5q1.6 -1.4 0.6 -2.6q-1 -1.2 0.4 -2.4"/><circle cx="33.8" cy="-14.5" r="2"/><path d="M34.1 -12.5q1.6 1.4 0.6 2.6q-1 1.2 0.4 2.4"/><circle cx="41.3" cy="14.5" r="2"/><path d="M41.6 12.5q1.6 -1.4 0.6 -2.6q-1 -1.2 0.4 -2.4"/><circle cx="45.5" cy="-14.5" r="2"/><path d="M45.8 -12.5q1.6 1.4 0.6 2.6q-1 1.2 0.4 2.4"/><circle cx="53" cy="14.5" r="2"/><path d="M53.3 12.5q1.6 -1.4 0.6 -2.6q-1 -1.2 0.4 -2.4"/></g></g>
<g transform="translate(1538.1 682) rotate(0)"><path d="M-29.2 -11.7l5.8 -5.8l5.8 5.8l-5.8 5.8zM-17.5 -11.7l5.8 -5.8l5.8 5.8l-5.8 5.8zM-5.8 -11.7l5.8 -5.8l5.8 5.8l-5.8 5.8zM5.8 -11.7l5.8 -5.8l5.8 5.8l-5.8 5.8zM17.5 -11.7l5.8 -5.8l5.8 5.8l-5.8 5.8zM-29.2 0l5.8 -5.8l5.8 5.8l-5.8 5.8zM-17.5 0l5.8 -5.8l5.8 5.8l-5.8 5.8zM-5.8 0l5.8 -5.8l5.8 5.8l-5.8 5.8zM5.8 0l5.8 -5.8l5.8 5.8l-5.8 5.8zM17.5 0l5.8 -5.8l5.8 5.8l-5.8 5.8zM-29.2 11.7l5.8 -5.8l5.8 5.8l-5.8 5.8zM-17.5 11.7l5.8 -5.8l5.8 5.8l-5.8 5.8zM-5.8 11.7l5.8 -5.8l5.8 5.8l-5.8 5.8zM5.8 11.7l5.8 -5.8l5.8 5.8l-5.8 5.8zM17.5 11.7l5.8 -5.8l5.8 5.8l-5.8 5.8z" fill="#5fa9a5"/><g fill="none" stroke="#8c8c8c" stroke-width="0.6"><circle cx="-30.4" cy="-20.3" r="2"/><path d="M-30.1 -18.3q1.6 1.4 0.6 2.6q-1 1.2 0.4 2.4"/><circle cx="-22.9" cy="20.3" r="2"/><path d="M-22.6 18.3q1.6 -1.4 0.6 -2.6q-1 -1.2 0.4 -2.4"/><circle cx="-18.7" cy="-20.3" r="2"/><path d="M-18.4 -18.3q1.6 1.4 0.6 2.6q-1 1.2 0.4 2.4"/><circle cx="-11.2" cy="20.3" r="2"/><path d="M-10.9 18.3q1.6 -1.4 0.6 -2.6q-1 -1.2 0.4 -2.4"/><circle cx="-7" cy="-20.3" r="2"/><path d="M-6.7 -18.3q1.6 1.4 0.6 2.6q-1 1.2 0.4 2.4"/><circle cx="0.5" cy="20.3" r="2"/><path d="M0.8 18.3q1.6 -1.4 0.6 -2.6q-1 -1.2 0.4 -2.4"/><circle cx="4.7" cy="-20.3" r="2"/><path d="M5 -18.3q1.6 1.4 0.6 2.6q-1 1.2 0.4 2.4"/><circle cx="12.2" cy="20.3" r="2"/><path d="M12.5 18.3q1.6 -1.4 0.6 -2.6q-1 -1.2 0.4 -2.4"/><circle cx="16.4" cy="-20.3" r="2"/><path d="M16.7 -18.3q1.6 1.4 0.6 2.6q-1 1.2 0.4 2.4"/><circle cx="23.9" cy="20.3" r="2"/><path d="M24.2 18.3q1.6 -1.4 0.6 -2.6q-1 -1.2 0.4 -2.4"/></g></g>
<g stroke="rgb(195,35,45)" stroke-width="4.8" fill="none" stroke-linecap="round" stroke-linejoin="miter" stroke-opacity="0.52"><path d="M1365.6 641.5 L1423.9 637.6"/><path d="M1410.1 649.1 L1426.3 637.4 L1408.7 628"/></g>
<g stroke="rgb(195,35,45)" stroke-width="4.8" fill="none" stroke-linecap="round" stroke-linejoin="miter" stroke-opacity="0.52"><path d="M1457.6 643 L1548.5 631.5"/><path d="M1535.3 643.8 L1550.8 631.2 L1532.6 622.8"/></g>
<g stroke="rgb(195,35,45)" stroke-width="4.8" fill="none" stroke-linecap="round" stroke-linejoin="miter" stroke-opacity="0.52"><path d="M1380 680.3 L1471.5 680"/><path d="M1456.9 690.6 L1473.9 680 L1456.8 669.5"/></g>
<g stroke="rgb(195,35,45)" stroke-width="4.8" fill="none" stroke-linecap="round" stroke-linejoin="miter" stroke-opacity="0.52"><path d="M1508.9 681.6 L1567.2 680.9"/><path d="M1552.7 691.6 L1569.6 680.8 L1552.5 670.5"/></g>
<g clip-path="url(#clipF)">
<circle cx="1331.5" cy="830.6" r="6" fill="url(#g_red)"/><circle cx="1346.1" cy="832" r="6" fill="url(#g_red)"/><circle cx="1363.3" cy="838.9" r="6" fill="url(#g_red)"/><circle cx="1379.9" cy="848" r="6" fill="url(#g_red)"/><circle cx="1397" cy="847.7" r="6" fill="url(#g_red)"/><circle cx="1424.2" cy="848" r="6" fill="url(#g_red)"/><circle cx="1444.4" cy="860.2" r="6" fill="url(#g_red)"/><circle cx="1471.2" cy="863.2" r="6" fill="url(#g_red)"/><circle cx="1497.7" cy="866" r="6" fill="url(#g_red)"/><circle cx="1532.6" cy="866.6" r="6" fill="url(#g_red)"/><circle cx="1566.6" cy="866.6" r="6" fill="url(#g_red)"/><circle cx="1606.8" cy="872.1" r="6" fill="url(#g_red)"/><circle cx="1647.5" cy="870.7" r="6" fill="url(#g_red)"/><circle cx="1695" cy="870.7" r="6" fill="url(#g_red)"/><circle cx="1745.7" cy="875.7" r="6" fill="url(#g_red)"/>
<circle cx="1331.5" cy="638.2" r="6" fill="url(#g_purple)"/><circle cx="1346.1" cy="652.8" r="6" fill="url(#g_purple)"/><circle cx="1373.5" cy="765" r="6" fill="url(#g_purple)"/><circle cx="1393.7" cy="854.1" r="6" fill="url(#g_purple)"/><circle cx="1420.6" cy="895.6" r="6" fill="url(#g_purple)"/><circle cx="1447.7" cy="944" r="6" fill="url(#g_purple)"/><circle cx="1481.8" cy="952.4" r="6" fill="url(#g_purple)"/><circle cx="1515.4" cy="956.5" r="6" fill="url(#g_purple)"/><circle cx="1556.1" cy="957.3" r="6" fill="url(#g_purple)"/><circle cx="1597.1" cy="958.4" r="6" fill="url(#g_purple)"/><circle cx="1644.1" cy="958.4" r="6" fill="url(#g_purple)"/><circle cx="1695" cy="959.3" r="6" fill="url(#g_purple)"/>
<circle cx="1331.5" cy="965.4" r="6" fill="url(#g_green)"/><circle cx="1342.5" cy="919.1" r="6" fill="url(#g_green)"/><circle cx="1359.7" cy="822.3" r="6" fill="url(#g_green)"/><circle cx="1376.6" cy="771.9" r="6" fill="url(#g_green)"/><circle cx="1393.5" cy="753" r="6" fill="url(#g_green)"/><circle cx="1410.3" cy="744.5" r="6" fill="url(#g_green)"/><circle cx="1437.4" cy="732.7" r="6" fill="url(#g_green)"/><circle cx="1457.7" cy="727" r="6" fill="url(#g_green)"/><circle cx="1485.2" cy="724.6" r="6" fill="url(#g_green)"/><circle cx="1512.1" cy="723.3" r="6" fill="url(#g_green)"/><circle cx="1545.9" cy="719.7" r="6" fill="url(#g_green)"/><circle cx="1579.7" cy="722.8" r="6" fill="url(#g_green)"/><circle cx="1620.6" cy="725" r="6" fill="url(#g_green)"/><circle cx="1661.1" cy="724.2" r="6" fill="url(#g_green)"/><circle cx="1708.3" cy="721.5" r="6" fill="url(#g_green)"/><circle cx="1759.3" cy="729.7" r="6" fill="url(#g_green)"/>
</g>
<path d="M1331.5 829.2 C1335 830.6 1344.1 834.7 1352.2 837.5 C1360.3 840.3 1370.7 843.3 1379.9 845.8 C1389.1 848.3 1398.4 850.8 1407.6 852.7 C1416.8 854.6 1426.1 856 1435.3 857.4 C1444.5 858.8 1452.5 859.9 1463 861 C1473.5 862.1 1482.9 863 1498 864.2 C1513.1 865.4 1535 866.8 1553.4 868 C1571.9 869.2 1590.3 870.5 1608.7 871.3 C1627.1 872.1 1641.2 872.1 1664 872.6 C1686.8 873.1 1732.1 873.8 1745.7 874" fill="none" stroke="#1a0f0f" stroke-width="2.0"/>
<path d="M1331.5 611.6 L1339.2 656.8 L1346.5 703.8 L1353.7 732.7 L1360.5 758 L1371.6 801.5 L1382.7 829.2 L1393.7 854.1 L1407.6 876.2 L1421.4 898.4 L1435.3 912.2 L1449.1 923.3 L1465.7 933 L1482.3 941.3 L1498 945 L1514.6 950.4 L1539.5 955.1 L1581 958.4 L1636.4 960.1 L1695 961" fill="none" stroke="#1a0f0f" stroke-width="2.0" stroke-linejoin="round"/>
<path d="M1331.5 971.2 L1335.6 939.9 L1342.5 890.1 L1352.2 854.1 L1360.5 823.7 L1368.8 801.5 L1377.1 784.9 L1393.5 759.9 L1410.3 745.4 L1437.4 732.7 L1457.7 728.2 L1485.2 724.6 L1512 723 L1545 722.5 L1600 722.4 L1759.3 722.4" fill="none" stroke="#1a0f0f" stroke-width="2.0" stroke-linejoin="round"/>
<line x1="1331.5" y1="606.2" x2="1785.5" y2="606.2" stroke="#3a3030" stroke-width="1.5"/>
<line x1="1331.5" y1="605.4" x2="1331.5" y2="972.2" stroke="#2a1c1c" stroke-width="1.4"/>
<line x1="1331.5" y1="971.4" x2="1786.2" y2="971.4" stroke="#3a3030" stroke-width="1.4"/>
<line x1="1785.5" y1="606.2" x2="1785.5" y2="971.4" stroke="#3a3030" stroke-width="1.5"/>
<line x1="1331.5" y1="880.4" x2="1336.9" y2="880.4" stroke="#1a0f0f" stroke-width="3.3"/>
<line x1="1331.5" y1="788.5" x2="1336.9" y2="788.5" stroke="#1a0f0f" stroke-width="3.3"/>
<line x1="1331.5" y1="696.6" x2="1336.9" y2="696.6" stroke="#1a0f0f" stroke-width="3.3"/>
<line x1="1331.5" y1="926.3" x2="1333.9" y2="926.3" stroke="#1a0f0f" stroke-width="3.0"/>
<line x1="1331.5" y1="834.4" x2="1333.9" y2="834.4" stroke="#1a0f0f" stroke-width="3.0"/>
<line x1="1331.5" y1="742.5" x2="1333.9" y2="742.5" stroke="#1a0f0f" stroke-width="3.0"/>
<line x1="1331.5" y1="650.6" x2="1333.9" y2="650.6" stroke="#1a0f0f" stroke-width="3.0"/>
<line x1="1456.1" y1="971.4" x2="1456.1" y2="965.6" stroke="#1a0f0f" stroke-width="3.3"/>
<line x1="1583.4" y1="971.4" x2="1583.4" y2="965.6" stroke="#1a0f0f" stroke-width="3.3"/>
<line x1="1710.7" y1="971.4" x2="1710.7" y2="965.6" stroke="#1a0f0f" stroke-width="3.3"/>
<line x1="1392.5" y1="971.4" x2="1392.5" y2="969" stroke="#1a0f0f" stroke-width="3.0"/>
<line x1="1519.8" y1="971.4" x2="1519.8" y2="969" stroke="#1a0f0f" stroke-width="3.0"/>
<line x1="1647" y1="971.4" x2="1647" y2="969" stroke="#1a0f0f" stroke-width="3.0"/>
<line x1="1774.3" y1="971.4" x2="1774.3" y2="969" stroke="#1a0f0f" stroke-width="3.0"/>
<text x="1270.9" y="614.8" font-size="24.5" textLength="47.3" lengthAdjust="spacingAndGlyphs" fill="#231f20" stroke="#231f20">0.04</text>
<text x="1270.9" y="706.2" font-size="24.5" textLength="47.3" lengthAdjust="spacingAndGlyphs" fill="#231f20" stroke="#231f20">0.03</text>
<text x="1270.9" y="796.1" font-size="24.5" textLength="47.3" lengthAdjust="spacingAndGlyphs" fill="#231f20" stroke="#231f20">0.02</text>
<text x="1270.9" y="888" font-size="24.5" textLength="47.3" lengthAdjust="spacingAndGlyphs" fill="#231f20" stroke="#231f20">0.01</text>
<text x="1270.9" y="978.8" font-size="24.5" textLength="47.3" lengthAdjust="spacingAndGlyphs" fill="#231f20" stroke="#231f20">0.00</text>
<text x="1314.9" y="1002.3" font-size="24.5" textLength="32.7" lengthAdjust="spacingAndGlyphs" fill="#231f20" stroke="#231f20">0.0</text>
<text x="1441.4" y="1002.3" font-size="24.5" textLength="32.7" lengthAdjust="spacingAndGlyphs" fill="#231f20" stroke="#231f20">0.5</text>
<text x="1568.6" y="1002.3" font-size="24.5" textLength="32.7" lengthAdjust="spacingAndGlyphs" fill="#231f20" stroke="#231f20">1.0</text>
<text x="1694.5" y="1002.3" font-size="24.5" textLength="32.7" lengthAdjust="spacingAndGlyphs" fill="#231f20" stroke="#231f20">1.5</text>
<text x="1496.4" y="1041.2" font-size="24.5" textLength="117.6" lengthAdjust="spacingAndGlyphs" fill="#231f20" stroke="#231f20">Delay (ps)</text>
<text font-size="24.5" textLength="70.2" lengthAdjust="spacingAndGlyphs" transform="translate(1249.7 821.5) rotate(-90)" fill="#231f20" stroke="#231f20" font-style="italic"><tspan font-weight="normal" font-style="normal" stroke="none">Δ</tspan>T / T</text>
<text x="1588" y="644.6" font-size="20" textLength="44.7" lengthAdjust="spacingAndGlyphs" fill="#231f20" stroke="#231f20">NMP</text>
<circle cx="1701" cy="627.5" r="6" fill="url(#g_red)"/>
<text x="1714" y="632.2" font-size="20.2" textLength="45.7" lengthAdjust="spacingAndGlyphs" fill="#231f20"><tspan font-style="italic">n</tspan> = 2</text>
<circle cx="1701" cy="651.8" r="6" fill="url(#g_purple)"/>
<text x="1714" y="657.4" font-size="20.2" textLength="43" lengthAdjust="spacingAndGlyphs" fill="#231f20"><tspan font-style="italic">n</tspan> = 3</text>
<circle cx="1701" cy="676.1" r="6" fill="url(#g_green)"/>
<text x="1713.2" y="681.3" font-size="18.5" textLength="25.7" lengthAdjust="spacingAndGlyphs" fill="#231f20" stroke="#231f20">3D</text>
<text x="1227.6" y="611.8" font-size="42" fill="#231f20" stroke="#231f20">f</text>
</svg>
</body></html>
